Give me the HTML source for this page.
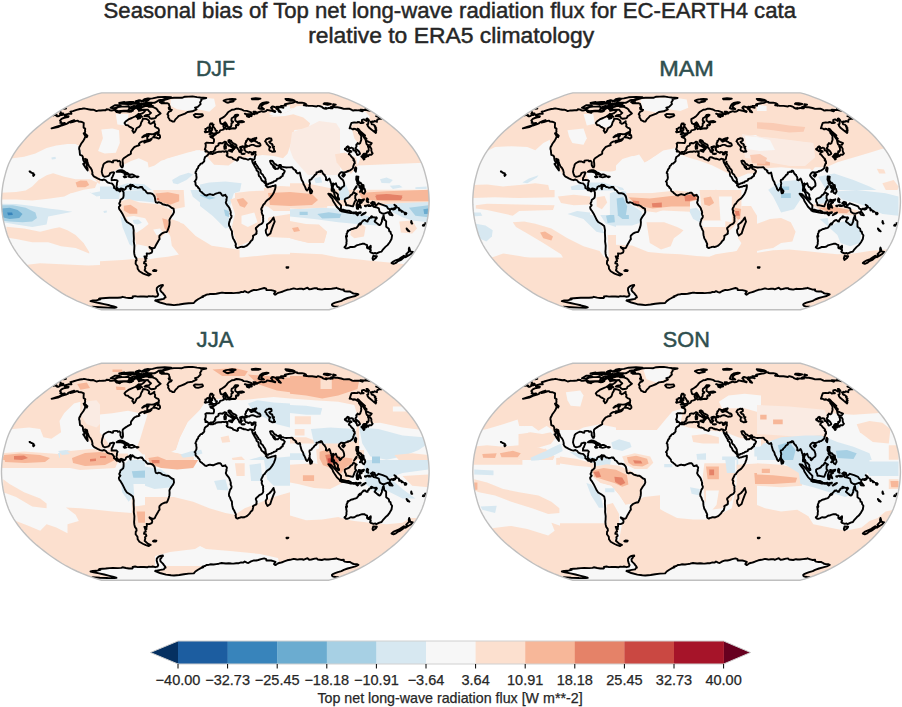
<!DOCTYPE html><html><head><meta charset="utf-8"><style>html,body{margin:0;padding:0;background:#fff;}svg{display:block}</style></head><body>
<svg width="902" height="707" viewBox="0 0 902 707" font-family="&quot;Liberation Sans&quot;, Arial, sans-serif">
<rect width="902" height="707" fill="#fff"/>
<text x="103.6" y="17.7" font-size="21.6" fill="#262626" stroke="#262626" stroke-width="0.45" textLength="692.4" lengthAdjust="spacingAndGlyphs">Seasonal bias of Top net long-wave radiation flux for EC-EARTH4 cata</text>
<text x="308.2" y="42.7" font-size="21.6" fill="#262626" stroke="#262626" stroke-width="0.45" textLength="286.0" lengthAdjust="spacingAndGlyphs">relative to ERA5 climatology</text>
<defs>
<clipPath id="clipDJF"><path d="M329.10,309.75 L333.07,308.65 L337.66,307.16 L342.73,305.32 L348.16,303.18 L353.78,300.79 L359.25,298.21 L364.29,295.54 L368.96,292.78 L373.43,289.93 L377.75,287.01 L381.97,284.02 L386.07,280.97 L390.04,277.87 L393.85,274.71 L397.49,271.52 L400.89,268.28 L404.01,265.01 L406.94,261.72 L409.75,258.40 L412.37,255.07 L414.74,251.73 L416.88,248.37 L418.84,245.01 L420.58,241.65 L422.09,238.28 L423.36,234.92 L424.41,231.56 L425.33,228.20 L426.21,224.83 L427.00,221.47 L427.64,218.11 L428.15,214.75 L428.55,211.39 L428.84,208.02 L429.03,204.66 L429.13,201.30 L429.03,197.94 L428.84,194.58 L428.55,191.21 L428.15,187.85 L427.64,184.49 L427.00,181.13 L426.21,177.77 L425.33,174.40 L424.41,171.04 L423.36,167.68 L422.09,164.32 L420.58,160.95 L418.84,157.59 L416.88,154.23 L414.74,150.87 L412.37,147.53 L409.75,144.20 L406.94,140.88 L404.01,137.59 L400.89,134.32 L397.49,131.08 L393.85,127.89 L390.04,124.73 L386.07,121.63 L381.97,118.58 L377.75,115.59 L373.43,112.67 L368.96,109.82 L364.29,107.06 L359.25,104.39 L353.78,101.81 L348.16,99.42 L342.73,97.28 L337.66,95.44 L333.07,93.95 L329.10,92.85 L101.50,92.85 L97.53,93.95 L92.94,95.44 L87.87,97.28 L82.44,99.42 L76.82,101.81 L71.35,104.39 L66.31,107.06 L61.64,109.82 L57.17,112.67 L52.85,115.59 L48.63,118.58 L44.53,121.63 L40.56,124.73 L36.75,127.89 L33.11,131.08 L29.71,134.32 L26.59,137.59 L23.66,140.88 L20.85,144.20 L18.23,147.53 L15.86,150.87 L13.72,154.23 L11.76,157.59 L10.02,160.95 L8.51,164.32 L7.24,167.68 L6.19,171.04 L5.27,174.40 L4.39,177.77 L3.60,181.13 L2.96,184.49 L2.45,187.85 L2.05,191.21 L1.76,194.58 L1.57,197.94 L1.47,201.30 L1.57,204.66 L1.76,208.02 L2.05,211.39 L2.45,214.75 L2.96,218.11 L3.60,221.47 L4.39,224.83 L5.27,228.20 L6.19,231.56 L7.24,234.92 L8.51,238.28 L10.02,241.65 L11.76,245.01 L13.72,248.37 L15.86,251.73 L18.23,255.07 L20.85,258.40 L23.66,261.72 L26.59,265.01 L29.71,268.28 L33.11,271.52 L36.75,274.71 L40.56,277.87 L44.53,280.97 L48.63,284.02 L52.85,287.01 L57.17,289.93 L61.64,292.78 L66.31,295.54 L71.35,298.21 L76.82,300.79 L82.44,303.18 L87.87,305.32 L92.94,307.16 L97.53,308.65 L101.50,309.75 Z"/></clipPath>
<clipPath id="clipMAM"><path d="M800.40,309.75 L804.37,308.65 L808.96,307.16 L814.03,305.32 L819.46,303.18 L825.08,300.79 L830.55,298.21 L835.59,295.54 L840.26,292.78 L844.73,289.93 L849.05,287.01 L853.27,284.02 L857.37,280.97 L861.34,277.87 L865.15,274.71 L868.79,271.52 L872.19,268.28 L875.31,265.01 L878.24,261.72 L881.05,258.40 L883.67,255.07 L886.04,251.73 L888.18,248.37 L890.14,245.01 L891.88,241.65 L893.39,238.28 L894.66,234.92 L895.71,231.56 L896.63,228.20 L897.51,224.83 L898.30,221.47 L898.94,218.11 L899.45,214.75 L899.85,211.39 L900.14,208.02 L900.33,204.66 L900.43,201.30 L900.33,197.94 L900.14,194.58 L899.85,191.21 L899.45,187.85 L898.94,184.49 L898.30,181.13 L897.51,177.77 L896.63,174.40 L895.71,171.04 L894.66,167.68 L893.39,164.32 L891.88,160.95 L890.14,157.59 L888.18,154.23 L886.04,150.87 L883.67,147.53 L881.05,144.20 L878.24,140.88 L875.31,137.59 L872.19,134.32 L868.79,131.08 L865.15,127.89 L861.34,124.73 L857.37,121.63 L853.27,118.58 L849.05,115.59 L844.73,112.67 L840.26,109.82 L835.59,107.06 L830.55,104.39 L825.08,101.81 L819.46,99.42 L814.03,97.28 L808.96,95.44 L804.37,93.95 L800.40,92.85 L572.80,92.85 L568.83,93.95 L564.24,95.44 L559.17,97.28 L553.74,99.42 L548.12,101.81 L542.65,104.39 L537.61,107.06 L532.94,109.82 L528.47,112.67 L524.15,115.59 L519.93,118.58 L515.83,121.63 L511.86,124.73 L508.05,127.89 L504.41,131.08 L501.01,134.32 L497.89,137.59 L494.96,140.88 L492.15,144.20 L489.53,147.53 L487.16,150.87 L485.02,154.23 L483.06,157.59 L481.32,160.95 L479.81,164.32 L478.54,167.68 L477.49,171.04 L476.57,174.40 L475.69,177.77 L474.90,181.13 L474.26,184.49 L473.75,187.85 L473.35,191.21 L473.06,194.58 L472.87,197.94 L472.77,201.30 L472.87,204.66 L473.06,208.02 L473.35,211.39 L473.75,214.75 L474.26,218.11 L474.90,221.47 L475.69,224.83 L476.57,228.20 L477.49,231.56 L478.54,234.92 L479.81,238.28 L481.32,241.65 L483.06,245.01 L485.02,248.37 L487.16,251.73 L489.53,255.07 L492.15,258.40 L494.96,261.72 L497.89,265.01 L501.01,268.28 L504.41,271.52 L508.05,274.71 L511.86,277.87 L515.83,280.97 L519.93,284.02 L524.15,287.01 L528.47,289.93 L532.94,292.78 L537.61,295.54 L542.65,298.21 L548.12,300.79 L553.74,303.18 L559.17,305.32 L564.24,307.16 L568.83,308.65 L572.80,309.75 Z"/></clipPath>
<clipPath id="clipJJA"><path d="M329.10,580.20 L333.07,579.10 L337.66,577.61 L342.73,575.77 L348.16,573.63 L353.78,571.24 L359.25,568.66 L364.29,565.99 L368.96,563.23 L373.43,560.38 L377.75,557.46 L381.97,554.47 L386.07,551.42 L390.04,548.32 L393.85,545.16 L397.49,541.97 L400.89,538.73 L404.01,535.46 L406.94,532.17 L409.75,528.85 L412.37,525.52 L414.74,522.18 L416.88,518.82 L418.84,515.46 L420.58,512.10 L422.09,508.73 L423.36,505.37 L424.41,502.01 L425.33,498.65 L426.21,495.28 L427.00,491.92 L427.64,488.56 L428.15,485.20 L428.55,481.84 L428.84,478.47 L429.03,475.11 L429.13,471.75 L429.03,468.39 L428.84,465.03 L428.55,461.66 L428.15,458.30 L427.64,454.94 L427.00,451.58 L426.21,448.22 L425.33,444.85 L424.41,441.49 L423.36,438.13 L422.09,434.77 L420.58,431.40 L418.84,428.04 L416.88,424.68 L414.74,421.32 L412.37,417.98 L409.75,414.65 L406.94,411.33 L404.01,408.04 L400.89,404.77 L397.49,401.53 L393.85,398.34 L390.04,395.18 L386.07,392.08 L381.97,389.03 L377.75,386.04 L373.43,383.12 L368.96,380.27 L364.29,377.51 L359.25,374.84 L353.78,372.26 L348.16,369.87 L342.73,367.73 L337.66,365.89 L333.07,364.40 L329.10,363.30 L101.50,363.30 L97.53,364.40 L92.94,365.89 L87.87,367.73 L82.44,369.87 L76.82,372.26 L71.35,374.84 L66.31,377.51 L61.64,380.27 L57.17,383.12 L52.85,386.04 L48.63,389.03 L44.53,392.08 L40.56,395.18 L36.75,398.34 L33.11,401.53 L29.71,404.77 L26.59,408.04 L23.66,411.33 L20.85,414.65 L18.23,417.98 L15.86,421.32 L13.72,424.68 L11.76,428.04 L10.02,431.40 L8.51,434.77 L7.24,438.13 L6.19,441.49 L5.27,444.85 L4.39,448.22 L3.60,451.58 L2.96,454.94 L2.45,458.30 L2.05,461.66 L1.76,465.03 L1.57,468.39 L1.47,471.75 L1.57,475.11 L1.76,478.47 L2.05,481.84 L2.45,485.20 L2.96,488.56 L3.60,491.92 L4.39,495.28 L5.27,498.65 L6.19,502.01 L7.24,505.37 L8.51,508.73 L10.02,512.10 L11.76,515.46 L13.72,518.82 L15.86,522.18 L18.23,525.52 L20.85,528.85 L23.66,532.17 L26.59,535.46 L29.71,538.73 L33.11,541.97 L36.75,545.16 L40.56,548.32 L44.53,551.42 L48.63,554.47 L52.85,557.46 L57.17,560.38 L61.64,563.23 L66.31,565.99 L71.35,568.66 L76.82,571.24 L82.44,573.63 L87.87,575.77 L92.94,577.61 L97.53,579.10 L101.50,580.20 Z"/></clipPath>
<clipPath id="clipSON"><path d="M800.40,580.20 L804.37,579.10 L808.96,577.61 L814.03,575.77 L819.46,573.63 L825.08,571.24 L830.55,568.66 L835.59,565.99 L840.26,563.23 L844.73,560.38 L849.05,557.46 L853.27,554.47 L857.37,551.42 L861.34,548.32 L865.15,545.16 L868.79,541.97 L872.19,538.73 L875.31,535.46 L878.24,532.17 L881.05,528.85 L883.67,525.52 L886.04,522.18 L888.18,518.82 L890.14,515.46 L891.88,512.10 L893.39,508.73 L894.66,505.37 L895.71,502.01 L896.63,498.65 L897.51,495.28 L898.30,491.92 L898.94,488.56 L899.45,485.20 L899.85,481.84 L900.14,478.47 L900.33,475.11 L900.43,471.75 L900.33,468.39 L900.14,465.03 L899.85,461.66 L899.45,458.30 L898.94,454.94 L898.30,451.58 L897.51,448.22 L896.63,444.85 L895.71,441.49 L894.66,438.13 L893.39,434.77 L891.88,431.40 L890.14,428.04 L888.18,424.68 L886.04,421.32 L883.67,417.98 L881.05,414.65 L878.24,411.33 L875.31,408.04 L872.19,404.77 L868.79,401.53 L865.15,398.34 L861.34,395.18 L857.37,392.08 L853.27,389.03 L849.05,386.04 L844.73,383.12 L840.26,380.27 L835.59,377.51 L830.55,374.84 L825.08,372.26 L819.46,369.87 L814.03,367.73 L808.96,365.89 L804.37,364.40 L800.40,363.30 L572.80,363.30 L568.83,364.40 L564.24,365.89 L559.17,367.73 L553.74,369.87 L548.12,372.26 L542.65,374.84 L537.61,377.51 L532.94,380.27 L528.47,383.12 L524.15,386.04 L519.93,389.03 L515.83,392.08 L511.86,395.18 L508.05,398.34 L504.41,401.53 L501.01,404.77 L497.89,408.04 L494.96,411.33 L492.15,414.65 L489.53,417.98 L487.16,421.32 L485.02,424.68 L483.06,428.04 L481.32,431.40 L479.81,434.77 L478.54,438.13 L477.49,441.49 L476.57,444.85 L475.69,448.22 L474.90,451.58 L474.26,454.94 L473.75,458.30 L473.35,461.66 L473.06,465.03 L472.87,468.39 L472.77,471.75 L472.87,475.11 L473.06,478.47 L473.35,481.84 L473.75,485.20 L474.26,488.56 L474.90,491.92 L475.69,495.28 L476.57,498.65 L477.49,502.01 L478.54,505.37 L479.81,508.73 L481.32,512.10 L483.06,515.46 L485.02,518.82 L487.16,522.18 L489.53,525.52 L492.15,528.85 L494.96,532.17 L497.89,535.46 L501.01,538.73 L504.41,541.97 L508.05,545.16 L511.86,548.32 L515.83,551.42 L519.93,554.47 L524.15,557.46 L528.47,560.38 L532.94,563.23 L537.61,565.99 L542.65,568.66 L548.12,571.24 L553.74,573.63 L559.17,575.77 L564.24,577.61 L568.83,579.10 L572.80,580.20 Z"/></clipPath>
</defs>
<text x="195.9" y="76.3" font-size="21.6" fill="#2f4f4f" stroke="#2f4f4f" stroke-width="0.5" textLength="39.2" lengthAdjust="spacingAndGlyphs">DJF</text>
<g clip-path="url(#clipDJF)">
<path d="M329.10,309.75 L333.07,308.65 L337.66,307.16 L342.73,305.32 L348.16,303.18 L353.78,300.79 L359.25,298.21 L364.29,295.54 L368.96,292.78 L373.43,289.93 L377.75,287.01 L381.97,284.02 L386.07,280.97 L390.04,277.87 L393.85,274.71 L397.49,271.52 L400.89,268.28 L404.01,265.01 L406.94,261.72 L409.75,258.40 L412.37,255.07 L414.74,251.73 L416.88,248.37 L418.84,245.01 L420.58,241.65 L422.09,238.28 L423.36,234.92 L424.41,231.56 L425.33,228.20 L426.21,224.83 L427.00,221.47 L427.64,218.11 L428.15,214.75 L428.55,211.39 L428.84,208.02 L429.03,204.66 L429.13,201.30 L429.03,197.94 L428.84,194.58 L428.55,191.21 L428.15,187.85 L427.64,184.49 L427.00,181.13 L426.21,177.77 L425.33,174.40 L424.41,171.04 L423.36,167.68 L422.09,164.32 L420.58,160.95 L418.84,157.59 L416.88,154.23 L414.74,150.87 L412.37,147.53 L409.75,144.20 L406.94,140.88 L404.01,137.59 L400.89,134.32 L397.49,131.08 L393.85,127.89 L390.04,124.73 L386.07,121.63 L381.97,118.58 L377.75,115.59 L373.43,112.67 L368.96,109.82 L364.29,107.06 L359.25,104.39 L353.78,101.81 L348.16,99.42 L342.73,97.28 L337.66,95.44 L333.07,93.95 L329.10,92.85 L101.50,92.85 L97.53,93.95 L92.94,95.44 L87.87,97.28 L82.44,99.42 L76.82,101.81 L71.35,104.39 L66.31,107.06 L61.64,109.82 L57.17,112.67 L52.85,115.59 L48.63,118.58 L44.53,121.63 L40.56,124.73 L36.75,127.89 L33.11,131.08 L29.71,134.32 L26.59,137.59 L23.66,140.88 L20.85,144.20 L18.23,147.53 L15.86,150.87 L13.72,154.23 L11.76,157.59 L10.02,160.95 L8.51,164.32 L7.24,167.68 L6.19,171.04 L5.27,174.40 L4.39,177.77 L3.60,181.13 L2.96,184.49 L2.45,187.85 L2.05,191.21 L1.76,194.58 L1.57,197.94 L1.47,201.30 L1.57,204.66 L1.76,208.02 L2.05,211.39 L2.45,214.75 L2.96,218.11 L3.60,221.47 L4.39,224.83 L5.27,228.20 L6.19,231.56 L7.24,234.92 L8.51,238.28 L10.02,241.65 L11.76,245.01 L13.72,248.37 L15.86,251.73 L18.23,255.07 L20.85,258.40 L23.66,261.72 L26.59,265.01 L29.71,268.28 L33.11,271.52 L36.75,274.71 L40.56,277.87 L44.53,280.97 L48.63,284.02 L52.85,287.01 L57.17,289.93 L61.64,292.78 L66.31,295.54 L71.35,298.21 L76.82,300.79 L82.44,303.18 L87.87,305.32 L92.94,307.16 L97.53,308.65 L101.50,309.75 Z" fill="#fce0cf"/>
<path d="M0.0,161.5 12.9,158.3 24.1,156.7 35.4,153.5 46.6,147.9 56.3,145.5 67.5,143.9 75.6,143.9 79.6,146.3 83.6,160.7 90.0,173.6 98.1,183.2 112.5,186.5 122.2,186.5 119.0,190.0 119.0,206.1 127.0,222.2 133.4,230.2 135.0,254.3 136.7,260.7 120.6,260.7 104.5,264.8 88.4,265.6 72.3,264.8 56.3,264.0 40.2,263.2 27.3,264.8 0.0,264.8Z" fill="#f7f7f7"/>
<path d="M0.0,192.9 16.1,192.1 25.7,190.5 32.2,186.5 38.6,180.0 46.6,175.2 53.1,173.3 64.3,176.8 75.6,179.2 90.0,179.2 97.3,182.4 94.9,188.1 83.6,189.7 72.3,192.9 70.7,193.2 64.3,196.4 48.2,198.8 32.2,200.5 16.1,199.6 0.0,199.6Z" fill="#fce0cf"/>
<path d="M75.6,182.4 80.4,180.4 86.8,180.8 89.2,184.9 85.2,187.3 77.2,187.3Z" fill="#f7b799"/>
<path d="M101.3,129.4 112.5,128.6 119.0,130.2 119.8,143.1 115.8,152.7 104.5,153.5 98.1,151.1 102.9,138.2Z" fill="#f7f7f7"/>
<path d="M115.8,114.1 128.6,114.1 127.0,125.4 117.4,124.6Z" fill="#f7f7f7"/>
<path d="M51.4,157.5 55.5,156.7 55.9,159.1 51.8,159.6Z" fill="#d7e8f1"/>
<path d="M91.6,192.9 104.5,190.5 115.8,186.5 128.6,184.9 145.0,184.1 145.0,200.0 145.0,196.4 123.8,196.4 119.0,199.6 117.4,193.2 96.5,196.4 88.4,191.6Z" fill="#d7e8f1"/>
<path d="M0.0,203.7 16.1,204.1 32.2,206.1 48.2,208.5 61.1,210.1 72.3,211.7 61.1,214.1 48.2,216.5 46.6,224.6 32.2,227.0 16.1,224.6 3.2,222.2 0.0,222.2Z" fill="#d7e8f1"/>
<path d="M0.0,205.3 12.9,205.3 25.7,207.7 35.4,212.5 37.0,218.1 32.2,221.4 22.5,222.2 9.6,221.4 0.0,220.5Z" fill="#a7d0e4"/>
<path d="M1.6,208.5 9.6,207.7 17.7,210.1 22.5,214.1 19.3,218.1 9.6,218.9 2.4,217.3Z" fill="#6bacd0"/>
<path d="M7.2,212.5 12.1,212.5 12.9,214.9 8.0,215.2Z" fill="#3884bb"/>
<path d="M6.4,226.7 24.1,228.6 40.2,231.8 53.1,228.6 59.5,227.3 67.5,230.2 75.6,235.0 83.6,243.1 89.2,251.9 89.2,253.5 75.6,247.9 61.1,246.3 48.2,242.3 32.2,242.3 16.1,239.0 6.4,237.4Z" fill="#fce0cf"/>
<path d="M104.5,211.7 106.9,210.9 107.4,213.3 104.8,213.8Z" fill="#d7e8f1"/>
<path d="M119.8,206.1 127.0,217.3 133.4,225.4 135.0,238.2 134.2,247.9 130.2,243.1 127.0,228.6 122.2,218.9Z" fill="#d7e8f1"/>
<path d="M123.8,207.7 128.6,204.5 135.0,206.1 138.3,210.9 133.4,214.1 125.4,212.5Z" fill="#f7b799"/>
<path d="M170.7,99.6 185.2,98.0 199.7,97.2 214.1,98.8 215.7,106.1 209.3,111.7 198.1,109.3 188.4,110.9 177.2,109.3 170.7,106.1Z" fill="#f7f7f7"/>
<path d="M268.8,114.1 278.4,107.7 290.0,105.3 290.0,118.1 276.8,117.3Z" fill="#f7f7f7"/>
<path d="M145.0,168.8 154.6,165.6 161.1,160.7 172.3,157.5 185.2,154.3 196.4,150.3 204.5,151.1 207.7,157.5 214.1,164.8 228.6,165.6 235.0,160.7 247.9,158.3 257.5,155.9 270.4,155.1 281.7,157.5 290.0,155.9 290.0,200.0 145.0,200.0Z" fill="#f7f7f7"/>
<path d="M173.9,181.6 180.4,176.8 190.0,172.8 193.2,175.2 186.8,181.6 177.2,184.9Z" fill="#d7e8f1"/>
<path d="M153.0,190.5 164.3,188.9 177.2,189.7 182.0,194.5 182.0,200.0 153.0,200.0Z" fill="#fce0cf"/>
<path d="M156.3,194.5 169.1,192.9 178.8,195.3 179.6,200.0 156.3,200.0Z" fill="#f7b799"/>
<path d="M145.0,190.0 290.0,190.0 290.0,254.3 273.6,254.3 257.5,255.9 241.5,257.5 225.4,256.7 209.3,252.7 193.2,246.3 180.4,251.1 178.8,259.1 145.0,259.1Z" fill="#f7f7f7"/>
<path d="M198.1,184.9 209.3,182.4 225.4,181.6 241.5,183.2 239.9,191.3 225.4,196.1 215.7,200.0 235.0,190.0 231.8,199.6 228.6,214.1 230.2,227.0 225.4,228.6 212.5,215.7 198.1,204.5 190.0,198.0 190.0,190.0 198.1,200.0Z" fill="#d7e8f1"/>
<path d="M198.1,194.8 206.1,194.8 215.7,198.0 209.3,199.6Z" fill="#a7d0e4"/>
<path d="M223.8,209.3 228.6,210.9 229.4,217.3 225.4,215.7Z" fill="#a7d0e4"/>
<path d="M235.0,192.9 249.5,191.3 267.2,190.5 281.7,189.7 290.0,188.1 290.0,200.0 235.0,200.0Z" fill="#fce0cf"/>
<path d="M145.0,206.1 148.2,190.0 185.2,190.0 185.2,207.7 173.9,210.9 183.6,222.2 186.8,231.8 180.4,235.0 169.1,238.2 161.1,236.6 154.6,231.8 145.0,230.2Z" fill="#fce0cf"/>
<path d="M154.6,193.2 169.1,191.6 182.0,194.0 183.6,202.9 177.2,206.1 164.3,205.3 156.3,201.3Z" fill="#f7b799"/>
<path d="M161.1,219.7 167.5,218.9 173.1,224.6 175.5,232.6 170.7,233.4 163.5,227.0Z" fill="#f7b799"/>
<path d="M230.2,199.6 244.7,194.8 260.8,194.8 267.2,199.6 262.4,210.9 260.8,223.8 255.9,231.8 249.5,241.4 238.2,246.3 235.0,238.2 231.8,227.0 235.0,214.1Z" fill="#fce0cf"/>
<path d="M241.5,215.7 254.3,212.5 257.5,222.2 247.9,227.0 241.5,223.8Z" fill="#f7f7f7"/>
<path d="M236.6,199.6 243.1,198.0 247.9,202.9 244.7,207.7 239.9,206.1Z" fill="#f7b799"/>
<path d="M264.0,194.8 290.0,191.6 290.0,210.9 273.6,210.9 267.2,206.1Z" fill="#fce0cf"/>
<path d="M272.0,196.4 290.0,193.2 290.0,204.5 273.6,206.1Z" fill="#f7b799"/>
<path d="M268.8,217.3 290.0,214.1 290.0,236.6 273.6,236.6 267.2,230.2Z" fill="#fce0cf"/>
<path d="M290.0,108.5 309.3,106.1 330.2,107.7 351.1,110.1 365.6,111.7 370.4,117.3 360.7,120.5 351.1,125.4 354.3,138.2 359.1,144.7 360.7,157.5 357.5,165.6 435.0,162.3 435.0,189.7 338.2,189.7 322.2,186.5 306.1,183.2 290.0,183.2Z" fill="#f7f7f7"/>
<path d="M290.0,115.7 299.6,114.1 309.3,118.9 318.9,122.2 330.2,123.8 335.0,131.8 328.6,136.6 322.2,141.4 331.8,146.3 338.2,151.1 335.0,157.5 327.0,160.7 314.1,159.1 306.1,165.6 298.0,165.6 290.0,160.7Z" fill="#faebe3"/>
<path d="M335.0,154.3 344.7,152.7 355.9,157.5 357.5,165.6 351.1,173.6 343.1,170.4 336.6,162.3Z" fill="#fce0cf"/>
<path d="M380.0,179.2 386.5,177.6 392.9,180.0 389.7,183.2 381.6,182.9Z" fill="#d7e8f1"/>
<path d="M389.7,185.7 399.3,184.9 402.5,187.3 392.9,188.9Z" fill="#d7e8f1"/>
<path d="M415.4,187.3 426.7,186.5 426.7,188.9 415.4,188.9Z" fill="#d7e8f1"/>
<path d="M314.1,178.4 320.5,176.8 322.2,182.4 315.7,183.2Z" fill="#d7e8f1"/>
<path d="M290.0,189.7 330.2,188.1 338.2,192.9 338.2,200.0 290.0,200.0Z" fill="#fce0cf"/>
<path d="M338.2,186.5 346.3,184.9 349.5,192.9 347.9,200.0 339.8,200.0Z" fill="#d7e8f1"/>
<path d="M290.0,206.1 435.0,206.1 435.0,264.0 402.5,264.0 386.5,262.3 370.4,260.7 354.3,259.1 338.2,257.5 322.2,254.3 306.1,253.5 290.0,252.7Z" fill="#f7f7f7"/>
<path d="M290.0,190.0 327.0,190.0 328.6,199.6 327.0,207.7 290.0,207.7Z" fill="#fce0cf"/>
<path d="M290.0,199.6 302.9,198.8 315.7,201.3 312.5,204.5 299.6,205.3 290.0,205.3Z" fill="#f7b799"/>
<path d="M357.5,200.0 357.5,192.9 386.5,191.3 435.0,189.7 435.0,200.0 428.3,201.3 386.5,201.3 362.3,199.6 357.5,190.0Z" fill="#f7b799"/>
<path d="M375.2,194.8 386.5,194.0 402.5,195.6 400.9,198.8 380.0,198.8Z" fill="#e58268"/>
<path d="M375.2,196.1 389.7,194.5 402.5,196.9 400.9,200.0 376.8,200.0Z" fill="#e58268"/>
<path d="M290.0,209.3 322.2,207.7 346.3,209.3 359.1,214.1 373.6,217.3 376.8,225.4 354.3,223.8 338.2,222.2 314.1,218.9 290.0,216.5Z" fill="#d7e8f1"/>
<path d="M299.6,211.7 307.7,211.7 307.7,214.9 299.6,214.9Z" fill="#a7d0e4"/>
<path d="M317.3,214.1 328.6,212.2 341.4,214.1 339.8,218.1 322.2,218.6Z" fill="#a7d0e4"/>
<path d="M380.0,204.5 402.5,202.9 428.3,202.1 428.3,222.2 412.2,220.5 402.5,217.3 392.9,212.5Z" fill="#d7e8f1"/>
<path d="M409.0,207.7 428.3,205.3 428.3,217.3 415.4,215.7Z" fill="#a7d0e4"/>
<path d="M423.4,209.3 428.3,208.5 428.3,214.1 424.2,214.1Z" fill="#6bacd0"/>
<path d="M290.0,222.2 306.1,224.6 318.9,224.6 327.0,231.8 323.8,243.1 309.3,243.1 296.4,239.8 290.0,238.2Z" fill="#fce0cf"/>
<path d="M290.0,227.0 296.4,227.3 298.0,230.2 290.0,231.0Z" fill="#f7b799"/>
<path d="M351.1,228.6 360.7,223.8 365.6,227.0 364.0,236.6 354.3,238.2 350.3,235.0Z" fill="#fce0cf"/>
<path d="M399.3,221.4 412.2,220.5 417.0,228.6 412.2,233.4 400.9,232.6Z" fill="#fce0cf"/>
<path d="M122.2,165.5 131.0,161.1 138.8,158.3 147.7,162.2 148.8,168.8 157.6,165.5 166.5,158.8 177.6,155.5 188.7,152.2 200.0,150.0 200.0,200.0 100.0,200.0 100.0,176.6 106.7,176.6 111.1,172.2 116.6,169.9Z" fill="#f7f7f7"/>
<path d="M172.1,179.9 179.8,175.5 188.7,172.7 193.1,174.4 186.5,179.9 177.6,184.3 173.2,183.2Z" fill="#d7e8f1"/>
<path d="M100.0,186.6 116.6,186.6 127.7,183.2 144.3,184.3 153.2,191.0 152.1,200.0 100.0,200.0Z" fill="#d7e8f1"/>
<path d="M152.1,191.0 166.5,189.9 179.8,191.0 182.0,200.0 152.1,200.0Z" fill="#fce0cf"/>
<path d="M154.3,193.2 166.5,192.1 177.6,193.2 179.8,200.0 155.4,200.0Z" fill="#f7b799"/>
<path d="M240.0,112.0 268.3,117.1 279.6,114.8 289.8,110.8 296.6,106.3 307.9,105.2 340.0,106.3 340.0,175.0 240.0,175.0Z" fill="#fce0cf"/>
<path d="M268.3,117.1 279.6,114.8 289.8,110.8 296.6,106.3 307.9,105.2 340.0,106.3 340.0,175.0 283.0,175.0 283.0,158.3 287.5,153.8 289.8,147.0 292.0,140.2 294.3,130.1 307.9,128.9 310.1,123.3 303.3,117.6 293.2,114.2 285.2,115.9Z" fill="#f7f7f7"/>
<path d="M292.0,132.3 307.9,126.7 319.2,121.0 336.2,123.3 340.0,128.9 340.0,175.0 307.9,175.0 301.1,167.4 293.2,158.3 289.8,149.3Z" fill="#faebe3"/>
<path d="M240.0,158.3 251.3,156.7 262.6,155.0 273.9,156.1 283.0,158.3 283.0,175.0 240.0,175.0Z" fill="#f7f7f7"/>
<path d="M335.0,154.3 344.7,152.7 355.9,157.5 357.5,165.6 351.1,173.6 343.1,170.4 336.6,162.3Z" fill="#fce0cf"/>
<path d="M264.0,188.0 280.0,186.0 300.0,187.0 320.0,189.0 328.0,195.0 326.0,207.0 300.0,209.0 280.0,208.0 264.0,206.0Z" fill="#fce0cf"/>
<path d="M268.0,193.0 290.0,192.0 312.0,194.0 318.0,200.0 312.0,205.0 290.0,206.0 270.0,205.0Z" fill="#f7b799"/>
<path d="M268.0,218.0 290.0,221.0 306.0,224.0 319.0,225.0 327.0,232.0 324.0,243.0 309.0,243.0 296.0,240.0 290.0,238.0 268.0,237.0Z" fill="#fce0cf"/>
<path d="M292.0,228.0 298.0,227.0 300.0,231.0 294.0,232.0Z" fill="#f7b799"/>
<path d="M100.0,190.0 200.0,190.0 200.0,270.0 100.0,270.0Z" fill="#f7f7f7"/>
<path d="M100.0,190.0 120.4,190.0 119.2,199.0 100.0,199.0Z" fill="#d7e8f1"/>
<path d="M122.6,191.1 143.0,190.0 153.2,196.8 154.3,202.4 143.0,201.3 128.3,200.2 122.6,197.9Z" fill="#d7e8f1"/>
<path d="M190.5,190.0 200.0,190.0 200.0,202.4 192.8,196.8Z" fill="#d7e8f1"/>
<path d="M153.2,190.0 183.7,190.0 184.8,207.0 173.5,209.2 163.3,204.7 154.3,200.2Z" fill="#fce0cf"/>
<path d="M155.4,193.4 167.9,192.3 179.2,194.5 179.2,201.3 170.1,204.7 158.8,201.3Z" fill="#f7b799"/>
<path d="M156.6,197.9 158.8,197.9 159.4,200.2 157.1,200.2Z" fill="#e58268"/>
<path d="M120.4,201.3 129.4,199.0 139.6,202.4 150.9,203.6 161.1,204.7 172.4,210.4 170.1,221.7 165.6,233.0 158.8,239.8 153.2,248.8 147.5,253.3 138.5,253.3 135.1,239.8 133.9,227.3 126.0,220.5 119.2,210.4Z" fill="#fce0cf"/>
<path d="M123.8,205.8 130.5,204.7 137.3,209.2 137.3,213.8 129.4,213.8 123.8,210.4Z" fill="#f7b799"/>
<path d="M126.0,217.1 133.9,216.0 145.2,218.3 148.6,223.9 143.0,228.5 136.2,233.0 131.7,226.2Z" fill="#f7f7f7"/>
<path d="M132.8,220.0 138.5,219.4 141.9,222.8 137.3,224.5 133.9,223.4Z" fill="#d7e8f1"/>
<path d="M153.2,229.6 160.0,228.5 163.3,233.0 156.6,235.2Z" fill="#f7f7f7"/>
<path d="M137.3,244.3 147.5,246.6 149.8,253.3 147.5,260.1 138.5,260.1 136.2,253.3Z" fill="#f7f7f7"/>
<path d="M167.9,218.3 179.2,221.7 186.0,229.6 183.7,240.9 173.5,239.8 167.9,233.0Z" fill="#fce0cf"/>
<path d="M162.2,218.3 166.7,219.4 172.4,223.9 174.7,231.9 170.1,233.0 164.5,228.5Z" fill="#f7b799"/>
<path d="M120.4,216.0 126.0,220.5 132.8,228.5 132.8,246.6 129.4,244.3 122.6,227.3Z" fill="#d7e8f1"/>
<path d="M100.0,261.3 122.6,260.1 133.9,259.0 137.3,260.1 137.3,270.0 100.0,270.0Z" fill="#fce0cf"/>
<path d="M145.2,260.1 156.6,257.9 167.9,256.7 179.2,254.5 200.0,251.1 200.0,270.0 145.2,270.0Z" fill="#fce0cf"/>
<path d="M137.3,257.9 145.2,257.9 145.2,270.0 137.3,270.0Z" fill="#fce0cf"/>
<path d="M103.4,210.9 106.8,210.4 106.8,212.6 104.0,213.0Z" fill="#d7e8f1"/>
<path d="M167.8,217.9 183.7,223.9 195.7,235.9 211.7,245.8 239.6,249.8 239.6,259.8 199.7,257.8 179.7,255.8 171.8,245.8Z" fill="#fce0cf"/>
<path d="M101.5,309.8 91.6,306.7 99.9,307.2 107.6,307.6 114.6,307.7 116.5,307.4 113.8,306.5 109.5,305.3 104.2,304.1 99.0,303.0 93.7,301.9 90.5,301.1 92.8,300.5 96.3,300.4 98.2,299.9 100.4,299.4 99.1,298.6 99.8,298.4 102.5,298.2 105.7,298.0 109.5,297.7 112.9,297.6 117.7,297.7 121.2,297.5 122.5,296.8 125.9,297.6 129.0,298.0 132.4,298.0 132.9,297.2 132.7,296.4 135.1,296.1 137.6,296.6 140.5,296.5 143.9,296.5 147.6,296.7 148.9,296.2 151.3,296.4 152.6,296.1 155.3,296.7 157.4,296.3 158.2,294.8 158.2,294.3 157.4,292.8 157.0,291.2 156.7,290.3 156.8,288.2 157.9,286.9 159.0,286.1 161.3,285.1 162.9,285.0 162.9,285.7 162.0,286.1 161.4,287.4 160.2,288.7 160.4,290.6 161.3,291.7 162.9,293.1 163.6,294.1 164.4,295.2 165.2,296.2 165.6,297.3 164.5,297.8 164.1,298.4 163.8,298.9 160.5,299.5 156.7,300.2 155.4,300.3 155.2,300.7 160.0,302.5 166.0,304.2 171.0,304.8 174.0,305.1 179.3,304.5 183.9,303.7 188.7,303.2 193.8,303.0 195.4,301.1 198.0,299.3 200.8,297.7 203.1,296.8 202.4,296.3 205.1,295.5 206.5,294.6 209.1,294.2 210.4,293.9 213.6,294.0 216.3,293.7 218.8,293.2 221.7,292.6 223.4,292.8 225.9,293.0 228.8,292.9 231.4,293.0 233.5,293.1 236.2,292.9 238.8,292.8 241.2,292.0 243.4,292.1 244.7,291.1 246.8,292.1 248.3,292.6 251.0,291.0 254.0,289.9 256.2,290.1 258.3,289.6 261.0,288.8 264.2,288.0 266.2,288.7 266.4,290.1 268.5,290.1 271.1,290.1 273.4,290.7 275.5,291.5 274.0,293.7 275.2,294.7 276.0,294.4 277.5,293.1 279.0,292.6 280.1,292.3 282.9,291.5 284.2,290.9 287.1,289.8 290.1,289.4 293.7,288.4 295.7,288.9 297.3,289.1 299.7,288.8 302.2,288.8 303.4,289.4 307.5,287.7 309.2,289.2 311.4,289.0 314.8,288.2 316.9,288.1 317.7,289.0 319.5,289.2 321.9,289.6 324.7,288.8 326.3,289.0 328.5,289.0 331.6,288.7 334.9,288.3 336.3,287.8 337.7,288.5 339.9,289.1 341.4,289.6 343.8,289.4 343.5,290.4 344.8,291.2 347.2,291.5 349.7,291.4 351.0,292.1 351.7,292.4 352.2,293.0 354.0,293.6 355.7,293.7 357.3,293.9 358.4,294.3 355.4,296.0 351.8,296.9 347.6,298.0 343.8,299.5 341.4,300.8 337.9,301.8 335.1,302.7 332.8,303.6 331.9,304.5 332.1,305.3 332.7,305.9 334.3,306.4 336.5,306.6 339.0,306.7 329.1,309.8Z" fill="#f7f7f7"/>
<path d="M64.5,114.9 64.7,116.1 65.6,116.3 68.6,116.3 68.2,117.1 66.3,117.4 63.5,118.0 61.5,118.8 60.0,120.6 61.0,121.8 60.3,122.9 63.3,123.2 64.8,123.0 63.1,124.1 59.1,126.0 55.8,126.9 51.6,128.4 54.2,127.9 57.9,127.1 61.6,125.5 65.9,124.2 68.1,123.2 68.1,122.5 71.8,120.9 74.3,120.2 71.7,121.5 70.2,122.6 72.5,122.1 76.2,120.9 77.8,120.6 78.7,121.6 80.9,121.8 82.2,122.1 83.8,123.0 83.7,124.1 83.6,126.0 83.6,127.6 84.9,128.4 85.3,128.8 85.0,130.1 85.2,131.5 84.7,132.9 85.4,133.9 86.3,134.8 87.4,135.8 86.8,137.2 86.0,136.5 85.2,136.7 84.6,138.5 83.3,140.9 81.1,143.8 80.0,146.2 79.3,147.1 79.1,149.0 79.6,150.5 79.7,152.1 80.0,154.8 82.1,155.6 82.9,156.9 82.9,157.6 83.0,158.8 83.4,160.6 84.5,162.3 84.4,163.5 83.2,163.9 84.2,165.4 85.6,167.8 87.6,170.5 87.6,168.8 86.9,166.5 86.5,163.8 86.1,161.6 85.0,158.8 85.7,159.1 87.0,159.7 87.5,162.0 88.1,163.8 89.2,166.5 90.5,167.7 91.8,170.0 92.5,172.9 92.2,173.9 93.2,175.6 94.2,176.7 96.2,177.6 98.1,178.7 100.2,179.6 102.3,180.2 104.1,179.5 105.8,180.3 106.8,181.8 108.1,182.6 109.8,183.1 111.8,183.4 112.4,184.0 113.4,185.2 114.1,186.4 114.0,187.9 114.8,188.4 115.5,188.5 116.3,189.9 117.1,190.4 118.5,190.4 119.9,191.5 120.5,191.2 120.3,190.1 121.2,189.3 122.5,190.0 122.9,191.2 123.6,192.3 123.6,195.9 123.2,197.8 121.7,199.1 120.4,200.1 120.1,201.8 119.2,203.5 119.7,204.7 120.4,205.1 120.0,205.9 118.9,206.9 118.9,208.0 119.4,209.4 120.7,211.0 122.2,213.4 124.2,217.4 125.4,219.9 126.9,222.0 130.3,224.0 132.9,225.9 133.7,230.1 133.6,233.0 133.9,238.4 133.8,241.6 134.4,245.7 134.3,249.0 134.1,251.3 134.3,253.7 134.9,256.4 136.4,258.4 136.6,260.4 135.8,260.9 135.6,263.8 137.5,266.3 137.7,268.8 139.4,271.3 143.3,273.6 145.9,274.7 148.8,275.6 149.8,274.7 150.7,274.3 148.3,273.4 145.9,271.6 145.6,271.1 144.7,270.5 144.8,269.6 145.3,268.3 145.0,266.7 146.4,265.4 145.8,263.7 144.0,263.3 144.4,261.7 145.8,261.2 145.2,258.8 146.6,258.5 145.1,258.0 144.4,256.4 146.7,256.5 146.9,254.0 146.7,253.5 149.3,253.6 151.7,252.7 152.2,251.3 152.2,250.2 151.2,248.8 149.8,247.8 149.5,246.9 150.4,247.6 152.3,248.2 153.8,248.2 154.9,247.6 155.2,246.6 156.3,244.5 157.6,242.3 158.6,240.3 159.6,239.2 159.3,237.1 159.5,235.7 161.7,233.6 163.6,232.6 165.3,232.1 166.7,232.1 167.7,230.3 168.3,228.6 168.9,226.9 169.4,225.0 169.6,222.4 169.4,219.9 169.9,218.8 171.6,216.1 173.1,214.2 174.0,212.1 173.9,210.8 173.6,208.7 171.8,208.0 169.6,206.3 167.8,205.2 166.0,205.2 163.8,204.5 162.6,204.3 160.7,202.8 158.5,202.1 157.6,202.9 155.9,202.4 155.4,201.0 155.1,198.9 154.6,196.6 153.8,195.4 152.6,194.0 150.1,193.2 147.6,193.2 146.4,192.2 145.3,190.5 143.6,189.7 142.7,188.0 141.2,187.3 142.1,186.9 140.4,186.9 139.0,187.6 137.4,187.7 135.8,187.0 134.7,187.0 133.8,185.8 132.4,186.0 132.5,184.9 131.1,185.4 130.4,186.0 130.7,186.8 130.6,189.2 130.0,188.0 131.0,187.3 130.8,185.7 130.1,185.3 130.6,184.6 128.6,186.2 127.7,186.1 126.1,187.0 125.7,188.7 124.4,189.7 123.8,189.6 122.8,188.9 121.1,188.4 119.6,189.3 118.6,189.2 118.0,188.9 116.7,187.3 116.4,186.4 116.9,184.5 116.9,183.0 117.6,181.1 116.4,180.1 114.5,179.9 112.5,180.1 111.6,180.2 111.8,177.8 112.6,176.7 113.2,175.1 114.2,172.7 113.7,172.3 112.1,172.4 110.1,173.1 109.7,174.5 108.5,175.9 106.7,176.4 104.8,176.8 103.2,176.0 102.8,175.3 102.2,173.6 101.7,171.8 102.2,168.6 102.9,166.6 103.5,164.3 104.6,163.2 106.7,162.0 108.2,161.4 110.2,161.5 111.7,162.2 113.0,162.3 113.2,160.7 115.1,160.4 117.1,160.4 117.9,161.4 119.4,160.8 120.4,162.0 120.4,163.6 120.4,165.0 121.1,166.5 121.8,167.4 122.4,167.4 123.0,165.9 122.9,163.2 122.6,161.1 122.7,159.5 123.7,158.3 126.0,156.7 127.5,155.7 129.5,154.6 130.9,153.8 130.9,151.7 131.6,150.3 132.4,149.4 133.0,148.6 134.5,146.9 135.7,146.5 137.1,145.8 138.6,145.5 139.4,145.1 138.9,143.8 140.0,142.6 141.8,141.7 143.9,141.1 145.1,140.6 146.9,140.5 144.9,141.5 144.3,142.7 146.2,141.9 148.1,141.4 150.2,140.6 151.5,139.4 151.7,138.4 150.1,139.6 148.7,139.8 147.2,139.3 147.3,137.7 147.1,136.8 148.4,136.1 148.7,135.6 147.8,135.4 146.3,135.5 144.3,136.3 142.2,137.3 144.2,135.5 145.8,135.0 146.9,134.1 148.8,133.9 151.6,134.2 153.5,134.1 156.9,132.4 158.6,131.7 159.0,130.2 158.3,128.4 156.3,127.6 154.8,126.2 155.2,124.6 154.3,123.1 154.4,121.3 153.1,122.4 151.5,123.5 150.1,123.7 149.6,123.0 148.7,122.7 149.3,121.4 148.6,120.3 147.4,119.4 145.8,118.9 143.6,118.6 142.8,118.8 142.4,120.6 141.3,122.2 140.4,125.4 139.1,126.9 136.8,128.0 135.1,131.7 133.7,132.8 133.1,131.5 132.3,130.6 133.2,128.8 131.2,127.5 129.3,126.7 128.1,125.4 125.8,125.0 124.5,123.0 125.6,121.5 128.4,119.4 131.8,118.0 134.9,116.5 136.9,115.4 138.7,113.8 139.9,114.1 142.3,113.4 144.1,112.1 145.2,110.7 144.4,109.8 141.1,110.3 138.9,110.9 138.6,109.8 137.4,108.8 139.0,107.6 136.8,107.6 135.3,108.2 133.0,109.8 131.4,111.6 129.5,111.7 126.3,111.2 123.4,111.2 120.6,111.9 119.9,112.8 118.1,112.3 116.6,112.1 115.6,111.1 115.0,109.9 111.7,110.5 109.8,110.3 109.4,109.6 106.6,109.3 105.6,110.2 103.2,110.3 100.6,110.5 99.1,110.4 96.4,111.1 94.5,110.2 93.0,109.6 90.9,109.7 88.4,109.3 86.5,108.9 84.0,108.4 82.0,108.8 80.0,109.0 76.6,109.8 72.9,111.1 70.4,111.6 71.2,112.3 70.9,113.1 71.5,113.8 70.1,113.7 68.3,113.8 64.5,114.9ZM192.5,96.4 197.0,97.1 200.4,97.5 206.3,98.0 201.2,99.1 201.5,100.3 200.1,102.3 200.6,104.1 197.8,106.9 195.0,107.6 196.6,109.3 192.4,111.3 187.6,112.0 185.0,113.6 181.7,114.9 178.4,116.2 177.5,117.4 175.4,119.4 174.2,121.5 172.8,121.6 171.0,120.6 169.9,120.4 169.1,118.7 168.1,117.3 168.4,115.4 167.4,114.3 168.1,113.0 169.0,111.6 171.2,110.8 171.8,109.8 169.0,109.1 170.0,108.2 168.6,107.9 169.8,106.9 169.3,105.7 168.8,103.9 167.1,103.2 164.2,103.3 161.4,103.2 159.9,102.3 163.8,101.9 161.3,101.1 159.8,100.9 164.0,100.0 167.3,99.1 170.3,98.1 174.0,97.7 178.7,97.7 182.0,97.8 184.9,96.7 188.4,96.6 192.5,96.4ZM160.6,113.4 157.6,115.6 156.2,116.2 155.9,117.5 154.8,118.3 151.5,118.8 149.8,118.1 148.9,116.5 147.2,116.3 144.4,116.1 146.0,115.1 149.1,114.6 151.0,112.9 148.8,111.1 148.0,109.6 145.0,109.7 141.7,109.4 139.7,108.9 141.6,107.3 145.3,106.1 149.6,105.8 151.6,106.7 153.8,107.4 155.8,108.3 157.4,109.7 157.7,110.7 159.4,112.3 160.6,113.4ZM154.5,102.8 151.6,102.9 145.5,103.0 147.2,101.8 146.4,100.8 144.7,100.3 148.1,98.9 152.6,98.4 157.3,97.3 164.7,96.9 171.1,97.2 169.3,98.0 165.6,98.6 162.6,99.6 158.9,100.2 157.6,101.1 154.5,102.8ZM148.1,100.3 144.4,100.9 143.2,100.3 144.4,99.1 147.9,98.4 149.8,99.0 148.1,100.3ZM150.9,104.8 143.2,104.9 141.9,103.9 145.3,102.8 152.0,102.8 150.9,104.8ZM140.7,106.7 135.7,107.6 134.6,106.8 136.7,105.8 140.3,105.4 140.7,106.7ZM127.8,110.7 123.8,110.7 118.0,111.1 115.1,109.9 115.0,108.8 118.0,107.1 121.8,106.6 124.7,106.6 128.4,106.3 129.1,106.7 129.3,108.7 127.8,110.7ZM114.3,108.2 110.6,107.7 114.8,105.2 119.2,105.1 121.0,106.1 117.0,107.3 114.3,108.2ZM131.7,103.8 127.8,104.0 122.7,103.7 125.0,102.5 130.0,102.0 133.5,102.0 131.7,103.8ZM137.1,103.9 133.1,103.9 135.3,102.7 138.8,102.7 137.1,103.9ZM130.2,108.2 132.4,108.5 134.9,107.6 136.0,106.1 134.0,106.0 131.1,106.9 130.2,108.2ZM129.0,111.4 131.0,111.5 133.0,110.7 132.8,109.9 130.9,110.2 129.0,111.4ZM135.7,107.6 137.7,107.7 140.5,106.9 141.5,105.4 138.7,105.3 135.7,107.6ZM137.5,104.6 140.1,104.8 142.2,104.0 141.1,103.4 138.4,103.8 137.5,104.6ZM119.2,103.0 121.4,103.8 124.9,102.9 124.4,101.9 119.2,103.0ZM135.6,101.3 138.4,101.5 140.7,100.5 139.1,100.1 135.6,101.3ZM141.3,101.3 143.6,101.3 145.1,100.3 143.1,100.2 141.3,101.3ZM148.5,106.7 151.6,106.9 152.9,105.9 149.8,105.7 148.5,106.7ZM137.8,118.9 140.1,118.2 139.4,117.7 137.8,118.2 137.8,118.9ZM145.5,105.4 148.6,105.7 150.4,105.0 147.3,104.8 145.5,105.4ZM127.3,104.1 130.3,104.6 132.3,103.9 130.3,103.2 127.3,104.1ZM142.1,116.9 139.4,116.8 136.6,117.0 137.6,115.1 139.7,114.5 141.3,116.1 142.1,116.9ZM153.1,137.3 156.1,137.5 158.8,138.6 160.1,137.5 160.0,135.9 159.5,134.8 157.8,135.0 158.8,132.2 157.3,132.6 155.5,134.3 153.1,137.3ZM83.7,133.3 86.0,134.3 86.7,136.3 85.4,136.1 84.2,134.3 83.7,133.3ZM116.6,171.8 118.0,170.6 120.2,170.1 121.9,170.2 124.2,171.2 125.6,172.3 127.3,172.9 128.8,174.0 127.1,174.5 124.6,174.5 125.0,173.5 123.9,172.9 122.8,172.3 120.9,171.8 119.4,171.6 118.2,171.7 116.6,171.8ZM128.3,176.6 130.6,174.5 132.7,174.5 134.2,175.3 135.4,176.3 133.4,176.8 131.3,177.4 129.3,176.8 128.3,176.6ZM123.7,176.6 125.2,176.4 126.1,177.1 124.5,177.4 123.7,176.6ZM136.7,176.4 138.5,176.7 137.4,177.2 136.6,177.1 136.7,176.4ZM33.5,174.1 34.3,174.8 33.4,175.9 33.1,175.1 33.5,174.1ZM32.9,173.1 33.5,173.3 33.0,173.6 32.9,173.1ZM31.1,172.3 31.7,172.7 31.2,172.7 31.1,172.3ZM29.6,171.4 30.1,171.4 29.8,171.8 29.6,171.4ZM153.0,270.6 154.5,270.0 156.4,270.4 155.9,271.1 153.9,271.1 153.0,270.6ZM209.4,134.2 211.6,133.9 213.8,133.4 215.9,133.3 216.7,132.6 216.2,132.0 217.0,130.8 215.6,130.4 215.4,129.7 214.8,128.5 213.7,127.1 212.7,126.6 213.3,125.2 213.6,124.6 211.8,124.5 212.3,123.4 210.5,123.4 209.9,124.6 209.6,126.0 210.3,127.0 210.5,128.1 211.9,128.0 212.3,129.3 212.2,130.1 210.7,130.1 211.1,130.7 211.0,131.5 210.0,132.0 211.9,132.5 211.0,132.9 209.4,134.2ZM209.2,131.6 209.1,129.9 209.6,128.4 209.1,127.6 208.1,127.5 207.1,127.8 206.6,128.8 205.3,128.9 205.5,129.9 205.9,131.0 204.8,131.7 205.3,132.4 207.0,132.0 209.2,131.6ZM195.2,116.8 193.8,115.0 195.3,113.9 199.3,114.2 202.4,114.1 203.0,115.5 201.7,116.4 198.1,117.5 195.7,117.0 195.2,116.8ZM223.6,100.7 226.1,99.7 227.5,99.4 230.0,99.2 231.0,100.1 233.6,101.3 231.8,101.8 230.0,102.0 228.2,102.7 226.2,102.3 224.8,101.3 223.6,100.7ZM228.9,99.1 232.1,98.9 235.6,99.3 233.2,100.0 230.2,99.8 228.9,99.1ZM258.5,108.2 260.1,108.9 264.0,109.0 261.2,107.1 261.9,105.4 264.1,103.9 266.5,103.3 268.5,102.4 266.5,102.3 262.3,103.0 260.2,104.6 259.4,106.0 258.5,108.2ZM252.2,99.4 258.1,99.4 260.5,98.7 255.7,98.3 251.7,98.7 252.2,99.4ZM286.6,100.1 290.2,100.8 294.6,100.7 292.4,99.7 288.5,99.0 285.4,98.9 286.6,100.1ZM323.7,103.9 327.8,104.7 329.7,104.4 331.0,104.0 327.2,103.1 324.2,103.2 323.7,103.9ZM333.1,105.6 335.8,104.7 333.1,104.1 333.1,105.6ZM64.4,108.2 66.0,108.5 63.7,108.8 64.4,108.2ZM365.6,108.5 366.2,108.2 367.3,108.8 365.6,108.5ZM365.6,139.6 366.6,138.8 363.5,135.6 365.1,135.5 360.2,131.1 358.3,128.9 357.5,128.8 358.8,131.1 362.4,135.0 364.7,138.5 365.6,139.6ZM365.7,140.4 368.7,141.9 371.7,143.1 370.5,144.9 368.4,145.1 366.9,144.6 366.3,143.1 365.7,140.4ZM368.4,145.5 370.4,147.1 371.4,148.9 371.3,150.5 372.1,152.9 372.6,153.3 371.9,154.2 371.2,154.8 369.0,154.8 368.3,156.2 366.8,154.8 364.7,155.2 362.6,155.6 362.8,154.8 363.9,153.6 366.7,153.4 367.0,151.1 367.9,151.8 368.7,150.5 368.6,147.8 367.9,146.5 368.4,145.5ZM362.4,155.7 363.9,156.4 364.5,159.1 363.8,159.6 362.5,157.6 361.4,156.5 362.4,155.7ZM364.7,156.5 365.2,155.2 366.7,155.4 366.7,156.7 365.5,157.2 364.7,156.5ZM355.6,167.3 356.3,168.2 355.8,171.8 354.7,170.2 355.2,167.7 355.6,167.3ZM342.2,175.5 344.0,174.3 344.9,174.9 343.5,176.8 342.2,175.5ZM356.4,176.4 358.4,176.6 358.0,179.9 358.8,182.2 361.6,184.0 360.5,182.7 358.0,183.0 357.2,181.8 356.2,179.5 356.4,176.4ZM359.9,191.9 361.6,190.9 362.6,193.0 364.0,193.8 365.3,191.5 364.7,188.9 363.6,188.1 362.1,190.3 360.7,190.4 359.9,191.9ZM361.9,184.5 363.5,185.2 363.8,187.6 362.9,187.9 362.1,186.0 361.9,184.5ZM359.3,185.4 360.6,186.2 360.1,187.2 359.4,187.2 359.3,185.4ZM360.1,187.0 361.2,186.6 361.1,189.1 360.1,188.0 360.1,187.0ZM357.1,183.1 358.5,183.5 358.1,184.8 357.1,183.1ZM354.1,190.0 356.5,187.2 356.6,186.1 355.4,187.9 354.1,190.0ZM328.3,193.8 331.0,194.3 334.4,197.9 338.5,202.6 341.1,205.3 340.9,209.1 339.3,209.2 336.7,206.7 335.2,204.3 333.1,201.0 332.4,198.9 330.7,196.9 328.3,193.8ZM340.0,210.4 341.6,209.4 343.7,209.8 346.3,210.6 348.9,210.6 350.9,211.7 350.7,213.0 347.9,212.5 344.1,211.7 341.4,211.3 340.0,210.4ZM351.5,212.2 352.3,212.6 351.7,213.1 351.5,212.2ZM352.6,212.6 353.5,212.5 353.1,213.3 352.6,212.6ZM353.6,212.7 356.2,212.3 355.9,213.1 353.5,213.4 353.6,212.7ZM357.1,212.9 360.7,212.2 360.4,213.0 357.3,213.3 357.1,212.9ZM356.2,214.1 358.2,214.6 357.5,215.2 356.2,214.1ZM361.4,215.2 363.4,213.4 365.7,212.6 364.4,213.7 361.9,215.0 361.4,215.2ZM344.8,199.3 345.5,198.6 347.6,197.9 349.4,197.0 350.7,195.1 352.3,194.3 353.6,192.0 354.9,193.2 356.7,194.2 355.3,195.5 355.2,198.6 356.4,200.0 354.9,201.3 353.6,204.7 353.0,206.3 351.2,206.0 349.4,205.6 347.9,205.3 346.1,205.2 345.9,203.3 344.8,201.3 344.8,199.3ZM356.9,208.7 358.1,208.8 358.5,204.8 359.6,206.9 361.0,207.8 360.1,205.3 359.4,203.9 361.8,202.5 359.9,202.5 358.9,199.6 361.3,200.1 364.0,199.3 363.2,200.8 358.1,200.9 357.6,202.0 356.5,204.9 356.9,208.7ZM367.2,198.3 368.2,199.3 367.6,200.8 368.4,202.4 366.9,201.7 366.6,200.0 367.2,198.3ZM367.3,205.3 369.6,205.2 370.7,206.1 368.7,206.1 367.3,205.3ZM364.9,205.6 366.3,205.7 365.8,206.4 364.9,206.1 364.9,205.6ZM370.9,203.2 372.7,201.8 374.6,202.5 375.6,205.9 378.6,203.3 382.7,204.8 386.8,206.4 388.2,208.7 390.2,209.5 389.7,211.4 391.3,213.4 392.6,215.2 389.7,214.9 388.2,212.2 384.9,213.4 383.9,213.8 382.2,213.5 379.9,212.2 379.4,211.0 378.8,208.3 376.1,207.2 373.7,206.7 372.0,205.1 373.8,204.4 371.2,203.3 370.9,203.2ZM391.2,208.8 393.2,208.7 395.0,207.9 395.9,206.9 395.1,208.8 393.4,209.6 391.2,208.8ZM394.4,204.8 396.3,206.1 397.0,207.5 396.4,206.9 394.4,204.8ZM398.7,208.0 400.1,210.0 399.2,210.4 398.7,208.0ZM400.8,210.2 402.8,211.5 401.7,211.9 400.8,210.2ZM404.3,212.5 406.1,214.2 405.0,214.3 404.3,212.5ZM405.7,212.6 406.4,213.4 405.8,213.4 405.7,212.6ZM411.3,220.9 411.7,222.4 411.1,222.5 411.3,220.9ZM411.8,223.1 412.2,223.5 411.6,223.5 411.8,223.1ZM406.6,228.5 407.9,229.8 409.4,231.3 407.8,230.6 406.7,229.0 406.6,228.5ZM423.2,224.8 424.5,225.0 424.0,225.8 422.8,225.6 423.2,224.8ZM425.2,223.2 426.5,223.4 425.5,223.9 425.2,223.2ZM309.8,188.1 312.2,191.2 311.6,193.0 310.3,193.2 309.8,190.5 309.8,188.1ZM273.5,217.4 274.7,221.7 273.3,224.8 271.8,228.9 270.3,233.6 267.5,235.6 266.0,232.9 265.7,230.2 267.1,227.9 266.9,224.6 269.7,222.5 271.8,220.1 273.5,217.4ZM373.2,256.0 376.9,256.3 375.8,258.0 373.1,259.9 372.5,258.4 373.2,256.0ZM409.2,247.6 409.9,249.7 410.1,251.3 412.9,252.0 410.8,254.0 409.0,255.1 405.6,257.2 405.2,256.8 406.9,254.8 406.2,254.1 408.9,251.5 408.8,248.8 409.2,247.6ZM403.9,255.7 404.8,256.8 402.0,259.1 400.5,260.1 398.1,261.1 395.9,262.9 393.5,263.8 391.5,263.0 393.3,261.5 395.5,260.4 399.0,259.1 401.5,257.3 403.9,255.7ZM286.5,267.2 288.4,267.1 287.9,267.9 286.6,267.9 286.5,267.2ZM251.5,154.1 253.9,153.3 253.3,154.3 251.9,154.6 251.5,154.1ZM241.6,153.8 244.7,153.8 243.0,154.2 241.6,153.8ZM229.0,150.2 232.5,149.8 232.1,151.9 229.0,150.7 229.0,150.2ZM224.5,148.9 225.9,148.6 226.0,146.3 224.2,146.2 224.5,148.9ZM224.7,145.4 225.5,145.7 225.4,143.5 224.7,144.1 224.7,145.4ZM245.8,145.4 247.1,145.9 249.2,146.1 250.3,145.3 251.6,144.9 253.4,144.9 255.4,145.8 257.0,146.3 258.3,146.1 259.3,146.2 260.5,145.5 260.3,144.1 259.3,143.0 258.7,143.4 258.2,143.0 256.7,141.8 255.3,141.3 254.3,140.6 255.0,140.4 255.7,139.3 255.0,138.8 256.4,138.2 256.3,137.8 255.5,138.1 254.6,138.2 254.1,138.6 253.0,138.8 252.2,139.2 252.4,140.0 253.0,140.2 254.0,140.2 253.9,140.7 252.8,141.0 251.5,141.7 250.8,141.4 251.0,140.9 249.9,140.5 249.9,140.2 250.9,139.7 250.5,139.4 248.8,139.2 248.7,138.6 247.7,138.8 247.5,139.6 246.8,140.5 246.8,140.9 246.3,141.1 246.0,141.0 246.0,142.6 245.4,143.1 245.2,144.1 245.6,144.9 245.8,145.4ZM269.2,141.8 270.5,143.4 271.9,143.8 272.3,144.3 272.6,144.7 272.2,145.1 272.8,146.1 272.9,146.3 274.1,146.7 273.0,147.5 273.7,148.5 274.1,148.9 274.0,150.2 275.1,151.3 274.9,151.5 272.4,151.8 270.9,151.0 269.8,150.7 269.3,149.8 269.2,149.1 269.4,148.9 269.5,148.3 269.5,147.3 270.4,147.1 270.0,146.9 269.4,146.7 268.0,145.1 266.5,143.5 266.4,142.6 265.1,141.4 265.8,140.1 266.6,139.0 267.1,139.0 268.0,138.8 269.1,138.2 270.1,138.5 271.1,138.4 271.5,139.3 271.6,140.5 270.1,141.5 269.2,141.8ZM383.7,215.7 384.3,219.9 385.5,220.4 386.2,221.5 386.1,223.2 386.2,226.7 388.8,228.7 389.3,231.3 390.5,231.7 390.9,233.7 392.1,235.3 391.5,239.1 389.7,242.2 387.5,245.1 385.4,246.9 383.1,249.3 381.6,251.6 379.4,252.1 376.3,253.7 375.3,252.9 373.5,253.5 370.7,252.4 370.0,251.6 370.8,250.5 370.5,249.2 369.7,249.2 370.8,247.6 370.7,245.7 370.2,247.2 368.6,248.6 368.9,247.4 369.8,246.5 367.6,248.2 367.0,247.7 367.1,245.1 365.2,244.3 364.3,243.7 362.2,243.8 359.1,244.7 356.7,245.3 355.2,246.4 354.4,246.9 352.7,247.0 351.0,246.9 350.1,247.0 349.2,247.7 347.1,248.4 345.9,248.4 345.1,247.6 344.5,247.3 344.8,246.5 345.7,246.1 346.5,243.8 346.4,242.5 346.7,241.0 346.5,240.0 346.6,239.6 346.3,239.1 346.3,238.0 346.0,236.9 345.9,236.4 346.4,236.9 346.2,235.7 346.7,236.1 346.9,236.7 347.1,236.0 346.7,234.9 346.7,234.5 346.5,234.1 346.8,233.3 347.1,233.0 347.4,232.4 347.4,231.6 348.0,230.6 348.0,231.6 348.6,230.6 349.7,230.2 350.3,229.7 351.3,229.1 351.9,229.0 352.1,229.1 353.1,228.7 353.8,228.6 354.5,228.1 355.1,228.2 356.4,227.8 357.1,227.1 357.6,226.4 358.3,225.8 358.6,224.6 359.7,223.4 359.9,224.6 360.6,224.3 360.2,223.6 360.7,223.0 361.2,223.2 361.5,222.3 362.2,221.6 362.6,221.1 363.2,220.8 363.3,220.4 363.7,220.5 363.8,220.3 365.0,219.9 365.7,220.5 366.3,221.3 367.0,221.3 367.7,221.5 367.6,220.7 368.3,219.6 368.9,219.3 368.8,218.9 369.4,218.1 370.1,217.7 370.7,217.8 371.8,217.6 371.9,216.9 371.0,216.5 371.7,216.2 372.4,216.6 373.0,217.2 373.9,217.4 374.3,217.3 375.0,217.7 375.7,217.4 376.2,217.4 376.4,217.3 376.9,218.0 376.5,218.6 375.9,219.2 375.5,219.2 375.6,219.7 375.2,220.4 374.6,221.1 374.7,221.5 375.5,222.3 376.3,222.7 377.5,223.9 377.9,223.9 378.4,224.3 378.5,224.7 379.5,225.1 380.4,224.7 380.8,223.9 381.1,223.4 381.4,222.5 382.0,221.5 381.9,220.9 382.0,219.7 382.4,218.6 382.5,218.4 382.5,218.0 383.1,216.5 383.2,216.1 383.7,215.7Z" fill="none" stroke="#000" stroke-width="1.9" stroke-linejoin="round"/>
<path d="M209.1,152.9 208.3,152.2 207.1,151.3 205.4,151.5 205.6,149.8 204.8,149.3 205.6,147.3 205.8,144.9 205.3,143.5 206.7,142.6 209.9,142.9 213.4,143.0 214.0,141.3 214.0,139.3 213.0,138.0 210.6,137.1 210.3,136.3 212.2,135.9 213.6,136.1 213.3,134.7 214.3,135.1 215.5,134.7 216.9,133.1 218.6,132.6 219.6,131.7 220.1,130.4 222.2,129.9 223.9,129.3 223.8,127.4 223.2,126.0 223.7,125.2 225.6,124.5 225.4,126.0 226.0,126.6 225.2,128.1 226.3,129.2 227.8,128.7 229.3,129.2 231.7,128.5 233.7,128.3 235.1,128.5 236.2,127.5 235.8,125.6 236.3,124.9 238.0,125.4 238.8,124.2 237.8,123.1 238.9,122.2 242.0,122.2 244.0,121.8 242.2,121.0 239.9,121.1 237.1,121.9 235.3,120.5 235.2,118.6 235.8,117.0 237.5,115.8 238.2,115.0 237.2,114.6 235.2,114.9 234.5,116.1 233.4,117.3 231.7,118.3 231.4,120.0 231.6,121.0 233.1,121.6 232.7,122.5 231.4,123.4 231.4,125.4 230.9,126.5 229.3,127.4 228.0,127.3 227.8,126.4 226.8,124.6 225.8,123.0 225.2,122.2 223.4,123.7 221.9,124.0 220.7,123.4 220.0,120.9 220.0,119.2 221.8,118.2 223.1,117.4 224.8,116.2 226.5,114.4 227.6,112.9 228.7,111.7 230.4,110.7 231.9,109.8 234.0,109.6 236.4,108.6 238.9,108.8 241.7,109.5 243.7,110.6 246.8,110.9 251.2,112.3 251.7,113.5 250.1,114.3 246.5,114.1 244.8,113.7 246.4,114.5 247.0,116.3 249.1,117.0 249.8,116.3 248.3,115.8 248.7,115.5 251.2,116.2 251.8,115.8 251.0,115.0 252.7,113.8 254.5,114.3 253.5,111.7 255.6,111.7 256.3,112.4 255.6,113.2 256.9,113.5 257.8,112.5 261.7,111.1 262.8,111.7 265.1,111.5 266.3,110.9 267.1,109.9 271.2,110.7 275.1,112.0 275.3,111.4 274.1,110.8 272.7,110.4 272.2,108.9 271.0,107.8 271.8,106.7 272.8,106.5 275.8,107.4 276.5,108.7 278.4,110.3 278.8,111.6 280.9,112.3 279.7,110.8 278.4,109.9 278.4,109.1 276.7,108.3 277.6,107.5 276.9,106.7 278.6,107.6 280.0,107.2 278.7,106.6 281.4,107.3 283.4,107.8 281.9,106.9 281.0,105.9 285.8,105.6 284.6,104.9 284.9,104.3 287.4,103.8 289.7,103.3 292.7,102.9 293.8,102.4 295.3,101.6 297.1,101.9 297.0,102.5 299.1,102.8 301.9,102.6 304.3,103.1 306.0,104.1 305.5,104.4 304.1,104.9 303.8,105.2 305.0,105.4 306.5,105.7 307.0,105.4 308.3,105.9 312.2,105.9 316.6,106.5 317.6,105.9 318.8,105.9 321.0,106.5 322.3,107.2 322.5,107.7 324.4,108.5 326.3,108.9 325.8,107.8 327.7,108.3 328.7,107.9 330.9,108.4 331.0,108.0 332.6,108.2 330.6,107.2 331.9,106.7 335.7,107.3 337.5,107.3 341.2,108.0 343.8,108.9 347.7,108.7 349.6,108.8 351.9,109.8 352.1,110.2 353.6,110.5 354.5,110.3 355.9,110.2 357.8,110.4 359.2,110.3 362.3,111.3 362.8,110.9 360.9,110.2 360.7,109.7 363.8,110.0 365.5,109.9 368.8,110.5 370.8,110.9M377.8,115.6 377.4,116.2 376.1,116.1 377.7,116.7 379.6,117.6 381.7,118.8 379.6,118.6 378.1,119.4 377.4,119.5 377.1,120.4 376.8,121.3 377.0,121.8 374.6,120.9 373.4,121.9 372.3,121.4 372.2,122.0 370.6,121.8 371.3,122.6 371.6,123.9 372.2,124.4 373.6,124.6 375.4,126.4 374.6,126.5 375.3,127.5 376.2,128.0 375.3,128.8 376.4,130.2 375.2,130.6 376.2,131.9 375.8,133.0 374.6,132.1 372.3,130.2 368.9,127.4 367.6,125.6 367.7,124.9 367.1,124.4 368.2,124.0 368.3,122.5 368.5,121.3 369.0,120.3 367.5,118.5 366.5,118.6 367.3,119.7 366.5,121.0 363.8,119.4 362.0,119.9 361.9,121.9 363.6,122.7 361.8,123.0 360.5,123.1 359.5,122.2 357.8,122.0 357.2,122.6 354.2,122.5 351.5,122.9 350.6,125.2 349.6,128.3 351.4,128.4 352.5,129.2 353.7,129.4 353.8,128.8 355.0,128.9 357.6,130.3 358.8,131.5 359.0,132.8 360.2,134.3 361.3,136.4 361.1,138.2 361.3,139.2 361.0,140.7 360.4,142.2 360.3,143.0 359.3,143.8 358.6,143.8 357.6,143.1 356.8,144.6 356.8,144.6 356.5,144.3 356.2,145.0 356.6,146.2 356.6,146.3 356.0,147.3 355.6,147.8 355.3,148.5 355.8,148.7 356.7,149.4 358.5,151.0 359.2,151.8 360.0,153.4 359.8,154.1 358.9,154.4 358.3,154.9 357.3,155.0 356.9,154.4 356.7,153.3 355.5,151.9 356.3,151.7 355.0,150.6 354.3,150.3 354.3,150.5 354.0,150.6 353.7,150.2 353.3,150.2 353.3,149.3 353.1,149.1 353.0,148.3 352.8,148.1 352.0,147.9 351.5,147.7 350.1,148.1 349.5,148.6 348.6,149.0 348.8,148.3 348.3,147.8 348.8,147.0 347.8,146.3 347.1,146.7 346.3,147.7 346.0,148.5 345.0,148.6 344.8,149.3 345.8,150.1 346.8,150.3 347.2,151.0 348.0,151.3 348.9,150.3 350.1,150.9 350.9,150.9 351.4,151.7 350.0,151.9 349.7,152.8 349.0,153.4 348.8,154.2 350.2,155.0 351.2,156.4 352.3,157.6 353.5,158.7 353.9,159.6 353.3,160.0 353.8,160.8 354.6,161.2 354.7,162.3 354.8,163.4 354.2,163.5 353.8,164.9 353.2,166.3 353.2,167.3 352.7,168.4 351.3,169.6 349.9,170.6 348.6,170.8 348.0,171.4 347.5,171.0 346.9,171.6 345.4,172.3 344.3,172.5 344.1,174.0 343.5,174.0 343.0,173.1 343.2,172.5 341.5,172.1 341.1,172.3 339.7,173.5 338.9,174.7 338.8,175.6 339.9,177.1 341.3,178.8 342.5,179.6 343.3,180.7 344.1,183.3 344.2,185.6 343.4,186.5 342.0,187.3 341.2,188.5 339.8,189.7 339.3,188.9 339.6,187.9 338.6,187.2 337.6,187.0 337.1,186.2 336.4,184.9 335.9,183.3 334.4,184.2 334.2,184.4 333.1,183.3 333.4,184.8 332.9,186.8 332.7,188.9 333.5,188.9 334.1,190.1 334.4,191.3 335.0,192.0 335.7,192.3 336.4,193.0 336.7,193.2 337.5,193.9 338.0,194.7 337.9,196.3 338.0,196.7 338.2,197.5 338.7,197.9 339.1,199.1 339.1,199.6 338.2,199.7 337.1,198.6 335.7,197.5 335.6,196.9 334.8,196.1 334.7,194.8 334.2,194.2 334.2,193.2 334.0,192.6 333.5,192.2 333.2,191.5 331.9,190.0 331.7,190.8 331.6,190.0 331.6,189.2 331.9,187.9 331.7,186.9 332.0,186.0 331.4,185.2 331.4,183.7 330.9,183.0 330.4,181.4 329.9,179.6 329.3,178.6 328.6,179.2 327.4,180.2 326.7,180.1 325.9,179.8 326.1,178.0 325.7,176.8 324.5,175.2 324.7,174.8 323.9,174.5 323.0,173.5 322.5,172.8 322.3,172.1 322.0,171.4 321.4,170.6 320.4,170.6 320.6,171.2 320.3,172.0 319.7,171.7 319.6,171.8 319.3,171.8 318.8,171.6 318.7,172.1 317.9,172.1 316.5,172.4 316.7,173.5 316.2,174.1 314.7,175.1 313.6,176.7 312.8,177.5 311.7,178.4 311.7,179.0 311.2,179.4 310.2,179.8 309.6,179.9 309.4,181.0 309.8,182.7 310.0,183.8 309.6,185.0 309.7,187.3 309.0,187.4 308.6,188.5 309.0,188.9 308.0,189.3 307.5,190.1 307.1,190.5 306.0,189.3 305.3,187.4 304.7,186.1 304.3,185.4 303.6,184.2 303.2,182.5 302.8,181.7 301.6,179.8 300.9,177.2 300.4,175.5 300.2,173.9 299.8,172.5 298.3,173.3 297.4,173.2 295.7,171.6 296.2,171.0 295.8,170.6 294.3,169.4 293.4,169.2 292.9,168.1 292.0,167.1 289.8,167.4 288.0,167.4 286.4,167.5 284.1,167.1 282.8,166.9 281.5,166.7 280.8,165.0 280.3,164.9 279.4,165.0 278.3,165.7 276.9,165.3 275.6,164.2 274.4,163.8 273.6,162.6 272.4,160.8 271.9,161.0 271.0,160.6 270.7,161.1 270.0,161.0 270.4,161.6 270.3,161.9 270.7,162.8 271.3,164.0 271.9,164.3 272.2,164.9 273.1,165.4 273.1,166.5 273.2,166.9 273.6,167.3 273.9,167.7 274.0,167.9 274.4,168.2 274.8,168.2 274.9,167.4 274.8,166.6 274.4,166.2 274.1,166.3 273.9,167.8 275.3,169.0 276.2,168.8 277.1,168.8 277.8,168.9 278.6,167.9 279.3,167.1 280.0,166.2 280.3,165.8 280.4,165.9 280.4,166.5 280.3,166.7 280.5,167.8 281.1,168.8 281.8,169.2 282.6,169.4 283.3,169.6 284.4,170.8 284.8,171.0 284.3,172.5 283.9,172.9 283.5,173.9 282.9,173.7 282.7,174.1 282.7,174.8 282.8,175.6 282.8,175.9 281.5,176.3 281.4,177.0 281.2,177.2 280.5,177.2 280.1,177.6 280.1,178.2 279.6,178.4 278.9,178.4 278.2,178.8 277.6,178.8 276.8,179.2 276.6,179.9 276.6,180.3 275.5,180.9 273.7,181.5 272.7,182.5 272.1,182.5 271.7,182.5 271.1,183.0 270.3,183.3 269.4,183.4 269.0,183.4 268.8,183.8 268.5,183.9 268.4,184.2 267.8,184.2 267.4,184.4 266.6,184.4 266.2,183.5 266.3,182.7 266.0,182.3 265.8,181.4 265.4,180.9 265.6,180.7 265.5,180.2 265.6,179.9 265.5,179.4 265.3,178.7 264.9,178.3 264.9,177.8 264.3,177.4 263.5,176.2 263.1,175.1 262.2,174.1 261.7,174.0 260.8,172.7 260.6,171.7 260.7,170.9 259.9,169.4 259.3,168.9 258.7,168.6 258.3,167.8 258.3,167.5 257.9,166.9 257.5,166.6 257.0,165.5 256.2,164.5 255.6,163.5 255.0,163.5 255.2,162.8 255.1,162.3 255.2,161.8 254.9,162.4 254.7,163.2 254.6,163.9 254.2,164.2 253.2,163.1 252.3,161.2 252.2,161.2 252.7,162.7 253.5,164.0 254.6,166.2 255.1,166.9 255.5,167.7 256.7,169.2 256.4,169.3 256.5,170.2 258.0,171.4 258.2,171.7 258.6,173.1 258.6,174.7 259.2,176.3 259.6,176.6 260.3,177.1 261.0,178.7 261.5,179.9 262.1,180.6 263.8,181.8 264.4,182.6 265.2,183.4 265.5,183.8 266.1,184.2 266.4,184.6 266.4,185.2 265.7,185.6 266.2,185.8 266.7,186.1 266.9,186.6 267.4,187.3 268.0,187.3 269.2,186.9 270.4,186.8 271.4,186.4 272.0,186.2 272.5,186.0 273.1,186.0 273.5,186.0 274.0,185.7 274.7,185.6 275.1,185.2 275.6,185.2 275.6,185.6 275.5,186.2 275.6,187.0 275.4,187.4 275.2,188.9 274.6,190.4 274.0,192.2 272.9,194.2 271.9,195.7 270.6,197.4 269.5,198.6 267.7,199.8 266.5,200.9 265.2,202.5 264.9,203.2 264.7,203.6 264.0,204.0 263.2,204.8 262.9,205.7 262.5,206.3 262.3,207.1 261.8,207.6 261.2,209.2 261.3,210.0 262.0,210.4 262.1,210.8 261.7,211.7 261.8,212.1 261.7,212.7 262.0,213.5 262.5,214.9 262.9,215.2 263.2,215.8 263.0,217.2 263.2,218.2 263.1,220.4 263.3,221.1 262.9,222.0 262.4,223.0 261.6,223.8 260.4,224.3 259.1,225.0 257.7,226.4 257.3,226.6 256.4,227.7 255.9,227.9 255.8,228.9 256.3,229.9 256.5,230.6 256.5,231.0 256.7,231.0 256.5,232.4 256.3,232.9 256.6,233.2 256.4,233.7 255.8,234.2 254.8,234.7 253.4,235.5 252.9,235.9 253.0,236.4 253.2,236.5 253.1,237.2 252.8,238.3 252.6,239.4 252.2,240.0 251.3,240.7 251.1,240.8 250.6,241.5 250.2,242.2 249.5,243.1 248.0,244.6 247.2,245.4 246.3,245.9 245.0,246.5 244.5,246.6 244.3,246.9 243.7,246.8 243.1,247.0 241.9,246.8 241.2,246.9 240.7,246.9 239.4,247.4 238.5,247.6 237.8,248.1 237.3,248.1 236.8,247.7 236.5,247.6 236.0,247.0 236.0,247.2 235.8,246.9 235.9,246.1 235.5,245.1 235.9,244.9 235.9,243.9 235.3,242.6 234.8,241.5 234.8,241.5 234.0,239.8 233.2,238.7 232.8,237.7 232.6,236.4 232.3,235.5 232.0,233.4 232.0,231.8 231.9,231.0 231.5,230.5 230.9,229.4 230.2,227.8 230.0,226.9 229.1,225.6 229.0,224.6 228.9,223.8 229.2,222.5 229.5,221.3 229.7,220.7 230.0,219.5 230.3,218.9 231.0,218.1 231.4,217.4 231.5,216.5 231.5,215.7 231.1,215.3 230.8,214.5 230.6,213.7 230.6,213.3 230.9,212.9 230.6,211.5 230.4,210.6 229.8,209.8 229.9,209.5 229.8,209.1 229.4,208.0 228.5,206.7 227.3,205.3 226.5,204.1 225.8,202.8 225.8,202.4 226.0,202.0 226.3,200.9 226.6,200.0 226.3,199.7 226.7,198.2 226.9,197.1 226.5,196.3 225.9,196.1 225.6,195.4 225.4,195.2 225.4,194.8 224.2,195.4 223.7,195.2 223.3,195.7 222.3,195.5 221.7,194.7 221.2,193.8 220.4,192.8 219.6,192.8 218.5,192.8 217.6,193.1 216.6,193.4 214.7,194.2 214.0,194.6 213.0,195.0 211.9,194.6 211.4,194.6 210.6,194.3 209.8,194.3 208.4,194.6 207.6,195.0 206.4,195.5 206.2,195.4 205.8,195.4 204.6,194.8 203.6,193.8 202.5,193.1 201.8,192.2 201.4,192.0 200.6,191.5 200.0,190.8 199.8,190.3 199.7,189.3 199.1,188.5 198.6,188.0 198.0,187.6 197.9,186.9 197.8,186.6 197.5,186.5 196.8,185.8 196.3,185.8 196.1,185.4 196.1,185.2 195.7,184.9 195.6,184.6 195.5,183.5 195.6,183.0 195.2,181.9 194.6,181.5 195.1,181.3 195.7,180.3 195.9,179.6 196.4,179.1 196.4,178.4 196.6,177.1 196.5,177.0 196.3,175.6 196.2,174.9 196.3,174.3 196.1,173.6 195.4,173.1 195.5,172.5 195.6,171.8 196.0,171.4 196.4,170.8 196.4,170.4 196.8,169.4 197.5,168.5 197.8,168.4 198.2,167.5 198.2,166.9 198.7,165.9 199.4,165.5 200.3,164.2 200.8,163.6 201.9,163.5 202.8,162.6 203.4,162.2 204.3,161.1 204.2,159.3 204.7,158.3 204.8,157.5 205.5,156.7 206.6,156.0 207.5,155.4 208.4,154.1 208.7,153.2 209.5,153.2 210.2,153.8 211.3,153.7 212.4,154.0 212.8,154.0 214.0,153.3 215.2,153.0 215.9,152.5 217.0,152.1 218.9,151.8 220.6,151.7 221.2,151.9 222.3,151.4 223.4,151.4 223.9,151.7 224.6,151.7 225.8,151.1 226.6,151.3 226.6,151.9 227.5,151.4 227.6,151.7 227.1,152.4 227.1,153.0 227.5,153.3 227.4,154.5 226.6,155.2 226.9,155.8 227.6,155.8 227.8,156.5 228.3,156.8 229.6,157.2 230.1,157.1 231.0,157.3 232.5,157.9 233.1,159.1 234.2,159.3 235.8,159.9 237.1,160.6 237.6,160.3 238.1,159.6 237.7,158.5 238.1,158.0 238.9,157.3 239.6,157.2 241.2,157.5 241.6,158.0 242.0,158.0 242.4,158.3 243.5,158.4 243.9,158.8 245.4,158.8 246.5,159.2 247.7,159.6 248.2,159.7 249.0,159.3 249.5,158.9 250.5,158.8 251.3,159.1 251.6,159.7 251.9,159.2 252.8,159.6 253.7,159.7 254.3,159.3 254.6,158.9 254.7,158.1 254.8,157.2 254.9,156.8 255.2,155.7 255.7,154.8 255.4,153.7 255.3,153.2 255.6,151.9 254.9,152.1 253.9,151.8 253.2,152.6 251.5,152.8 250.6,152.1 249.3,151.9 249.2,152.5 248.4,152.8 247.2,151.9 246.0,151.9 245.2,150.6 244.3,149.9 244.8,148.9 244.1,148.2 245.1,147.0 246.8,146.9 247.1,145.9 245.8,145.4 244.8,146.3 244.2,147.3 243.7,146.7 243.0,146.3 242.4,146.3 241.2,146.6 242.0,147.4 241.5,147.6 240.8,147.6 240.2,146.9 240.0,147.1 240.3,147.9 241.0,148.6 240.6,148.9 241.2,149.5 241.8,149.9 241.9,150.6 240.8,150.3 241.2,151.0 240.6,151.1 241.1,152.4 240.4,152.4 239.4,151.8 238.9,150.7 238.6,149.8 238.1,149.1 237.5,148.5 237.5,148.1 237.2,147.9 237.2,147.7 236.5,147.1 236.4,146.6 236.4,145.7 236.5,145.3 236.3,145.0 236.1,144.9 235.7,144.5 235.3,144.2 234.2,143.8 233.5,143.3 232.5,142.9 231.6,141.9 231.8,141.8 231.2,141.3 231.2,140.7 230.5,140.6 230.2,141.1 229.9,140.7 229.8,140.2 230.0,140.1 229.2,140.0 228.4,140.4 228.5,141.0 228.4,141.4 228.8,142.1 229.8,142.7 230.4,143.8 231.7,144.9 232.5,144.9 232.9,145.3 232.6,145.5 233.6,145.9 234.4,146.3 235.4,147.0 235.5,147.3 235.4,147.8 234.6,147.1 233.8,147.0 233.3,147.8 234.2,148.3 234.1,149.0 233.6,149.1 233.1,150.2 232.7,150.3 232.6,149.9 232.8,149.1 233.0,148.9 232.5,147.5 231.7,147.3 231.3,146.7 230.7,146.5 230.1,145.9 229.3,145.8 228.4,145.3 227.4,144.3 226.6,143.7 226.2,142.3 225.7,142.2 224.8,141.7 224.3,141.9 223.8,142.5 223.2,142.6 222.3,143.4 220.2,143.0 218.6,143.4 218.5,144.2 218.6,145.0 217.6,145.9 216.2,146.2 216.1,146.6 215.4,147.4 215.0,148.5 215.4,149.3 214.7,149.8 214.5,150.7 213.7,151.0 213.0,151.9 210.4,151.9 209.7,152.5 209.3,153.0 209.1,152.9M59.8,110.9 60.5,111.9 61.1,113.0 60.0,113.7 60.2,114.1 61.2,113.1 63.3,113.4 63.6,114.4 61.9,115.0 60.3,115.1 58.7,116.2 58.1,116.4 57.2,116.4 57.0,116.1 56.3,115.7 56.9,115.1 56.2,115.0 55.0,115.1 55.0,114.8 55.9,114.3 54.5,114.5 54.1,115.1 52.8,115.6M91.6,306.7 99.9,307.2 107.6,307.6 114.6,307.7 116.5,307.4 113.8,306.5 109.5,305.3 104.2,304.1 99.0,303.0 93.7,301.9 90.5,301.1 92.8,300.5 96.3,300.4 98.2,299.9 100.4,299.4 99.1,298.6 99.8,298.4 102.5,298.2 105.7,298.0 109.5,297.7 112.9,297.6 117.7,297.7 121.2,297.5 122.5,296.8 125.9,297.6 129.0,298.0 132.4,298.0 132.9,297.2 132.7,296.4 135.1,296.1 137.6,296.6 140.5,296.5 143.9,296.5 147.6,296.7 148.9,296.2 151.3,296.4 152.6,296.1 155.3,296.7 157.4,296.3 158.2,294.8 158.2,294.3 157.4,292.8 157.0,291.2 156.7,290.3 156.8,288.2 157.9,286.9 159.0,286.1 161.3,285.1 162.9,285.0 162.9,285.7 162.0,286.1 161.4,287.4 160.2,288.7 160.4,290.6 161.3,291.7 162.9,293.1 163.6,294.1 164.4,295.2 165.2,296.2 165.6,297.3 164.5,297.8 164.1,298.4 163.8,298.9 160.5,299.5 156.7,300.2 155.4,300.3 155.2,300.7 160.0,302.5 166.0,304.2 171.0,304.8 174.0,305.1 179.3,304.5 183.9,303.7 188.7,303.2 193.8,303.0 195.4,301.1 198.0,299.3 200.8,297.7 203.1,296.8 202.4,296.3 205.1,295.5 206.5,294.6 209.1,294.2 210.4,293.9 213.6,294.0 216.3,293.7 218.8,293.2 221.7,292.6 223.4,292.8 225.9,293.0 228.8,292.9 231.4,293.0 233.5,293.1 236.2,292.9 238.8,292.8 241.2,292.0 243.4,292.1 244.7,291.1 246.8,292.1 248.3,292.6 251.0,291.0 254.0,289.9 256.2,290.1 258.3,289.6 261.0,288.8 264.2,288.0 266.2,288.7 266.4,290.1 268.5,290.1 271.1,290.1 273.4,290.7 275.5,291.5 274.0,293.7 275.2,294.7 276.0,294.4 277.5,293.1 279.0,292.6 280.1,292.3 282.9,291.5 284.2,290.9 287.1,289.8 290.1,289.4 293.7,288.4 295.7,288.9 297.3,289.1 299.7,288.8 302.2,288.8 303.4,289.4 307.5,287.7 309.2,289.2 311.4,289.0 314.8,288.2 316.9,288.1 317.7,289.0 319.5,289.2 321.9,289.6 324.7,288.8 326.3,289.0 328.5,289.0 331.6,288.7 334.9,288.3 336.3,287.8 337.7,288.5 339.9,289.1 341.4,289.6 343.8,289.4 343.5,290.4 344.8,291.2 347.2,291.5 349.7,291.4 351.0,292.1 351.7,292.4 352.2,293.0 354.0,293.6 355.7,293.7 357.3,293.9 358.4,294.3 355.4,296.0 351.8,296.9 347.6,298.0 343.8,299.5 341.4,300.8 337.9,301.8 335.1,302.7 332.8,303.6 331.9,304.5 332.1,305.3 332.7,305.9 334.3,306.4 336.5,306.6 339.0,306.7" fill="none" stroke="#000" stroke-width="1.9" stroke-linejoin="round"/>
</g>
<path d="M329.10,309.75 L333.07,308.65 L337.66,307.16 L342.73,305.32 L348.16,303.18 L353.78,300.79 L359.25,298.21 L364.29,295.54 L368.96,292.78 L373.43,289.93 L377.75,287.01 L381.97,284.02 L386.07,280.97 L390.04,277.87 L393.85,274.71 L397.49,271.52 L400.89,268.28 L404.01,265.01 L406.94,261.72 L409.75,258.40 L412.37,255.07 L414.74,251.73 L416.88,248.37 L418.84,245.01 L420.58,241.65 L422.09,238.28 L423.36,234.92 L424.41,231.56 L425.33,228.20 L426.21,224.83 L427.00,221.47 L427.64,218.11 L428.15,214.75 L428.55,211.39 L428.84,208.02 L429.03,204.66 L429.13,201.30 L429.03,197.94 L428.84,194.58 L428.55,191.21 L428.15,187.85 L427.64,184.49 L427.00,181.13 L426.21,177.77 L425.33,174.40 L424.41,171.04 L423.36,167.68 L422.09,164.32 L420.58,160.95 L418.84,157.59 L416.88,154.23 L414.74,150.87 L412.37,147.53 L409.75,144.20 L406.94,140.88 L404.01,137.59 L400.89,134.32 L397.49,131.08 L393.85,127.89 L390.04,124.73 L386.07,121.63 L381.97,118.58 L377.75,115.59 L373.43,112.67 L368.96,109.82 L364.29,107.06 L359.25,104.39 L353.78,101.81 L348.16,99.42 L342.73,97.28 L337.66,95.44 L333.07,93.95 L329.10,92.85 L101.50,92.85 L97.53,93.95 L92.94,95.44 L87.87,97.28 L82.44,99.42 L76.82,101.81 L71.35,104.39 L66.31,107.06 L61.64,109.82 L57.17,112.67 L52.85,115.59 L48.63,118.58 L44.53,121.63 L40.56,124.73 L36.75,127.89 L33.11,131.08 L29.71,134.32 L26.59,137.59 L23.66,140.88 L20.85,144.20 L18.23,147.53 L15.86,150.87 L13.72,154.23 L11.76,157.59 L10.02,160.95 L8.51,164.32 L7.24,167.68 L6.19,171.04 L5.27,174.40 L4.39,177.77 L3.60,181.13 L2.96,184.49 L2.45,187.85 L2.05,191.21 L1.76,194.58 L1.57,197.94 L1.47,201.30 L1.57,204.66 L1.76,208.02 L2.05,211.39 L2.45,214.75 L2.96,218.11 L3.60,221.47 L4.39,224.83 L5.27,228.20 L6.19,231.56 L7.24,234.92 L8.51,238.28 L10.02,241.65 L11.76,245.01 L13.72,248.37 L15.86,251.73 L18.23,255.07 L20.85,258.40 L23.66,261.72 L26.59,265.01 L29.71,268.28 L33.11,271.52 L36.75,274.71 L40.56,277.87 L44.53,280.97 L48.63,284.02 L52.85,287.01 L57.17,289.93 L61.64,292.78 L66.31,295.54 L71.35,298.21 L76.82,300.79 L82.44,303.18 L87.87,305.32 L92.94,307.16 L97.53,308.65 L101.50,309.75 Z" fill="none" stroke="#bfbfbf" stroke-width="1.4"/>
<text x="659.2" y="76.3" font-size="21.6" fill="#2f4f4f" stroke="#2f4f4f" stroke-width="0.5" textLength="54.6" lengthAdjust="spacingAndGlyphs">MAM</text>
<g clip-path="url(#clipMAM)">
<path d="M800.40,309.75 L804.37,308.65 L808.96,307.16 L814.03,305.32 L819.46,303.18 L825.08,300.79 L830.55,298.21 L835.59,295.54 L840.26,292.78 L844.73,289.93 L849.05,287.01 L853.27,284.02 L857.37,280.97 L861.34,277.87 L865.15,274.71 L868.79,271.52 L872.19,268.28 L875.31,265.01 L878.24,261.72 L881.05,258.40 L883.67,255.07 L886.04,251.73 L888.18,248.37 L890.14,245.01 L891.88,241.65 L893.39,238.28 L894.66,234.92 L895.71,231.56 L896.63,228.20 L897.51,224.83 L898.30,221.47 L898.94,218.11 L899.45,214.75 L899.85,211.39 L900.14,208.02 L900.33,204.66 L900.43,201.30 L900.33,197.94 L900.14,194.58 L899.85,191.21 L899.45,187.85 L898.94,184.49 L898.30,181.13 L897.51,177.77 L896.63,174.40 L895.71,171.04 L894.66,167.68 L893.39,164.32 L891.88,160.95 L890.14,157.59 L888.18,154.23 L886.04,150.87 L883.67,147.53 L881.05,144.20 L878.24,140.88 L875.31,137.59 L872.19,134.32 L868.79,131.08 L865.15,127.89 L861.34,124.73 L857.37,121.63 L853.27,118.58 L849.05,115.59 L844.73,112.67 L840.26,109.82 L835.59,107.06 L830.55,104.39 L825.08,101.81 L819.46,99.42 L814.03,97.28 L808.96,95.44 L804.37,93.95 L800.40,92.85 L572.80,92.85 L568.83,93.95 L564.24,95.44 L559.17,97.28 L553.74,99.42 L548.12,101.81 L542.65,104.39 L537.61,107.06 L532.94,109.82 L528.47,112.67 L524.15,115.59 L519.93,118.58 L515.83,121.63 L511.86,124.73 L508.05,127.89 L504.41,131.08 L501.01,134.32 L497.89,137.59 L494.96,140.88 L492.15,144.20 L489.53,147.53 L487.16,150.87 L485.02,154.23 L483.06,157.59 L481.32,160.95 L479.81,164.32 L478.54,167.68 L477.49,171.04 L476.57,174.40 L475.69,177.77 L474.90,181.13 L474.26,184.49 L473.75,187.85 L473.35,191.21 L473.06,194.58 L472.87,197.94 L472.77,201.30 L472.87,204.66 L473.06,208.02 L473.35,211.39 L473.75,214.75 L474.26,218.11 L474.90,221.47 L475.69,224.83 L476.57,228.20 L477.49,231.56 L478.54,234.92 L479.81,238.28 L481.32,241.65 L483.06,245.01 L485.02,248.37 L487.16,251.73 L489.53,255.07 L492.15,258.40 L494.96,261.72 L497.89,265.01 L501.01,268.28 L504.41,271.52 L508.05,274.71 L511.86,277.87 L515.83,280.97 L519.93,284.02 L524.15,287.01 L528.47,289.93 L532.94,292.78 L537.61,295.54 L542.65,298.21 L548.12,300.79 L553.74,303.18 L559.17,305.32 L564.24,307.16 L568.83,308.65 L572.80,309.75 Z" fill="#fce0cf"/>
<path d="M471.0,162.3 480.6,159.1 487.1,151.1 495.1,147.1 511.2,146.3 527.3,147.1 535.3,150.3 543.3,143.1 549.8,139.8 551.4,154.3 557.8,167.2 564.2,176.8 573.9,180.0 583.5,180.0 593.2,176.8 602.8,173.6 616.0,170.4 616.0,200.0 471.0,200.0Z" fill="#f7f7f7"/>
<path d="M471.0,184.9 487.1,184.5 503.2,186.5 519.2,184.9 535.3,183.2 548.2,184.9 549.8,191.3 535.3,192.9 519.2,194.8 495.1,193.2 471.0,194.5Z" fill="#fce0cf"/>
<path d="M522.4,182.4 528.9,178.4 538.5,175.2 536.9,177.6 527.3,183.2Z" fill="#d7e8f1"/>
<path d="M567.5,130.2 583.5,128.6 586.8,138.2 583.5,144.7 572.3,143.1 569.1,136.6Z" fill="#f7f7f7"/>
<path d="M583.5,114.1 593.2,114.1 594.8,123.8 586.8,125.4Z" fill="#f7f7f7"/>
<path d="M596.4,120.5 612.5,117.3 612.5,127.0 599.6,127.8Z" fill="#f7f7f7"/>
<path d="M570.7,186.5 583.5,183.2 596.4,183.2 616.0,184.9 616.0,200.0 573.9,200.0Z" fill="#d7e8f1"/>
<path d="M471.0,190.0 616.0,190.0 616.0,257.5 471.0,257.5Z" fill="#f7f7f7"/>
<path d="M471.0,190.0 554.6,190.0 554.6,197.2 519.2,198.0 495.1,197.2 471.0,198.0Z" fill="#fce0cf"/>
<path d="M557.8,196.4 573.9,194.8 590.0,196.4 590.0,204.5 573.9,205.3 561.0,202.9Z" fill="#fce0cf"/>
<path d="M475.8,205.3 487.1,203.7 519.2,204.5 554.6,205.3 553.0,210.1 519.2,210.9 512.8,215.7 487.1,210.1 475.8,208.5Z" fill="#fce0cf"/>
<path d="M471.0,212.5 480.6,212.5 482.3,215.7 471.0,216.5Z" fill="#d7e8f1"/>
<path d="M475.8,223.8 485.5,225.4 492.7,230.2 491.9,236.6 486.3,241.4 479.0,238.2Z" fill="#d7e8f1"/>
<path d="M567.5,214.1 577.1,210.9 590.0,212.5 599.6,222.2 604.4,233.4 596.4,231.8 583.5,218.9Z" fill="#d7e8f1"/>
<path d="M593.2,190.0 616.0,190.0 616.0,227.0 606.0,223.8 599.6,214.1 593.2,206.1Z" fill="#d7e8f1"/>
<path d="M606.0,215.7 614.1,214.1 614.9,222.2 607.7,223.0Z" fill="#a7d0e4"/>
<path d="M598.0,198.0 606.0,196.4 607.7,206.1 599.6,207.7Z" fill="#fce0cf"/>
<path d="M607.7,235.0 616.0,235.0 616.0,267.2 609.3,267.2Z" fill="#fce0cf"/>
<path d="M471.0,257.5 491.9,257.5 503.2,253.5 519.2,255.9 535.3,259.1 551.4,262.3 567.5,265.6 561.0,254.3 543.3,243.1 527.3,233.4 516.0,227.0 512.8,222.2 524.1,221.4 535.3,223.8 551.4,228.6 567.5,238.2 583.5,246.3 599.6,251.1 604.4,257.5 616.0,257.5 616.0,300.0 471.0,300.0Z" fill="#fce0cf"/>
<path d="M540.1,232.6 545.0,231.5 553.0,236.6 551.4,240.6 543.3,238.2Z" fill="#f7b799"/>
<path d="M640.1,99.6 656.2,98.0 672.3,97.2 686.7,99.6 688.3,107.7 680.3,110.9 669.1,109.3 656.2,112.5 643.3,110.1Z" fill="#f7f7f7"/>
<path d="M616.0,165.6 622.4,159.1 632.1,155.9 640.1,157.5 643.3,164.0 653.0,157.5 664.2,151.1 673.9,150.3 680.3,154.3 688.3,157.5 699.6,160.7 712.5,165.6 720.5,169.6 728.5,173.6 738.2,177.6 747.8,173.6 761.0,173.6 761.0,200.0 616.0,200.0Z" fill="#f7f7f7"/>
<path d="M744.6,136.6 755.9,135.0 761.0,138.2 761.0,146.3 751.0,146.3Z" fill="#f7f7f7"/>
<path d="M667.4,192.9 683.5,191.3 699.6,192.9 715.7,189.7 728.5,191.3 728.5,200.0 667.4,200.0Z" fill="#fce0cf"/>
<path d="M683.5,194.5 693.2,192.9 698.0,196.1 696.4,200.0 683.5,200.0Z" fill="#f7b799"/>
<path d="M616.0,184.9 622.4,186.5 625.6,192.9 625.6,200.0 616.0,200.0Z" fill="#d7e8f1"/>
<path d="M726.9,191.3 733.4,189.7 735.0,200.0 726.9,200.0Z" fill="#d7e8f1"/>
<path d="M616.0,190.0 761.0,190.0 761.0,225.4 744.6,238.2 736.6,251.1 715.7,254.3 709.2,256.7 696.4,255.9 680.3,254.3 664.2,253.5 648.2,251.9 632.1,245.5 616.0,244.7Z" fill="#f7f7f7"/>
<path d="M616.0,190.0 625.6,191.6 635.3,202.9 644.9,210.9 641.7,222.2 632.1,225.4 616.0,225.4Z" fill="#d7e8f1"/>
<path d="M616.0,194.8 624.0,198.0 628.9,209.3 628.9,218.9 622.4,218.9 616.0,214.1Z" fill="#a7d0e4"/>
<path d="M625.6,190.0 672.3,190.0 680.3,194.8 696.4,194.8 699.6,199.6 680.3,204.5 669.1,207.7 656.2,212.5 644.9,210.9 632.1,202.9Z" fill="#fce0cf"/>
<path d="M628.9,199.6 648.2,198.0 664.2,196.4 680.3,195.6 696.4,194.8 698.0,199.6 683.5,202.9 664.2,206.1 648.2,207.7 635.3,204.5Z" fill="#f7b799"/>
<path d="M653.0,203.7 659.4,202.9 661.8,206.1 656.2,207.7 652.2,206.1Z" fill="#e58268"/>
<path d="M683.5,194.8 694.8,194.0 696.4,199.6 686.7,201.3Z" fill="#e58268"/>
<path d="M632.1,201.3 638.5,202.1 638.5,204.5 632.9,203.7Z" fill="#e58268"/>
<path d="M646.5,222.2 664.2,222.2 677.1,227.0 683.5,230.2 680.3,233.4 673.9,238.2 670.7,246.3 661.0,249.5 649.8,243.1Z" fill="#fce0cf"/>
<path d="M688.3,209.3 696.4,207.7 701.2,212.5 699.6,222.2 693.2,218.9Z" fill="#d7e8f1"/>
<path d="M699.6,190.0 741.4,190.0 741.4,206.1 738.2,222.2 728.5,231.8 718.9,244.7 709.2,247.9 704.4,235.0 702.8,227.0 701.2,206.1Z" fill="#fce0cf"/>
<path d="M718.9,196.4 731.8,196.4 731.8,222.2 720.5,220.5Z" fill="#f7f7f7"/>
<path d="M702.8,220.5 725.3,220.5 725.3,227.0 702.8,227.0Z" fill="#f7f7f7"/>
<path d="M703.6,198.0 710.9,196.4 714.1,202.9 709.2,206.1 704.4,204.5Z" fill="#f7b799"/>
<path d="M734.2,207.7 743.0,209.3 744.6,217.3 738.2,219.7 734.2,215.7Z" fill="#f7b799"/>
<path d="M735.0,210.9 739.0,210.9 739.8,215.7 735.8,215.7Z" fill="#e58268"/>
<path d="M741.4,206.1 751.0,206.1 761.0,222.2 761.0,251.1 744.6,247.9 738.2,238.2Z" fill="#fce0cf"/>
<path d="M725.3,247.9 733.4,246.3 735.0,251.1 726.9,251.9Z" fill="#f7f7f7"/>
<path d="M757.0,122.2 773.1,123.0 789.2,125.4 805.2,127.0 803.6,131.8 789.2,132.6 773.1,130.2 757.0,128.6Z" fill="#facbb4"/>
<path d="M757.0,136.6 773.1,138.2 797.2,141.4 813.3,143.1 814.9,157.5 805.2,165.6 789.2,165.6 773.1,162.3 757.0,159.1Z" fill="#faebe3"/>
<path d="M757.0,157.5 769.9,159.1 769.9,165.6 757.0,165.6Z" fill="#f7b799"/>
<path d="M757.0,104.5 766.6,106.1 766.6,110.9 757.0,110.9Z" fill="#f7f7f7"/>
<path d="M814.9,167.2 826.1,167.2 837.4,162.3 853.5,157.5 869.5,152.7 882.4,148.7 892.0,147.9 900.1,151.1 902.0,200.0 805.2,200.0 805.2,180.0Z" fill="#f7f7f7"/>
<path d="M757.0,168.8 781.1,167.2 797.2,168.8 810.1,168.8 814.9,173.6 813.3,200.0 757.0,200.0Z" fill="#f7f7f7"/>
<path d="M768.3,189.7 781.1,181.6 797.2,180.0 805.2,186.5 805.2,200.0 769.9,200.0Z" fill="#d7e8f1"/>
<path d="M781.1,186.5 789.2,186.5 789.2,192.9 781.1,192.9Z" fill="#a7d0e4"/>
<path d="M818.1,176.8 834.2,173.6 853.5,180.0 869.5,186.5 882.4,192.9 869.5,196.1 853.5,194.5 837.4,189.7 826.1,189.7Z" fill="#d7e8f1"/>
<path d="M876.8,168.8 884.0,169.6 885.6,173.6 879.2,173.6Z" fill="#fce0cf"/>
<path d="M882.4,183.2 893.7,180.0 898.5,186.5 896.9,192.9 885.6,189.7Z" fill="#fce0cf"/>
<path d="M757.0,190.0 902.0,190.0 902.0,247.9 885.6,249.5 869.5,251.1 853.5,253.5 837.4,254.3 821.3,252.7 805.2,251.1 789.2,249.5 773.1,250.3 757.0,252.7Z" fill="#f7f7f7"/>
<path d="M768.3,190.0 802.0,190.0 800.4,199.6 794.0,209.3 781.1,212.5 777.9,206.1 773.1,196.4Z" fill="#d7e8f1"/>
<path d="M781.1,193.2 790.8,193.2 790.8,198.0 781.1,198.0Z" fill="#a7d0e4"/>
<path d="M834.2,191.6 856.7,190.0 885.6,193.2 898.5,196.4 898.5,215.7 882.4,214.1 869.5,207.7 856.7,202.9 842.2,199.6Z" fill="#d7e8f1"/>
<path d="M818.1,196.4 826.1,196.4 826.1,204.5 818.1,204.5Z" fill="#d7e8f1"/>
<path d="M811.7,204.5 829.3,202.9 847.0,207.7 859.9,210.9 856.7,215.7 837.4,214.1 821.3,210.9Z" fill="#fce0cf"/>
<path d="M818.1,207.7 834.2,206.9 850.2,210.1 847.0,213.3 829.3,212.5Z" fill="#f7b799"/>
<path d="M757.0,223.8 769.9,218.9 781.1,218.1 790.8,222.2 795.6,231.8 792.4,241.4 781.1,243.1 773.1,247.9 763.4,249.5 757.0,251.1Z" fill="#fce0cf"/>
<path d="M819.7,218.9 827.7,218.1 829.3,227.0 837.4,222.2 853.5,220.5 861.5,230.2 859.9,243.1 850.2,246.3 840.6,243.1 837.4,235.0Z" fill="#d7e8f1"/>
<path d="M586.0,173.3 596.6,170.6 613.9,171.9 620.6,166.6 629.9,157.3 639.2,154.6 644.5,162.6 649.8,160.0 663.1,150.6 676.4,148.0 676.4,193.2 627.2,193.2 623.2,187.9 613.9,185.2 603.3,183.9 590.0,183.9Z" fill="#f7f7f7"/>
<path d="M625.9,193.2 649.8,193.2 676.4,190.6 690.0,191.9 690.0,211.8 663.1,210.5 644.5,210.5 629.9,203.9Z" fill="#fce0cf"/>
<path d="M628.5,197.2 649.8,198.5 671.1,195.9 690.0,194.5 690.0,206.5 671.1,206.5 652.5,208.5 636.5,205.2Z" fill="#f7b799"/>
<path d="M632.5,200.5 639.2,201.2 639.2,204.5 633.2,203.9Z" fill="#e58268"/>
<path d="M651.8,203.2 661.8,202.5 661.8,207.2 652.5,207.2Z" fill="#e58268"/>
<path d="M684.4,195.9 690.0,194.5 690.0,201.2 685.1,201.2Z" fill="#e58268"/>
<path d="M590.0,190.6 603.3,183.9 616.6,186.6 625.9,195.9 629.9,202.5 644.5,211.8 644.5,215.0 590.0,215.0Z" fill="#f7f7f7"/>
<path d="M588.6,182.6 603.3,182.6 613.9,185.9 613.9,190.6 590.0,190.6Z" fill="#d7e8f1"/>
<path d="M609.9,193.2 617.9,190.6 625.9,197.2 629.9,203.9 641.8,211.8 641.8,215.0 609.9,215.0Z" fill="#d7e8f1"/>
<path d="M616.6,198.5 623.2,197.2 627.2,206.5 625.9,215.0 617.9,215.0Z" fill="#a7d0e4"/>
<path d="M596.6,197.2 604.6,195.9 607.2,202.5 601.9,209.2 596.6,206.5Z" fill="#fce0cf"/>
<path d="M742.0,134.0 757.0,136.6 773.0,138.0 790.0,140.0 813.0,143.0 815.0,157.0 805.0,166.0 790.0,166.0 773.0,163.0 757.0,159.0 745.0,158.0Z" fill="#faebe3"/>
<path d="M745.0,136.0 757.0,137.0 770.0,140.0 775.0,150.0 760.0,151.0 747.0,149.0Z" fill="#f7f7f7"/>
<path d="M750.0,155.0 760.0,154.0 767.0,158.0 765.0,164.0 752.0,163.0Z" fill="#facbb4"/>
<path d="M572.8,309.8 562.9,306.7 571.2,307.2 578.9,307.6 585.9,307.7 587.8,307.4 585.1,306.5 580.8,305.3 575.5,304.1 570.3,303.0 565.0,301.9 561.8,301.1 564.1,300.5 567.6,300.4 569.5,299.9 571.7,299.4 570.4,298.6 571.1,298.4 573.8,298.2 577.0,298.0 580.8,297.7 584.2,297.6 589.0,297.7 592.5,297.5 593.8,296.8 597.2,297.6 600.3,298.0 603.7,298.0 604.2,297.2 604.0,296.4 606.4,296.1 608.9,296.6 611.8,296.5 615.2,296.5 618.9,296.7 620.2,296.2 622.6,296.4 623.9,296.1 626.6,296.7 628.7,296.3 629.5,294.8 629.5,294.3 628.7,292.8 628.3,291.2 628.0,290.3 628.1,288.2 629.2,286.9 630.3,286.1 632.6,285.1 634.2,285.0 634.2,285.7 633.3,286.1 632.7,287.4 631.5,288.7 631.7,290.6 632.6,291.7 634.2,293.1 634.9,294.1 635.7,295.2 636.5,296.2 636.9,297.3 635.8,297.8 635.4,298.4 635.1,298.9 631.8,299.5 628.0,300.2 626.7,300.3 626.5,300.7 631.3,302.5 637.3,304.2 642.3,304.8 645.3,305.1 650.6,304.5 655.2,303.7 660.0,303.2 665.1,303.0 666.7,301.1 669.3,299.3 672.1,297.7 674.4,296.8 673.7,296.3 676.4,295.5 677.8,294.6 680.4,294.2 681.7,293.9 684.9,294.0 687.6,293.7 690.1,293.2 693.0,292.6 694.7,292.8 697.2,293.0 700.1,292.9 702.7,293.0 704.8,293.1 707.5,292.9 710.1,292.8 712.5,292.0 714.7,292.1 716.0,291.1 718.1,292.1 719.6,292.6 722.3,291.0 725.3,289.9 727.5,290.1 729.6,289.6 732.3,288.8 735.5,288.0 737.5,288.7 737.7,290.1 739.8,290.1 742.4,290.1 744.7,290.7 746.8,291.5 745.3,293.7 746.5,294.7 747.3,294.4 748.8,293.1 750.3,292.6 751.4,292.3 754.2,291.5 755.5,290.9 758.4,289.8 761.4,289.4 765.0,288.4 767.0,288.9 768.6,289.1 771.0,288.8 773.5,288.8 774.7,289.4 778.8,287.7 780.5,289.2 782.7,289.0 786.1,288.2 788.2,288.1 789.0,289.0 790.8,289.2 793.2,289.6 796.0,288.8 797.6,289.0 799.8,289.0 802.9,288.7 806.2,288.3 807.6,287.8 809.0,288.5 811.2,289.1 812.7,289.6 815.1,289.4 814.8,290.4 816.1,291.2 818.5,291.5 821.0,291.4 822.3,292.1 823.0,292.4 823.5,293.0 825.3,293.6 827.0,293.7 828.6,293.9 829.7,294.3 826.7,296.0 823.1,296.9 818.9,298.0 815.1,299.5 812.7,300.8 809.2,301.8 806.4,302.7 804.1,303.6 803.2,304.5 803.4,305.3 804.0,305.9 805.6,306.4 807.8,306.6 810.3,306.7 800.4,309.8Z" fill="#f7f7f7"/>
<path d="M535.8,114.9 536.0,116.1 536.9,116.3 539.9,116.3 539.5,117.1 537.6,117.4 534.8,118.0 532.8,118.8 531.3,120.6 532.3,121.8 531.6,122.9 534.6,123.2 536.1,123.0 534.4,124.1 530.4,126.0 527.1,126.9 522.9,128.4 525.5,127.9 529.2,127.1 532.9,125.5 537.2,124.2 539.4,123.2 539.4,122.5 543.1,120.9 545.6,120.2 543.0,121.5 541.5,122.6 543.8,122.1 547.5,120.9 549.1,120.6 550.0,121.6 552.2,121.8 553.5,122.1 555.1,123.0 555.0,124.1 554.9,126.0 554.9,127.6 556.2,128.4 556.6,128.8 556.3,130.1 556.5,131.5 556.0,132.9 556.7,133.9 557.6,134.8 558.7,135.8 558.1,137.2 557.3,136.5 556.5,136.7 555.9,138.5 554.6,140.9 552.4,143.8 551.3,146.2 550.6,147.1 550.4,149.0 550.9,150.5 551.0,152.1 551.3,154.8 553.4,155.6 554.2,156.9 554.2,157.6 554.3,158.8 554.7,160.6 555.8,162.3 555.7,163.5 554.5,163.9 555.5,165.4 556.9,167.8 558.9,170.5 558.9,168.8 558.2,166.5 557.8,163.8 557.4,161.6 556.3,158.8 557.0,159.1 558.3,159.7 558.8,162.0 559.4,163.8 560.5,166.5 561.8,167.7 563.1,170.0 563.8,172.9 563.5,173.9 564.5,175.6 565.5,176.7 567.5,177.6 569.4,178.7 571.5,179.6 573.6,180.2 575.4,179.5 577.1,180.3 578.1,181.8 579.4,182.6 581.1,183.1 583.1,183.4 583.7,184.0 584.7,185.2 585.4,186.4 585.3,187.9 586.1,188.4 586.8,188.5 587.6,189.9 588.4,190.4 589.8,190.4 591.2,191.5 591.8,191.2 591.6,190.1 592.5,189.3 593.8,190.0 594.2,191.2 594.9,192.3 594.9,195.9 594.5,197.8 593.0,199.1 591.7,200.1 591.4,201.8 590.5,203.5 591.0,204.7 591.7,205.1 591.3,205.9 590.2,206.9 590.2,208.0 590.7,209.4 592.0,211.0 593.5,213.4 595.5,217.4 596.7,219.9 598.2,222.0 601.6,224.0 604.2,225.9 605.0,230.1 604.9,233.0 605.2,238.4 605.1,241.6 605.7,245.7 605.6,249.0 605.4,251.3 605.6,253.7 606.2,256.4 607.7,258.4 607.9,260.4 607.1,260.9 606.9,263.8 608.8,266.3 609.0,268.8 610.7,271.3 614.6,273.6 617.2,274.7 620.1,275.6 621.1,274.7 622.0,274.3 619.6,273.4 617.2,271.6 616.9,271.1 616.0,270.5 616.1,269.6 616.6,268.3 616.3,266.7 617.7,265.4 617.1,263.7 615.3,263.3 615.7,261.7 617.1,261.2 616.5,258.8 617.9,258.5 616.4,258.0 615.7,256.4 618.0,256.5 618.2,254.0 618.0,253.5 620.6,253.6 623.0,252.7 623.5,251.3 623.5,250.2 622.5,248.8 621.1,247.8 620.8,246.9 621.7,247.6 623.6,248.2 625.1,248.2 626.2,247.6 626.5,246.6 627.6,244.5 628.9,242.3 629.9,240.3 630.9,239.2 630.6,237.1 630.8,235.7 633.0,233.6 634.9,232.6 636.6,232.1 638.0,232.1 639.0,230.3 639.6,228.6 640.2,226.9 640.7,225.0 640.9,222.4 640.7,219.9 641.2,218.8 642.9,216.1 644.4,214.2 645.3,212.1 645.2,210.8 644.9,208.7 643.1,208.0 640.9,206.3 639.1,205.2 637.3,205.2 635.1,204.5 633.9,204.3 632.0,202.8 629.8,202.1 628.9,202.9 627.2,202.4 626.7,201.0 626.4,198.9 625.9,196.6 625.1,195.4 623.9,194.0 621.4,193.2 618.9,193.2 617.7,192.2 616.6,190.5 614.9,189.7 614.0,188.0 612.5,187.3 613.4,186.9 611.7,186.9 610.3,187.6 608.7,187.7 607.1,187.0 606.0,187.0 605.1,185.8 603.7,186.0 603.8,184.9 602.4,185.4 601.7,186.0 602.0,186.8 601.9,189.2 601.3,188.0 602.3,187.3 602.1,185.7 601.4,185.3 601.9,184.6 599.9,186.2 599.0,186.1 597.4,187.0 597.0,188.7 595.7,189.7 595.1,189.6 594.1,188.9 592.4,188.4 590.9,189.3 589.9,189.2 589.3,188.9 588.0,187.3 587.7,186.4 588.2,184.5 588.2,183.0 588.9,181.1 587.7,180.1 585.8,179.9 583.8,180.1 582.9,180.2 583.1,177.8 583.9,176.7 584.5,175.1 585.5,172.7 585.0,172.3 583.4,172.4 581.4,173.1 581.0,174.5 579.8,175.9 578.0,176.4 576.1,176.8 574.5,176.0 574.1,175.3 573.5,173.6 573.0,171.8 573.5,168.6 574.2,166.6 574.8,164.3 575.9,163.2 578.0,162.0 579.5,161.4 581.5,161.5 583.0,162.2 584.3,162.3 584.5,160.7 586.4,160.4 588.4,160.4 589.2,161.4 590.7,160.8 591.7,162.0 591.7,163.6 591.7,165.0 592.4,166.5 593.1,167.4 593.7,167.4 594.3,165.9 594.2,163.2 593.9,161.1 594.0,159.5 595.0,158.3 597.3,156.7 598.8,155.7 600.8,154.6 602.2,153.8 602.2,151.7 602.9,150.3 603.7,149.4 604.3,148.6 605.8,146.9 607.0,146.5 608.4,145.8 609.9,145.5 610.7,145.1 610.2,143.8 611.3,142.6 613.1,141.7 615.2,141.1 616.4,140.6 618.2,140.5 616.2,141.5 615.6,142.7 617.5,141.9 619.4,141.4 621.5,140.6 622.8,139.4 623.0,138.4 621.4,139.6 620.0,139.8 618.5,139.3 618.6,137.7 618.4,136.8 619.7,136.1 620.0,135.6 619.1,135.4 617.6,135.5 615.6,136.3 613.5,137.3 615.5,135.5 617.1,135.0 618.2,134.1 620.1,133.9 622.9,134.2 624.8,134.1 628.2,132.4 629.9,131.7 630.3,130.2 629.6,128.4 627.6,127.6 626.1,126.2 626.5,124.6 625.6,123.1 625.7,121.3 624.4,122.4 622.8,123.5 621.4,123.7 620.9,123.0 620.0,122.7 620.6,121.4 619.9,120.3 618.7,119.4 617.1,118.9 614.9,118.6 614.1,118.8 613.7,120.6 612.6,122.2 611.7,125.4 610.4,126.9 608.1,128.0 606.4,131.7 605.0,132.8 604.4,131.5 603.6,130.6 604.5,128.8 602.5,127.5 600.6,126.7 599.4,125.4 597.1,125.0 595.8,123.0 596.9,121.5 599.7,119.4 603.1,118.0 606.2,116.5 608.2,115.4 610.0,113.8 611.2,114.1 613.6,113.4 615.4,112.1 616.5,110.7 615.7,109.8 612.4,110.3 610.2,110.9 609.9,109.8 608.7,108.8 610.3,107.6 608.1,107.6 606.6,108.2 604.3,109.8 602.7,111.6 600.8,111.7 597.6,111.2 594.7,111.2 591.9,111.9 591.2,112.8 589.4,112.3 587.9,112.1 586.9,111.1 586.3,109.9 583.0,110.5 581.1,110.3 580.7,109.6 577.9,109.3 576.9,110.2 574.5,110.3 571.9,110.5 570.4,110.4 567.7,111.1 565.8,110.2 564.3,109.6 562.2,109.7 559.7,109.3 557.8,108.9 555.3,108.4 553.3,108.8 551.3,109.0 547.9,109.8 544.2,111.1 541.7,111.6 542.5,112.3 542.2,113.1 542.8,113.8 541.4,113.7 539.6,113.8 535.8,114.9ZM663.8,96.4 668.3,97.1 671.7,97.5 677.6,98.0 672.5,99.1 672.8,100.3 671.4,102.3 671.9,104.1 669.1,106.9 666.3,107.6 667.9,109.3 663.7,111.3 658.9,112.0 656.3,113.6 653.0,114.9 649.7,116.2 648.8,117.4 646.7,119.4 645.5,121.5 644.1,121.6 642.3,120.6 641.2,120.4 640.4,118.7 639.4,117.3 639.7,115.4 638.7,114.3 639.4,113.0 640.3,111.6 642.5,110.8 643.1,109.8 640.3,109.1 641.3,108.2 639.9,107.9 641.1,106.9 640.6,105.7 640.1,103.9 638.4,103.2 635.5,103.3 632.7,103.2 631.2,102.3 635.1,101.9 632.6,101.1 631.1,100.9 635.3,100.0 638.6,99.1 641.6,98.1 645.3,97.7 650.0,97.7 653.3,97.8 656.2,96.7 659.7,96.6 663.8,96.4ZM631.9,113.4 628.9,115.6 627.5,116.2 627.2,117.5 626.1,118.3 622.8,118.8 621.1,118.1 620.2,116.5 618.5,116.3 615.7,116.1 617.3,115.1 620.4,114.6 622.3,112.9 620.1,111.1 619.3,109.6 616.3,109.7 613.0,109.4 611.0,108.9 612.9,107.3 616.6,106.1 620.9,105.8 622.9,106.7 625.1,107.4 627.1,108.3 628.7,109.7 629.0,110.7 630.7,112.3 631.9,113.4ZM625.8,102.8 622.9,102.9 616.8,103.0 618.5,101.8 617.7,100.8 616.0,100.3 619.4,98.9 623.9,98.4 628.6,97.3 636.0,96.9 642.4,97.2 640.6,98.0 636.9,98.6 633.9,99.6 630.2,100.2 628.9,101.1 625.8,102.8ZM619.4,100.3 615.7,100.9 614.5,100.3 615.7,99.1 619.2,98.4 621.1,99.0 619.4,100.3ZM622.2,104.8 614.5,104.9 613.2,103.9 616.6,102.8 623.3,102.8 622.2,104.8ZM612.0,106.7 607.0,107.6 605.9,106.8 608.0,105.8 611.6,105.4 612.0,106.7ZM599.1,110.7 595.1,110.7 589.3,111.1 586.4,109.9 586.3,108.8 589.3,107.1 593.1,106.6 596.0,106.6 599.7,106.3 600.4,106.7 600.6,108.7 599.1,110.7ZM585.6,108.2 581.9,107.7 586.1,105.2 590.5,105.1 592.3,106.1 588.3,107.3 585.6,108.2ZM603.0,103.8 599.1,104.0 594.0,103.7 596.3,102.5 601.3,102.0 604.8,102.0 603.0,103.8ZM608.4,103.9 604.4,103.9 606.6,102.7 610.1,102.7 608.4,103.9ZM601.5,108.2 603.7,108.5 606.2,107.6 607.3,106.1 605.3,106.0 602.4,106.9 601.5,108.2ZM600.3,111.4 602.3,111.5 604.3,110.7 604.1,109.9 602.2,110.2 600.3,111.4ZM607.0,107.6 609.0,107.7 611.8,106.9 612.8,105.4 610.0,105.3 607.0,107.6ZM608.8,104.6 611.4,104.8 613.5,104.0 612.4,103.4 609.7,103.8 608.8,104.6ZM590.5,103.0 592.7,103.8 596.2,102.9 595.7,101.9 590.5,103.0ZM606.9,101.3 609.7,101.5 612.0,100.5 610.4,100.1 606.9,101.3ZM612.6,101.3 614.9,101.3 616.4,100.3 614.4,100.2 612.6,101.3ZM619.8,106.7 622.9,106.9 624.2,105.9 621.1,105.7 619.8,106.7ZM609.1,118.9 611.4,118.2 610.7,117.7 609.1,118.2 609.1,118.9ZM616.8,105.4 619.9,105.7 621.7,105.0 618.6,104.8 616.8,105.4ZM598.6,104.1 601.6,104.6 603.6,103.9 601.6,103.2 598.6,104.1ZM613.4,116.9 610.7,116.8 607.9,117.0 608.9,115.1 611.0,114.5 612.6,116.1 613.4,116.9ZM624.4,137.3 627.4,137.5 630.1,138.6 631.4,137.5 631.3,135.9 630.8,134.8 629.1,135.0 630.1,132.2 628.6,132.6 626.8,134.3 624.4,137.3ZM555.0,133.3 557.3,134.3 558.0,136.3 556.7,136.1 555.5,134.3 555.0,133.3ZM587.9,171.8 589.3,170.6 591.5,170.1 593.2,170.2 595.5,171.2 596.9,172.3 598.6,172.9 600.1,174.0 598.4,174.5 595.9,174.5 596.3,173.5 595.2,172.9 594.1,172.3 592.2,171.8 590.7,171.6 589.5,171.7 587.9,171.8ZM599.6,176.6 601.9,174.5 604.0,174.5 605.5,175.3 606.7,176.3 604.7,176.8 602.6,177.4 600.6,176.8 599.6,176.6ZM595.0,176.6 596.5,176.4 597.4,177.1 595.8,177.4 595.0,176.6ZM608.0,176.4 609.8,176.7 608.7,177.2 607.9,177.1 608.0,176.4ZM504.8,174.1 505.6,174.8 504.7,175.9 504.4,175.1 504.8,174.1ZM504.2,173.1 504.8,173.3 504.3,173.6 504.2,173.1ZM502.4,172.3 503.0,172.7 502.5,172.7 502.4,172.3ZM500.9,171.4 501.4,171.4 501.1,171.8 500.9,171.4ZM624.3,270.6 625.8,270.0 627.7,270.4 627.2,271.1 625.2,271.1 624.3,270.6ZM680.7,134.2 682.9,133.9 685.1,133.4 687.2,133.3 688.0,132.6 687.5,132.0 688.3,130.8 686.9,130.4 686.7,129.7 686.1,128.5 685.0,127.1 684.0,126.6 684.6,125.2 684.9,124.6 683.1,124.5 683.6,123.4 681.8,123.4 681.2,124.6 680.9,126.0 681.6,127.0 681.8,128.1 683.2,128.0 683.6,129.3 683.5,130.1 682.0,130.1 682.4,130.7 682.3,131.5 681.3,132.0 683.2,132.5 682.3,132.9 680.7,134.2ZM680.5,131.6 680.4,129.9 680.9,128.4 680.4,127.6 679.4,127.5 678.4,127.8 677.9,128.8 676.6,128.9 676.8,129.9 677.2,131.0 676.1,131.7 676.6,132.4 678.3,132.0 680.5,131.6ZM666.5,116.8 665.1,115.0 666.6,113.9 670.6,114.2 673.7,114.1 674.3,115.5 673.0,116.4 669.4,117.5 667.0,117.0 666.5,116.8ZM694.9,100.7 697.4,99.7 698.8,99.4 701.3,99.2 702.3,100.1 704.9,101.3 703.1,101.8 701.3,102.0 699.5,102.7 697.5,102.3 696.1,101.3 694.9,100.7ZM700.2,99.1 703.4,98.9 706.9,99.3 704.5,100.0 701.5,99.8 700.2,99.1ZM729.8,108.2 731.4,108.9 735.3,109.0 732.5,107.1 733.2,105.4 735.4,103.9 737.8,103.3 739.8,102.4 737.8,102.3 733.6,103.0 731.5,104.6 730.7,106.0 729.8,108.2ZM723.5,99.4 729.4,99.4 731.8,98.7 727.0,98.3 723.0,98.7 723.5,99.4ZM757.9,100.1 761.5,100.8 765.9,100.7 763.7,99.7 759.8,99.0 756.7,98.9 757.9,100.1ZM795.0,103.9 799.1,104.7 801.0,104.4 802.3,104.0 798.5,103.1 795.5,103.2 795.0,103.9ZM804.4,105.6 807.1,104.7 804.4,104.1 804.4,105.6ZM535.7,108.2 537.3,108.5 535.0,108.8 535.7,108.2ZM836.9,108.5 837.5,108.2 838.6,108.8 836.9,108.5ZM836.9,139.6 837.9,138.8 834.8,135.6 836.4,135.5 831.5,131.1 829.6,128.9 828.8,128.8 830.1,131.1 833.7,135.0 836.0,138.5 836.9,139.6ZM837.0,140.4 840.0,141.9 843.0,143.1 841.8,144.9 839.7,145.1 838.2,144.6 837.6,143.1 837.0,140.4ZM839.7,145.5 841.7,147.1 842.7,148.9 842.6,150.5 843.4,152.9 843.9,153.3 843.2,154.2 842.5,154.8 840.3,154.8 839.6,156.2 838.1,154.8 836.0,155.2 833.9,155.6 834.1,154.8 835.2,153.6 838.0,153.4 838.3,151.1 839.2,151.8 840.0,150.5 839.9,147.8 839.2,146.5 839.7,145.5ZM833.7,155.7 835.2,156.4 835.8,159.1 835.1,159.6 833.8,157.6 832.7,156.5 833.7,155.7ZM836.0,156.5 836.5,155.2 838.0,155.4 838.0,156.7 836.8,157.2 836.0,156.5ZM826.9,167.3 827.6,168.2 827.1,171.8 826.0,170.2 826.5,167.7 826.9,167.3ZM813.5,175.5 815.3,174.3 816.2,174.9 814.8,176.8 813.5,175.5ZM827.7,176.4 829.7,176.6 829.3,179.9 830.1,182.2 832.9,184.0 831.8,182.7 829.3,183.0 828.5,181.8 827.5,179.5 827.7,176.4ZM831.2,191.9 832.9,190.9 833.9,193.0 835.3,193.8 836.6,191.5 836.0,188.9 834.9,188.1 833.4,190.3 832.0,190.4 831.2,191.9ZM833.2,184.5 834.8,185.2 835.1,187.6 834.2,187.9 833.4,186.0 833.2,184.5ZM830.6,185.4 831.9,186.2 831.4,187.2 830.7,187.2 830.6,185.4ZM831.4,187.0 832.5,186.6 832.4,189.1 831.4,188.0 831.4,187.0ZM828.4,183.1 829.8,183.5 829.4,184.8 828.4,183.1ZM825.4,190.0 827.8,187.2 827.9,186.1 826.7,187.9 825.4,190.0ZM799.6,193.8 802.3,194.3 805.7,197.9 809.8,202.6 812.4,205.3 812.2,209.1 810.6,209.2 808.0,206.7 806.5,204.3 804.4,201.0 803.7,198.9 802.0,196.9 799.6,193.8ZM811.3,210.4 812.9,209.4 815.0,209.8 817.6,210.6 820.2,210.6 822.2,211.7 822.0,213.0 819.2,212.5 815.4,211.7 812.7,211.3 811.3,210.4ZM822.8,212.2 823.6,212.6 823.0,213.1 822.8,212.2ZM823.9,212.6 824.8,212.5 824.4,213.3 823.9,212.6ZM824.9,212.7 827.5,212.3 827.2,213.1 824.8,213.4 824.9,212.7ZM828.4,212.9 832.0,212.2 831.7,213.0 828.6,213.3 828.4,212.9ZM827.5,214.1 829.5,214.6 828.8,215.2 827.5,214.1ZM832.7,215.2 834.7,213.4 837.0,212.6 835.7,213.7 833.2,215.0 832.7,215.2ZM816.1,199.3 816.8,198.6 818.9,197.9 820.7,197.0 822.0,195.1 823.6,194.3 824.9,192.0 826.2,193.2 828.0,194.2 826.6,195.5 826.5,198.6 827.7,200.0 826.2,201.3 824.9,204.7 824.3,206.3 822.5,206.0 820.7,205.6 819.2,205.3 817.4,205.2 817.2,203.3 816.1,201.3 816.1,199.3ZM828.2,208.7 829.4,208.8 829.8,204.8 830.9,206.9 832.3,207.8 831.4,205.3 830.7,203.9 833.1,202.5 831.2,202.5 830.2,199.6 832.6,200.1 835.3,199.3 834.5,200.8 829.4,200.9 828.9,202.0 827.8,204.9 828.2,208.7ZM838.5,198.3 839.5,199.3 838.9,200.8 839.7,202.4 838.2,201.7 837.9,200.0 838.5,198.3ZM838.6,205.3 840.9,205.2 842.0,206.1 840.0,206.1 838.6,205.3ZM836.2,205.6 837.6,205.7 837.1,206.4 836.2,206.1 836.2,205.6ZM842.2,203.2 844.0,201.8 845.9,202.5 846.9,205.9 849.9,203.3 854.0,204.8 858.1,206.4 859.5,208.7 861.5,209.5 861.0,211.4 862.6,213.4 863.9,215.2 861.0,214.9 859.5,212.2 856.2,213.4 855.2,213.8 853.5,213.5 851.2,212.2 850.7,211.0 850.1,208.3 847.4,207.2 845.0,206.7 843.3,205.1 845.1,204.4 842.5,203.3 842.2,203.2ZM862.5,208.8 864.5,208.7 866.3,207.9 867.2,206.9 866.4,208.8 864.7,209.6 862.5,208.8ZM865.7,204.8 867.6,206.1 868.3,207.5 867.7,206.9 865.7,204.8ZM870.0,208.0 871.4,210.0 870.5,210.4 870.0,208.0ZM872.1,210.2 874.1,211.5 873.0,211.9 872.1,210.2ZM875.6,212.5 877.4,214.2 876.3,214.3 875.6,212.5ZM877.0,212.6 877.7,213.4 877.1,213.4 877.0,212.6ZM882.6,220.9 883.0,222.4 882.4,222.5 882.6,220.9ZM883.1,223.1 883.5,223.5 882.9,223.5 883.1,223.1ZM877.9,228.5 879.2,229.8 880.7,231.3 879.1,230.6 878.0,229.0 877.9,228.5ZM894.5,224.8 895.8,225.0 895.3,225.8 894.1,225.6 894.5,224.8ZM896.5,223.2 897.8,223.4 896.8,223.9 896.5,223.2ZM781.1,188.1 783.5,191.2 782.9,193.0 781.6,193.2 781.1,190.5 781.1,188.1ZM744.8,217.4 746.0,221.7 744.6,224.8 743.1,228.9 741.6,233.6 738.8,235.6 737.3,232.9 737.0,230.2 738.4,227.9 738.2,224.6 741.0,222.5 743.1,220.1 744.8,217.4ZM844.5,256.0 848.2,256.3 847.1,258.0 844.4,259.9 843.8,258.4 844.5,256.0ZM880.5,247.6 881.2,249.7 881.4,251.3 884.2,252.0 882.1,254.0 880.3,255.1 876.9,257.2 876.5,256.8 878.2,254.8 877.5,254.1 880.2,251.5 880.1,248.8 880.5,247.6ZM875.2,255.7 876.1,256.8 873.3,259.1 871.8,260.1 869.4,261.1 867.2,262.9 864.8,263.8 862.8,263.0 864.6,261.5 866.8,260.4 870.3,259.1 872.8,257.3 875.2,255.7ZM757.8,267.2 759.7,267.1 759.2,267.9 757.9,267.9 757.8,267.2ZM722.8,154.1 725.2,153.3 724.6,154.3 723.2,154.6 722.8,154.1ZM712.9,153.8 716.0,153.8 714.3,154.2 712.9,153.8ZM700.3,150.2 703.8,149.8 703.4,151.9 700.3,150.7 700.3,150.2ZM695.8,148.9 697.2,148.6 697.3,146.3 695.5,146.2 695.8,148.9ZM696.0,145.4 696.8,145.7 696.7,143.5 696.0,144.1 696.0,145.4ZM717.1,145.4 718.4,145.9 720.5,146.1 721.6,145.3 722.9,144.9 724.7,144.9 726.7,145.8 728.3,146.3 729.6,146.1 730.6,146.2 731.8,145.5 731.6,144.1 730.6,143.0 730.0,143.4 729.5,143.0 728.0,141.8 726.6,141.3 725.6,140.6 726.3,140.4 727.0,139.3 726.3,138.8 727.7,138.2 727.6,137.8 726.8,138.1 725.9,138.2 725.4,138.6 724.3,138.8 723.5,139.2 723.7,140.0 724.3,140.2 725.3,140.2 725.2,140.7 724.1,141.0 722.8,141.7 722.1,141.4 722.3,140.9 721.2,140.5 721.2,140.2 722.2,139.7 721.8,139.4 720.1,139.2 720.0,138.6 719.0,138.8 718.8,139.6 718.1,140.5 718.1,140.9 717.6,141.1 717.3,141.0 717.3,142.6 716.7,143.1 716.5,144.1 716.9,144.9 717.1,145.4ZM740.5,141.8 741.8,143.4 743.2,143.8 743.6,144.3 743.9,144.7 743.5,145.1 744.1,146.1 744.2,146.3 745.4,146.7 744.3,147.5 745.0,148.5 745.4,148.9 745.3,150.2 746.4,151.3 746.2,151.5 743.7,151.8 742.2,151.0 741.1,150.7 740.6,149.8 740.5,149.1 740.7,148.9 740.8,148.3 740.8,147.3 741.7,147.1 741.3,146.9 740.7,146.7 739.3,145.1 737.8,143.5 737.7,142.6 736.4,141.4 737.1,140.1 737.9,139.0 738.4,139.0 739.3,138.8 740.4,138.2 741.4,138.5 742.4,138.4 742.8,139.3 742.9,140.5 741.4,141.5 740.5,141.8ZM855.0,215.7 855.6,219.9 856.8,220.4 857.5,221.5 857.4,223.2 857.5,226.7 860.1,228.7 860.6,231.3 861.8,231.7 862.2,233.7 863.4,235.3 862.8,239.1 861.0,242.2 858.8,245.1 856.7,246.9 854.4,249.3 852.9,251.6 850.7,252.1 847.6,253.7 846.6,252.9 844.8,253.5 842.0,252.4 841.3,251.6 842.1,250.5 841.8,249.2 841.0,249.2 842.1,247.6 842.0,245.7 841.5,247.2 839.9,248.6 840.2,247.4 841.1,246.5 838.9,248.2 838.3,247.7 838.4,245.1 836.5,244.3 835.6,243.7 833.5,243.8 830.4,244.7 828.0,245.3 826.5,246.4 825.7,246.9 824.0,247.0 822.3,246.9 821.4,247.0 820.5,247.7 818.4,248.4 817.2,248.4 816.4,247.6 815.8,247.3 816.1,246.5 817.0,246.1 817.8,243.8 817.7,242.5 818.0,241.0 817.8,240.0 817.9,239.6 817.6,239.1 817.6,238.0 817.3,236.9 817.2,236.4 817.7,236.9 817.5,235.7 818.0,236.1 818.2,236.7 818.4,236.0 818.0,234.9 818.0,234.5 817.8,234.1 818.1,233.3 818.4,233.0 818.7,232.4 818.7,231.6 819.3,230.6 819.3,231.6 819.9,230.6 821.0,230.2 821.6,229.7 822.6,229.1 823.2,229.0 823.4,229.1 824.4,228.7 825.1,228.6 825.8,228.1 826.4,228.2 827.7,227.8 828.4,227.1 828.9,226.4 829.6,225.8 829.9,224.6 831.0,223.4 831.2,224.6 831.9,224.3 831.5,223.6 832.0,223.0 832.5,223.2 832.8,222.3 833.5,221.6 833.9,221.1 834.5,220.8 834.6,220.4 835.0,220.5 835.1,220.3 836.3,219.9 837.0,220.5 837.6,221.3 838.3,221.3 839.0,221.5 838.9,220.7 839.6,219.6 840.2,219.3 840.1,218.9 840.7,218.1 841.4,217.7 842.0,217.8 843.1,217.6 843.2,216.9 842.3,216.5 843.0,216.2 843.7,216.6 844.3,217.2 845.2,217.4 845.6,217.3 846.3,217.7 847.0,217.4 847.5,217.4 847.7,217.3 848.2,218.0 847.8,218.6 847.2,219.2 846.8,219.2 846.9,219.7 846.5,220.4 845.9,221.1 846.0,221.5 846.8,222.3 847.6,222.7 848.8,223.9 849.2,223.9 849.7,224.3 849.8,224.7 850.8,225.1 851.7,224.7 852.1,223.9 852.4,223.4 852.7,222.5 853.3,221.5 853.2,220.9 853.3,219.7 853.7,218.6 853.8,218.4 853.8,218.0 854.4,216.5 854.5,216.1 855.0,215.7Z" fill="none" stroke="#000" stroke-width="1.9" stroke-linejoin="round"/>
<path d="M680.4,152.9 679.6,152.2 678.4,151.3 676.7,151.5 676.9,149.8 676.1,149.3 676.9,147.3 677.1,144.9 676.6,143.5 678.0,142.6 681.2,142.9 684.7,143.0 685.3,141.3 685.3,139.3 684.3,138.0 681.9,137.1 681.6,136.3 683.5,135.9 684.9,136.1 684.6,134.7 685.6,135.1 686.8,134.7 688.2,133.1 689.9,132.6 690.9,131.7 691.4,130.4 693.5,129.9 695.2,129.3 695.1,127.4 694.5,126.0 695.0,125.2 696.9,124.5 696.7,126.0 697.3,126.6 696.5,128.1 697.6,129.2 699.1,128.7 700.6,129.2 703.0,128.5 705.0,128.3 706.4,128.5 707.5,127.5 707.1,125.6 707.6,124.9 709.3,125.4 710.1,124.2 709.1,123.1 710.2,122.2 713.3,122.2 715.3,121.8 713.5,121.0 711.2,121.1 708.4,121.9 706.6,120.5 706.5,118.6 707.1,117.0 708.8,115.8 709.5,115.0 708.5,114.6 706.5,114.9 705.8,116.1 704.7,117.3 703.0,118.3 702.7,120.0 702.9,121.0 704.4,121.6 704.0,122.5 702.7,123.4 702.7,125.4 702.2,126.5 700.6,127.4 699.3,127.3 699.1,126.4 698.1,124.6 697.1,123.0 696.5,122.2 694.7,123.7 693.2,124.0 692.0,123.4 691.3,120.9 691.3,119.2 693.1,118.2 694.4,117.4 696.1,116.2 697.8,114.4 698.9,112.9 700.0,111.7 701.7,110.7 703.2,109.8 705.3,109.6 707.7,108.6 710.2,108.8 713.0,109.5 715.0,110.6 718.1,110.9 722.5,112.3 723.0,113.5 721.4,114.3 717.8,114.1 716.1,113.7 717.7,114.5 718.3,116.3 720.4,117.0 721.1,116.3 719.6,115.8 720.0,115.5 722.5,116.2 723.1,115.8 722.3,115.0 724.0,113.8 725.8,114.3 724.8,111.7 726.9,111.7 727.6,112.4 726.9,113.2 728.2,113.5 729.1,112.5 733.0,111.1 734.1,111.7 736.4,111.5 737.6,110.9 738.4,109.9 742.5,110.7 746.4,112.0 746.6,111.4 745.4,110.8 744.0,110.4 743.5,108.9 742.3,107.8 743.1,106.7 744.1,106.5 747.1,107.4 747.8,108.7 749.7,110.3 750.1,111.6 752.2,112.3 751.0,110.8 749.7,109.9 749.7,109.1 748.0,108.3 748.9,107.5 748.2,106.7 749.9,107.6 751.3,107.2 750.0,106.6 752.7,107.3 754.7,107.8 753.2,106.9 752.3,105.9 757.1,105.6 755.9,104.9 756.2,104.3 758.7,103.8 761.0,103.3 764.0,102.9 765.1,102.4 766.6,101.6 768.4,101.9 768.3,102.5 770.4,102.8 773.2,102.6 775.6,103.1 777.3,104.1 776.8,104.4 775.4,104.9 775.1,105.2 776.3,105.4 777.8,105.7 778.3,105.4 779.6,105.9 783.5,105.9 787.9,106.5 788.9,105.9 790.1,105.9 792.3,106.5 793.6,107.2 793.8,107.7 795.7,108.5 797.6,108.9 797.1,107.8 799.0,108.3 800.0,107.9 802.2,108.4 802.3,108.0 803.9,108.2 801.9,107.2 803.2,106.7 807.0,107.3 808.8,107.3 812.5,108.0 815.1,108.9 819.0,108.7 820.9,108.8 823.2,109.8 823.4,110.2 824.9,110.5 825.8,110.3 827.2,110.2 829.1,110.4 830.5,110.3 833.6,111.3 834.1,110.9 832.2,110.2 832.0,109.7 835.1,110.0 836.8,109.9 840.1,110.5 842.1,110.9M849.1,115.6 848.7,116.2 847.4,116.1 849.0,116.7 850.9,117.6 853.0,118.8 850.9,118.6 849.4,119.4 848.7,119.5 848.4,120.4 848.1,121.3 848.3,121.8 845.9,120.9 844.7,121.9 843.6,121.4 843.5,122.0 841.9,121.8 842.6,122.6 842.9,123.9 843.5,124.4 844.9,124.6 846.7,126.4 845.9,126.5 846.6,127.5 847.5,128.0 846.6,128.8 847.7,130.2 846.5,130.6 847.5,131.9 847.1,133.0 845.9,132.1 843.6,130.2 840.2,127.4 838.9,125.6 839.0,124.9 838.4,124.4 839.5,124.0 839.6,122.5 839.8,121.3 840.3,120.3 838.8,118.5 837.8,118.6 838.6,119.7 837.8,121.0 835.1,119.4 833.3,119.9 833.2,121.9 834.9,122.7 833.1,123.0 831.8,123.1 830.8,122.2 829.1,122.0 828.5,122.6 825.5,122.5 822.8,122.9 821.9,125.2 820.9,128.3 822.7,128.4 823.8,129.2 825.0,129.4 825.1,128.8 826.3,128.9 828.9,130.3 830.1,131.5 830.3,132.8 831.5,134.3 832.6,136.4 832.4,138.2 832.6,139.2 832.3,140.7 831.7,142.2 831.6,143.0 830.6,143.8 829.9,143.8 828.9,143.1 828.1,144.6 828.1,144.6 827.8,144.3 827.5,145.0 827.9,146.2 827.9,146.3 827.3,147.3 826.9,147.8 826.6,148.5 827.1,148.7 828.0,149.4 829.8,151.0 830.5,151.8 831.3,153.4 831.1,154.1 830.2,154.4 829.6,154.9 828.6,155.0 828.2,154.4 828.0,153.3 826.8,151.9 827.6,151.7 826.3,150.6 825.6,150.3 825.6,150.5 825.3,150.6 825.0,150.2 824.6,150.2 824.6,149.3 824.4,149.1 824.3,148.3 824.1,148.1 823.3,147.9 822.8,147.7 821.4,148.1 820.8,148.6 819.9,149.0 820.1,148.3 819.6,147.8 820.1,147.0 819.1,146.3 818.4,146.7 817.6,147.7 817.3,148.5 816.3,148.6 816.1,149.3 817.1,150.1 818.1,150.3 818.5,151.0 819.3,151.3 820.2,150.3 821.4,150.9 822.2,150.9 822.7,151.7 821.3,151.9 821.0,152.8 820.3,153.4 820.1,154.2 821.5,155.0 822.5,156.4 823.6,157.6 824.8,158.7 825.2,159.6 824.6,160.0 825.1,160.8 825.9,161.2 826.0,162.3 826.1,163.4 825.5,163.5 825.1,164.9 824.5,166.3 824.5,167.3 824.0,168.4 822.6,169.6 821.2,170.6 819.9,170.8 819.3,171.4 818.8,171.0 818.2,171.6 816.7,172.3 815.6,172.5 815.4,174.0 814.8,174.0 814.3,173.1 814.5,172.5 812.8,172.1 812.4,172.3 811.0,173.5 810.2,174.7 810.1,175.6 811.2,177.1 812.6,178.8 813.8,179.6 814.6,180.7 815.4,183.3 815.5,185.6 814.7,186.5 813.3,187.3 812.5,188.5 811.1,189.7 810.6,188.9 810.9,187.9 809.9,187.2 808.9,187.0 808.4,186.2 807.7,184.9 807.2,183.3 805.7,184.2 805.5,184.4 804.4,183.3 804.7,184.8 804.2,186.8 804.0,188.9 804.8,188.9 805.4,190.1 805.7,191.3 806.3,192.0 807.0,192.3 807.7,193.0 808.0,193.2 808.8,193.9 809.3,194.7 809.2,196.3 809.3,196.7 809.5,197.5 810.0,197.9 810.4,199.1 810.4,199.6 809.5,199.7 808.4,198.6 807.0,197.5 806.9,196.9 806.1,196.1 806.0,194.8 805.5,194.2 805.5,193.2 805.3,192.6 804.8,192.2 804.5,191.5 803.2,190.0 803.0,190.8 802.9,190.0 802.9,189.2 803.2,187.9 803.0,186.9 803.3,186.0 802.7,185.2 802.7,183.7 802.2,183.0 801.7,181.4 801.2,179.6 800.6,178.6 799.9,179.2 798.7,180.2 798.0,180.1 797.2,179.8 797.4,178.0 797.0,176.8 795.8,175.2 796.0,174.8 795.2,174.5 794.3,173.5 793.8,172.8 793.6,172.1 793.3,171.4 792.7,170.6 791.7,170.6 791.9,171.2 791.6,172.0 791.0,171.7 790.9,171.8 790.6,171.8 790.1,171.6 790.0,172.1 789.2,172.1 787.8,172.4 788.0,173.5 787.5,174.1 786.0,175.1 784.9,176.7 784.1,177.5 783.0,178.4 783.0,179.0 782.5,179.4 781.5,179.8 780.9,179.9 780.7,181.0 781.1,182.7 781.3,183.8 780.9,185.0 781.0,187.3 780.3,187.4 779.9,188.5 780.3,188.9 779.3,189.3 778.8,190.1 778.4,190.5 777.3,189.3 776.6,187.4 776.0,186.1 775.6,185.4 774.9,184.2 774.5,182.5 774.1,181.7 772.9,179.8 772.2,177.2 771.7,175.5 771.5,173.9 771.1,172.5 769.6,173.3 768.7,173.2 767.0,171.6 767.5,171.0 767.1,170.6 765.6,169.4 764.7,169.2 764.2,168.1 763.3,167.1 761.1,167.4 759.3,167.4 757.7,167.5 755.4,167.1 754.1,166.9 752.8,166.7 752.1,165.0 751.6,164.9 750.7,165.0 749.6,165.7 748.2,165.3 746.9,164.2 745.7,163.8 744.9,162.6 743.7,160.8 743.2,161.0 742.3,160.6 742.0,161.1 741.3,161.0 741.7,161.6 741.6,161.9 742.0,162.8 742.6,164.0 743.2,164.3 743.5,164.9 744.4,165.4 744.4,166.5 744.5,166.9 744.9,167.3 745.2,167.7 745.3,167.9 745.7,168.2 746.1,168.2 746.2,167.4 746.1,166.6 745.7,166.2 745.4,166.3 745.2,167.8 746.6,169.0 747.5,168.8 748.4,168.8 749.1,168.9 749.9,167.9 750.6,167.1 751.3,166.2 751.6,165.8 751.7,165.9 751.7,166.5 751.6,166.7 751.8,167.8 752.4,168.8 753.1,169.2 753.9,169.4 754.6,169.6 755.7,170.8 756.1,171.0 755.6,172.5 755.2,172.9 754.8,173.9 754.2,173.7 754.0,174.1 754.0,174.8 754.1,175.6 754.1,175.9 752.8,176.3 752.7,177.0 752.5,177.2 751.8,177.2 751.4,177.6 751.4,178.2 750.9,178.4 750.2,178.4 749.5,178.8 748.9,178.8 748.1,179.2 747.9,179.9 747.9,180.3 746.8,180.9 745.0,181.5 744.0,182.5 743.4,182.5 743.0,182.5 742.4,183.0 741.6,183.3 740.7,183.4 740.3,183.4 740.1,183.8 739.8,183.9 739.7,184.2 739.1,184.2 738.7,184.4 737.9,184.4 737.5,183.5 737.6,182.7 737.3,182.3 737.1,181.4 736.7,180.9 736.9,180.7 736.8,180.2 736.9,179.9 736.8,179.4 736.6,178.7 736.2,178.3 736.2,177.8 735.6,177.4 734.8,176.2 734.4,175.1 733.5,174.1 733.0,174.0 732.1,172.7 731.9,171.7 732.0,170.9 731.2,169.4 730.6,168.9 730.0,168.6 729.6,167.8 729.6,167.5 729.2,166.9 728.8,166.6 728.3,165.5 727.5,164.5 726.9,163.5 726.3,163.5 726.5,162.8 726.4,162.3 726.5,161.8 726.2,162.4 726.0,163.2 725.9,163.9 725.5,164.2 724.5,163.1 723.6,161.2 723.5,161.2 724.0,162.7 724.8,164.0 725.9,166.2 726.4,166.9 726.8,167.7 728.0,169.2 727.7,169.3 727.8,170.2 729.3,171.4 729.5,171.7 729.9,173.1 729.9,174.7 730.5,176.3 730.9,176.6 731.6,177.1 732.3,178.7 732.8,179.9 733.4,180.6 735.1,181.8 735.7,182.6 736.5,183.4 736.8,183.8 737.4,184.2 737.7,184.6 737.7,185.2 737.0,185.6 737.5,185.8 738.0,186.1 738.2,186.6 738.7,187.3 739.3,187.3 740.5,186.9 741.7,186.8 742.7,186.4 743.3,186.2 743.8,186.0 744.4,186.0 744.8,186.0 745.3,185.7 746.0,185.6 746.4,185.2 746.9,185.2 746.9,185.6 746.8,186.2 746.9,187.0 746.7,187.4 746.5,188.9 745.9,190.4 745.3,192.2 744.2,194.2 743.2,195.7 741.9,197.4 740.8,198.6 739.0,199.8 737.8,200.9 736.5,202.5 736.2,203.2 736.0,203.6 735.3,204.0 734.5,204.8 734.2,205.7 733.8,206.3 733.6,207.1 733.1,207.6 732.5,209.2 732.6,210.0 733.3,210.4 733.4,210.8 733.0,211.7 733.1,212.1 733.0,212.7 733.3,213.5 733.8,214.9 734.2,215.2 734.5,215.8 734.3,217.2 734.5,218.2 734.4,220.4 734.6,221.1 734.2,222.0 733.7,223.0 732.9,223.8 731.7,224.3 730.4,225.0 729.0,226.4 728.6,226.6 727.7,227.7 727.2,227.9 727.1,228.9 727.6,229.9 727.8,230.6 727.8,231.0 728.0,231.0 727.8,232.4 727.6,232.9 727.9,233.2 727.7,233.7 727.1,234.2 726.1,234.7 724.7,235.5 724.2,235.9 724.3,236.4 724.5,236.5 724.4,237.2 724.1,238.3 723.9,239.4 723.5,240.0 722.6,240.7 722.4,240.8 721.9,241.5 721.5,242.2 720.8,243.1 719.3,244.6 718.5,245.4 717.6,245.9 716.3,246.5 715.8,246.6 715.6,246.9 715.0,246.8 714.4,247.0 713.2,246.8 712.5,246.9 712.0,246.9 710.7,247.4 709.8,247.6 709.1,248.1 708.6,248.1 708.1,247.7 707.8,247.6 707.3,247.0 707.3,247.2 707.1,246.9 707.2,246.1 706.8,245.1 707.2,244.9 707.2,243.9 706.6,242.6 706.1,241.5 706.1,241.5 705.3,239.8 704.5,238.7 704.1,237.7 703.9,236.4 703.6,235.5 703.3,233.4 703.3,231.8 703.2,231.0 702.8,230.5 702.2,229.4 701.5,227.8 701.3,226.9 700.4,225.6 700.3,224.6 700.2,223.8 700.5,222.5 700.8,221.3 701.0,220.7 701.3,219.5 701.6,218.9 702.3,218.1 702.7,217.4 702.8,216.5 702.8,215.7 702.4,215.3 702.1,214.5 701.9,213.7 701.9,213.3 702.2,212.9 701.9,211.5 701.7,210.6 701.1,209.8 701.2,209.5 701.1,209.1 700.7,208.0 699.8,206.7 698.6,205.3 697.8,204.1 697.1,202.8 697.1,202.4 697.3,202.0 697.6,200.9 697.9,200.0 697.6,199.7 698.0,198.2 698.2,197.1 697.8,196.3 697.2,196.1 696.9,195.4 696.7,195.2 696.7,194.8 695.5,195.4 695.0,195.2 694.6,195.7 693.6,195.5 693.0,194.7 692.5,193.8 691.7,192.8 690.9,192.8 689.8,192.8 688.9,193.1 687.9,193.4 686.0,194.2 685.3,194.6 684.3,195.0 683.2,194.6 682.7,194.6 681.9,194.3 681.1,194.3 679.7,194.6 678.9,195.0 677.7,195.5 677.5,195.4 677.1,195.4 675.9,194.8 674.9,193.8 673.8,193.1 673.1,192.2 672.7,192.0 671.9,191.5 671.3,190.8 671.1,190.3 671.0,189.3 670.4,188.5 669.9,188.0 669.3,187.6 669.2,186.9 669.1,186.6 668.8,186.5 668.1,185.8 667.6,185.8 667.4,185.4 667.4,185.2 667.0,184.9 666.9,184.6 666.8,183.5 666.9,183.0 666.5,181.9 665.9,181.5 666.4,181.3 667.0,180.3 667.2,179.6 667.7,179.1 667.7,178.4 667.9,177.1 667.8,177.0 667.6,175.6 667.5,174.9 667.6,174.3 667.4,173.6 666.7,173.1 666.8,172.5 666.9,171.8 667.3,171.4 667.7,170.8 667.7,170.4 668.1,169.4 668.8,168.5 669.1,168.4 669.5,167.5 669.5,166.9 670.0,165.9 670.7,165.5 671.6,164.2 672.1,163.6 673.2,163.5 674.1,162.6 674.7,162.2 675.6,161.1 675.5,159.3 676.0,158.3 676.1,157.5 676.8,156.7 677.9,156.0 678.8,155.4 679.7,154.1 680.0,153.2 680.8,153.2 681.5,153.8 682.6,153.7 683.7,154.0 684.1,154.0 685.3,153.3 686.5,153.0 687.2,152.5 688.3,152.1 690.2,151.8 691.9,151.7 692.5,151.9 693.6,151.4 694.7,151.4 695.2,151.7 695.9,151.7 697.1,151.1 697.9,151.3 697.9,151.9 698.8,151.4 698.9,151.7 698.4,152.4 698.4,153.0 698.8,153.3 698.7,154.5 697.9,155.2 698.2,155.8 698.9,155.8 699.1,156.5 699.6,156.8 700.9,157.2 701.4,157.1 702.3,157.3 703.8,157.9 704.4,159.1 705.5,159.3 707.1,159.9 708.4,160.6 708.9,160.3 709.4,159.6 709.0,158.5 709.4,158.0 710.2,157.3 710.9,157.2 712.5,157.5 712.9,158.0 713.3,158.0 713.7,158.3 714.8,158.4 715.2,158.8 716.7,158.8 717.8,159.2 719.0,159.6 719.5,159.7 720.3,159.3 720.8,158.9 721.8,158.8 722.6,159.1 722.9,159.7 723.2,159.2 724.1,159.6 725.0,159.7 725.6,159.3 725.9,158.9 726.0,158.1 726.1,157.2 726.2,156.8 726.5,155.7 727.0,154.8 726.7,153.7 726.6,153.2 726.9,151.9 726.2,152.1 725.2,151.8 724.5,152.6 722.8,152.8 721.9,152.1 720.6,151.9 720.5,152.5 719.7,152.8 718.5,151.9 717.3,151.9 716.5,150.6 715.6,149.9 716.1,148.9 715.4,148.2 716.4,147.0 718.1,146.9 718.4,145.9 717.1,145.4 716.1,146.3 715.5,147.3 715.0,146.7 714.3,146.3 713.7,146.3 712.5,146.6 713.3,147.4 712.8,147.6 712.1,147.6 711.5,146.9 711.3,147.1 711.6,147.9 712.3,148.6 711.9,148.9 712.5,149.5 713.1,149.9 713.2,150.6 712.1,150.3 712.5,151.0 711.9,151.1 712.4,152.4 711.7,152.4 710.7,151.8 710.2,150.7 709.9,149.8 709.4,149.1 708.8,148.5 708.8,148.1 708.5,147.9 708.5,147.7 707.8,147.1 707.7,146.6 707.7,145.7 707.8,145.3 707.6,145.0 707.4,144.9 707.0,144.5 706.6,144.2 705.5,143.8 704.8,143.3 703.8,142.9 702.9,141.9 703.1,141.8 702.5,141.3 702.5,140.7 701.8,140.6 701.5,141.1 701.2,140.7 701.1,140.2 701.3,140.1 700.5,140.0 699.7,140.4 699.8,141.0 699.7,141.4 700.1,142.1 701.1,142.7 701.7,143.8 703.0,144.9 703.8,144.9 704.2,145.3 703.9,145.5 704.9,145.9 705.7,146.3 706.7,147.0 706.8,147.3 706.7,147.8 705.9,147.1 705.1,147.0 704.6,147.8 705.5,148.3 705.4,149.0 704.9,149.1 704.4,150.2 704.0,150.3 703.9,149.9 704.1,149.1 704.3,148.9 703.8,147.5 703.0,147.3 702.6,146.7 702.0,146.5 701.4,145.9 700.6,145.8 699.7,145.3 698.7,144.3 697.9,143.7 697.5,142.3 697.0,142.2 696.1,141.7 695.6,141.9 695.1,142.5 694.5,142.6 693.6,143.4 691.5,143.0 689.9,143.4 689.8,144.2 689.9,145.0 688.9,145.9 687.5,146.2 687.4,146.6 686.7,147.4 686.3,148.5 686.7,149.3 686.0,149.8 685.8,150.7 685.0,151.0 684.3,151.9 681.7,151.9 681.0,152.5 680.6,153.0 680.4,152.9M531.1,110.9 531.8,111.9 532.4,113.0 531.3,113.7 531.5,114.1 532.5,113.1 534.6,113.4 534.9,114.4 533.2,115.0 531.6,115.1 530.0,116.2 529.4,116.4 528.5,116.4 528.3,116.1 527.6,115.7 528.2,115.1 527.5,115.0 526.3,115.1 526.3,114.8 527.2,114.3 525.8,114.5 525.4,115.1 524.1,115.6M562.9,306.7 571.2,307.2 578.9,307.6 585.9,307.7 587.8,307.4 585.1,306.5 580.8,305.3 575.5,304.1 570.3,303.0 565.0,301.9 561.8,301.1 564.1,300.5 567.6,300.4 569.5,299.9 571.7,299.4 570.4,298.6 571.1,298.4 573.8,298.2 577.0,298.0 580.8,297.7 584.2,297.6 589.0,297.7 592.5,297.5 593.8,296.8 597.2,297.6 600.3,298.0 603.7,298.0 604.2,297.2 604.0,296.4 606.4,296.1 608.9,296.6 611.8,296.5 615.2,296.5 618.9,296.7 620.2,296.2 622.6,296.4 623.9,296.1 626.6,296.7 628.7,296.3 629.5,294.8 629.5,294.3 628.7,292.8 628.3,291.2 628.0,290.3 628.1,288.2 629.2,286.9 630.3,286.1 632.6,285.1 634.2,285.0 634.2,285.7 633.3,286.1 632.7,287.4 631.5,288.7 631.7,290.6 632.6,291.7 634.2,293.1 634.9,294.1 635.7,295.2 636.5,296.2 636.9,297.3 635.8,297.8 635.4,298.4 635.1,298.9 631.8,299.5 628.0,300.2 626.7,300.3 626.5,300.7 631.3,302.5 637.3,304.2 642.3,304.8 645.3,305.1 650.6,304.5 655.2,303.7 660.0,303.2 665.1,303.0 666.7,301.1 669.3,299.3 672.1,297.7 674.4,296.8 673.7,296.3 676.4,295.5 677.8,294.6 680.4,294.2 681.7,293.9 684.9,294.0 687.6,293.7 690.1,293.2 693.0,292.6 694.7,292.8 697.2,293.0 700.1,292.9 702.7,293.0 704.8,293.1 707.5,292.9 710.1,292.8 712.5,292.0 714.7,292.1 716.0,291.1 718.1,292.1 719.6,292.6 722.3,291.0 725.3,289.9 727.5,290.1 729.6,289.6 732.3,288.8 735.5,288.0 737.5,288.7 737.7,290.1 739.8,290.1 742.4,290.1 744.7,290.7 746.8,291.5 745.3,293.7 746.5,294.7 747.3,294.4 748.8,293.1 750.3,292.6 751.4,292.3 754.2,291.5 755.5,290.9 758.4,289.8 761.4,289.4 765.0,288.4 767.0,288.9 768.6,289.1 771.0,288.8 773.5,288.8 774.7,289.4 778.8,287.7 780.5,289.2 782.7,289.0 786.1,288.2 788.2,288.1 789.0,289.0 790.8,289.2 793.2,289.6 796.0,288.8 797.6,289.0 799.8,289.0 802.9,288.7 806.2,288.3 807.6,287.8 809.0,288.5 811.2,289.1 812.7,289.6 815.1,289.4 814.8,290.4 816.1,291.2 818.5,291.5 821.0,291.4 822.3,292.1 823.0,292.4 823.5,293.0 825.3,293.6 827.0,293.7 828.6,293.9 829.7,294.3 826.7,296.0 823.1,296.9 818.9,298.0 815.1,299.5 812.7,300.8 809.2,301.8 806.4,302.7 804.1,303.6 803.2,304.5 803.4,305.3 804.0,305.9 805.6,306.4 807.8,306.6 810.3,306.7" fill="none" stroke="#000" stroke-width="1.9" stroke-linejoin="round"/>
</g>
<path d="M800.40,309.75 L804.37,308.65 L808.96,307.16 L814.03,305.32 L819.46,303.18 L825.08,300.79 L830.55,298.21 L835.59,295.54 L840.26,292.78 L844.73,289.93 L849.05,287.01 L853.27,284.02 L857.37,280.97 L861.34,277.87 L865.15,274.71 L868.79,271.52 L872.19,268.28 L875.31,265.01 L878.24,261.72 L881.05,258.40 L883.67,255.07 L886.04,251.73 L888.18,248.37 L890.14,245.01 L891.88,241.65 L893.39,238.28 L894.66,234.92 L895.71,231.56 L896.63,228.20 L897.51,224.83 L898.30,221.47 L898.94,218.11 L899.45,214.75 L899.85,211.39 L900.14,208.02 L900.33,204.66 L900.43,201.30 L900.33,197.94 L900.14,194.58 L899.85,191.21 L899.45,187.85 L898.94,184.49 L898.30,181.13 L897.51,177.77 L896.63,174.40 L895.71,171.04 L894.66,167.68 L893.39,164.32 L891.88,160.95 L890.14,157.59 L888.18,154.23 L886.04,150.87 L883.67,147.53 L881.05,144.20 L878.24,140.88 L875.31,137.59 L872.19,134.32 L868.79,131.08 L865.15,127.89 L861.34,124.73 L857.37,121.63 L853.27,118.58 L849.05,115.59 L844.73,112.67 L840.26,109.82 L835.59,107.06 L830.55,104.39 L825.08,101.81 L819.46,99.42 L814.03,97.28 L808.96,95.44 L804.37,93.95 L800.40,92.85 L572.80,92.85 L568.83,93.95 L564.24,95.44 L559.17,97.28 L553.74,99.42 L548.12,101.81 L542.65,104.39 L537.61,107.06 L532.94,109.82 L528.47,112.67 L524.15,115.59 L519.93,118.58 L515.83,121.63 L511.86,124.73 L508.05,127.89 L504.41,131.08 L501.01,134.32 L497.89,137.59 L494.96,140.88 L492.15,144.20 L489.53,147.53 L487.16,150.87 L485.02,154.23 L483.06,157.59 L481.32,160.95 L479.81,164.32 L478.54,167.68 L477.49,171.04 L476.57,174.40 L475.69,177.77 L474.90,181.13 L474.26,184.49 L473.75,187.85 L473.35,191.21 L473.06,194.58 L472.87,197.94 L472.77,201.30 L472.87,204.66 L473.06,208.02 L473.35,211.39 L473.75,214.75 L474.26,218.11 L474.90,221.47 L475.69,224.83 L476.57,228.20 L477.49,231.56 L478.54,234.92 L479.81,238.28 L481.32,241.65 L483.06,245.01 L485.02,248.37 L487.16,251.73 L489.53,255.07 L492.15,258.40 L494.96,261.72 L497.89,265.01 L501.01,268.28 L504.41,271.52 L508.05,274.71 L511.86,277.87 L515.83,280.97 L519.93,284.02 L524.15,287.01 L528.47,289.93 L532.94,292.78 L537.61,295.54 L542.65,298.21 L548.12,300.79 L553.74,303.18 L559.17,305.32 L564.24,307.16 L568.83,308.65 L572.80,309.75 Z" fill="none" stroke="#bfbfbf" stroke-width="1.4"/>
<text x="196.6" y="346.8" font-size="21.6" fill="#2f4f4f" stroke="#2f4f4f" stroke-width="0.5" textLength="36.9" lengthAdjust="spacingAndGlyphs">JJA</text>
<g clip-path="url(#clipJJA)">
<path d="M329.10,580.20 L333.07,579.10 L337.66,577.61 L342.73,575.77 L348.16,573.63 L353.78,571.24 L359.25,568.66 L364.29,565.99 L368.96,563.23 L373.43,560.38 L377.75,557.46 L381.97,554.47 L386.07,551.42 L390.04,548.32 L393.85,545.16 L397.49,541.97 L400.89,538.73 L404.01,535.46 L406.94,532.17 L409.75,528.85 L412.37,525.52 L414.74,522.18 L416.88,518.82 L418.84,515.46 L420.58,512.10 L422.09,508.73 L423.36,505.37 L424.41,502.01 L425.33,498.65 L426.21,495.28 L427.00,491.92 L427.64,488.56 L428.15,485.20 L428.55,481.84 L428.84,478.47 L429.03,475.11 L429.13,471.75 L429.03,468.39 L428.84,465.03 L428.55,461.66 L428.15,458.30 L427.64,454.94 L427.00,451.58 L426.21,448.22 L425.33,444.85 L424.41,441.49 L423.36,438.13 L422.09,434.77 L420.58,431.40 L418.84,428.04 L416.88,424.68 L414.74,421.32 L412.37,417.98 L409.75,414.65 L406.94,411.33 L404.01,408.04 L400.89,404.77 L397.49,401.53 L393.85,398.34 L390.04,395.18 L386.07,392.08 L381.97,389.03 L377.75,386.04 L373.43,383.12 L368.96,380.27 L364.29,377.51 L359.25,374.84 L353.78,372.26 L348.16,369.87 L342.73,367.73 L337.66,365.89 L333.07,364.40 L329.10,363.30 L101.50,363.30 L97.53,364.40 L92.94,365.89 L87.87,367.73 L82.44,369.87 L76.82,372.26 L71.35,374.84 L66.31,377.51 L61.64,380.27 L57.17,383.12 L52.85,386.04 L48.63,389.03 L44.53,392.08 L40.56,395.18 L36.75,398.34 L33.11,401.53 L29.71,404.77 L26.59,408.04 L23.66,411.33 L20.85,414.65 L18.23,417.98 L15.86,421.32 L13.72,424.68 L11.76,428.04 L10.02,431.40 L8.51,434.77 L7.24,438.13 L6.19,441.49 L5.27,444.85 L4.39,448.22 L3.60,451.58 L2.96,454.94 L2.45,458.30 L2.05,461.66 L1.76,465.03 L1.57,468.39 L1.47,471.75 L1.57,475.11 L1.76,478.47 L2.05,481.84 L2.45,485.20 L2.96,488.56 L3.60,491.92 L4.39,495.28 L5.27,498.65 L6.19,502.01 L7.24,505.37 L8.51,508.73 L10.02,512.10 L11.76,515.46 L13.72,518.82 L15.86,522.18 L18.23,525.52 L20.85,528.85 L23.66,532.17 L26.59,535.46 L29.71,538.73 L33.11,541.97 L36.75,545.16 L40.56,548.32 L44.53,551.42 L48.63,554.47 L52.85,557.46 L57.17,560.38 L61.64,563.23 L66.31,565.99 L71.35,568.66 L76.82,571.24 L82.44,573.63 L87.87,575.77 L92.94,577.61 L97.53,579.10 L101.50,580.20 Z" fill="#fce0cf"/>
<path d="M77.2,384.1 86.8,382.5 90.0,388.1 80.4,389.7Z" fill="#f7b799"/>
<path d="M115.8,386.5 125.4,387.3 125.4,390.5 116.6,390.5Z" fill="#f7b799"/>
<path d="M112.5,369.6 122.2,369.6 122.2,372.1 112.5,372.1Z" fill="#f7b799"/>
<path d="M83.6,401.8 96.5,400.2 102.9,408.2 102.9,421.1 96.5,427.5 86.8,424.3 80.4,414.7Z" fill="#faebe3"/>
<path d="M0.0,432.3 12.9,429.1 28.9,427.5 40.2,429.1 43.4,437.2 51.4,438.8 61.1,432.3 59.5,421.1 64.3,413.1 74.0,403.4 80.4,401.8 80.4,424.3 86.8,437.2 93.2,446.8 99.7,450.0 102.9,443.6 99.7,430.7 106.1,417.9 119.0,413.1 131.8,411.4 145.0,409.8 145.0,470.0 0.0,470.0Z" fill="#f7f7f7"/>
<path d="M112.5,443.6 125.4,445.2 128.6,456.5 119.0,459.7 112.5,456.5Z" fill="#fce0cf"/>
<path d="M99.7,431.5 106.1,430.7 106.9,437.2 100.5,438.0Z" fill="#d7e8f1"/>
<path d="M0.0,453.2 24.1,451.6 48.2,453.2 72.3,454.9 88.4,451.6 104.5,450.0 112.5,456.5 114.1,470.0 0.0,470.0Z" fill="#fce0cf"/>
<path d="M0.0,468.0 131.8,468.0 131.8,513.1 112.5,511.4 96.5,509.8 80.4,508.2 65.9,507.4 75.6,514.7 78.8,521.1 67.5,524.3 67.5,533.2 56.3,527.5 46.6,524.3 40.2,530.7 28.9,525.9 16.1,521.1 0.0,521.1Z" fill="#f7f7f7"/>
<path d="M3.2,456.5 24.1,454.9 48.2,458.1 46.6,464.5 24.1,465.3 3.2,464.5Z" fill="#f7b799"/>
<path d="M12.9,457.3 25.7,457.3 25.7,461.0 13.7,461.0Z" fill="#e58268"/>
<path d="M77.2,458.1 90.0,454.9 109.3,454.9 109.3,464.5 90.0,465.3 78.8,463.7Z" fill="#f7b799"/>
<path d="M90.0,458.9 102.9,457.7 102.9,462.1 90.8,462.6Z" fill="#e58268"/>
<path d="M57.9,453.2 67.5,450.0 75.6,452.4 72.3,458.1 59.5,458.1Z" fill="#d7e8f1"/>
<path d="M0.0,460.0 115.8,460.0 115.8,467.2 80.4,468.0 48.2,468.0 16.1,467.2 0.0,467.2Z" fill="#fce0cf"/>
<path d="M3.2,479.3 9.6,484.1 24.1,492.2 40.2,498.6 46.6,503.4 46.6,508.2 32.2,506.6 16.1,497.0 3.2,492.2Z" fill="#fce0cf"/>
<path d="M119.0,469.6 128.6,460.0 145.0,460.0 145.0,484.1 136.7,492.2 128.6,501.8 122.2,492.2Z" fill="#d7e8f1"/>
<path d="M131.8,471.3 145.0,470.5 145.0,477.7 133.4,477.7Z" fill="#a7d0e4"/>
<path d="M133.4,484.1 145.0,484.1 145.0,506.6 135.0,506.6Z" fill="#f7f7f7"/>
<path d="M135.0,506.6 145.0,505.0 145.0,537.2 136.7,537.2Z" fill="#fce0cf"/>
<path d="M136.7,511.4 145.0,511.4 145.0,522.7 138.3,522.7Z" fill="#f7b799"/>
<path d="M212.5,369.6 235.0,368.0 247.9,371.3 244.7,376.1 222.2,376.1Z" fill="#f7b799"/>
<path d="M247.9,374.5 267.2,376.1 290.0,377.7 290.0,392.2 276.8,390.5 257.5,384.1Z" fill="#f7b799"/>
<path d="M173.9,425.9 177.2,417.9 186.8,408.2 198.1,401.5 212.5,399.4 225.4,398.6 241.5,400.2 257.5,398.6 273.6,397.0 290.0,398.6 290.0,470.0 196.4,470.0 193.2,456.5 177.2,453.2 167.5,451.6 169.1,440.4Z" fill="#f7f7f7"/>
<path d="M145.0,450.0 167.5,451.6 177.2,453.2 193.2,456.5 196.4,470.0 145.0,470.0Z" fill="#fce0cf"/>
<path d="M148.2,458.1 157.9,456.5 165.9,459.7 162.7,464.5 151.4,463.7Z" fill="#f7b799"/>
<path d="M182.0,451.6 198.1,450.0 196.4,454.9 183.6,456.5Z" fill="#d7e8f1"/>
<path d="M247.9,403.4 257.5,400.2 273.6,402.6 290.0,403.4 290.0,427.5 276.8,424.3 265.6,417.9 254.3,413.1Z" fill="#d7e8f1"/>
<path d="M249.5,459.7 260.8,456.5 273.6,458.1 290.0,456.5 290.0,470.0 251.1,470.0Z" fill="#d7e8f1"/>
<path d="M220.6,437.2 228.6,435.6 230.2,442.0 222.2,442.8Z" fill="#fce0cf"/>
<path d="M231.8,458.1 241.5,456.5 247.9,462.9 235.0,466.1Z" fill="#fce0cf"/>
<path d="M145.0,460.0 290.0,460.0 290.0,492.2 273.6,497.0 257.5,503.4 244.7,508.2 235.0,514.7 225.4,513.1 209.3,508.2 193.2,501.8 173.9,497.0 149.8,497.0 145.0,497.0Z" fill="#f7f7f7"/>
<path d="M148.2,460.0 198.1,460.0 193.2,468.0 177.2,469.6 161.1,468.0 151.4,464.8Z" fill="#f7b799"/>
<path d="M151.4,460.0 159.5,460.0 159.5,463.2 152.2,463.2Z" fill="#e58268"/>
<path d="M145.0,466.4 161.1,469.6 173.9,479.3 172.3,487.3 154.6,488.9 145.0,485.7Z" fill="#d7e8f1"/>
<path d="M214.1,480.9 225.4,479.3 228.6,490.5 217.3,489.7Z" fill="#d7e8f1"/>
<path d="M249.5,464.8 260.8,463.2 262.4,480.9 251.1,480.9Z" fill="#d7e8f1"/>
<path d="M264.0,460.0 290.0,460.0 290.0,485.7 273.6,485.7 267.2,479.3Z" fill="#d7e8f1"/>
<path d="M235.0,463.2 244.7,463.2 244.7,476.1 236.6,476.1Z" fill="#fce0cf"/>
<path d="M290.0,376.1 322.2,376.1 359.1,380.9 357.5,388.9 338.2,395.4 322.2,398.6 306.1,395.4 290.0,393.8Z" fill="#f7b799"/>
<path d="M320.5,379.3 331.8,379.3 331.8,388.9 320.5,388.9Z" fill="#fce0cf"/>
<path d="M290.0,398.6 314.1,400.2 338.2,401.8 354.3,405.0 359.1,421.1 354.3,435.6 338.2,440.4 322.2,443.6 306.1,437.2 290.0,437.2Z" fill="#f7f7f7"/>
<path d="M290.0,405.0 306.1,405.8 322.2,408.2 320.5,414.7 306.1,414.7 290.0,413.1Z" fill="#d7e8f1"/>
<path d="M310.9,429.1 330.2,427.5 354.3,429.1 357.5,440.4 338.2,443.6 314.1,443.6Z" fill="#d7e8f1"/>
<path d="M294.8,416.3 310.9,416.3 310.9,424.3 294.8,424.3Z" fill="#fce0cf"/>
<path d="M294.8,429.1 304.5,429.1 304.5,435.6 294.8,435.6Z" fill="#fce0cf"/>
<path d="M392.9,406.6 405.8,406.6 405.8,411.4 392.9,411.4Z" fill="#f7f7f7"/>
<path d="M359.1,424.3 380.0,422.7 402.5,427.5 428.3,430.7 428.3,470.0 359.1,470.0Z" fill="#f7f7f7"/>
<path d="M359.1,427.5 378.4,429.1 402.5,435.6 423.4,437.2 428.3,443.6 418.6,450.0 402.5,456.5 386.5,459.7 370.4,456.5 362.3,443.6Z" fill="#d7e8f1"/>
<path d="M372.0,456.5 380.0,456.5 380.0,462.9 372.0,462.9Z" fill="#a7d0e4"/>
<path d="M394.5,454.9 412.2,453.2 428.3,454.9 428.3,462.9 402.5,464.5Z" fill="#fce0cf"/>
<path d="M290.0,443.6 318.9,443.6 318.9,470.0 290.0,470.0Z" fill="#f7f7f7"/>
<path d="M290.0,453.2 306.1,453.2 306.1,462.9 290.0,462.9Z" fill="#d7e8f1"/>
<path d="M344.7,450.0 364.0,450.0 364.0,470.0 344.7,470.0Z" fill="#fce0cf"/>
<path d="M290.0,460.0 435.0,460.0 435.0,517.9 410.6,517.9 402.5,522.7 386.5,524.3 370.4,522.7 354.3,521.1 346.3,519.5 338.2,517.1 322.2,519.5 306.1,520.3 290.0,515.5Z" fill="#f7f7f7"/>
<path d="M290.0,464.8 314.1,463.2 330.2,466.4 343.1,472.9 343.1,482.5 330.2,488.9 314.1,488.1 298.0,484.1 290.0,482.5Z" fill="#fce0cf"/>
<path d="M302.9,475.3 314.1,475.3 314.1,480.9 302.9,480.9Z" fill="#f7b799"/>
<path d="M364.0,460.0 428.3,460.0 428.3,469.6 402.5,472.9 389.7,477.7 402.5,488.9 415.4,498.6 402.5,498.6 386.5,490.5 375.2,492.2 365.6,484.1Z" fill="#d7e8f1"/>
<path d="M372.0,460.0 380.0,460.0 380.0,463.2 372.0,463.2Z" fill="#a7d0e4"/>
<path d="M402.5,476.1 428.3,474.5 428.3,487.3 412.2,485.7Z" fill="#fce0cf"/>
<path d="M100.0,390.0 210.0,390.0 210.0,397.0 208.0,398.0 200.0,410.0 188.0,422.0 180.0,438.0 176.0,450.0 173.2,451.0 165.9,454.6 142.7,454.6 136.6,448.5 100.0,448.5Z" fill="#fce0cf"/>
<path d="M100.0,414.4 112.2,413.2 128.0,410.7 134.1,412.0 147.6,414.4 143.9,426.6 140.2,438.8 135.4,451.0 129.3,453.4 118.3,453.4 112.2,448.5 104.9,438.8 100.0,432.7Z" fill="#f7f7f7"/>
<path d="M208.0,398.0 210.0,397.0 210.0,458.3 197.6,455.9 179.3,453.4 173.2,451.0 176.0,450.0 180.0,438.0 188.0,422.0 200.0,410.0Z" fill="#f7f7f7"/>
<path d="M180.5,454.6 190.2,451.6 201.2,449.8 202.4,453.4 192.7,456.5 182.9,457.7Z" fill="#d7e8f1"/>
<path d="M155.0,556.0 170.0,552.0 195.0,549.0 200.0,546.0 206.0,549.0 230.0,551.0 260.0,554.0 278.0,558.0 280.0,566.0 155.0,566.0Z" fill="#f7f7f7"/>
<path d="M316.2,449.4 327.5,446.0 343.3,453.9 356.9,456.2 356.9,467.5 350.1,478.8 343.3,483.3 332.0,478.8 323.0,472.0 317.3,463.0Z" fill="#fce0cf"/>
<path d="M319.6,451.7 327.5,449.4 333.2,453.9 343.3,457.3 352.4,458.5 352.4,463.0 345.6,467.5 341.1,473.2 336.6,469.8 329.8,467.5 323.0,465.2 319.6,458.5Z" fill="#f7b799"/>
<path d="M325.2,455.1 330.9,453.9 336.6,457.3 338.8,461.9 334.3,465.2 327.5,464.1Z" fill="#e58268"/>
<path d="M327.5,458.5 330.9,457.9 332.0,461.9 328.6,463.6Z" fill="#ca4842"/>
<path d="M60.0,452.0 90.0,449.0 115.0,450.0 120.0,458.0 115.0,468.0 80.0,470.0 60.0,466.0Z" fill="#fce0cf"/>
<path d="M4.0,455.0 20.0,453.5 40.0,455.0 50.0,458.0 45.0,462.0 25.0,463.0 5.0,462.0Z" fill="#f7b799"/>
<path d="M14.0,456.0 24.0,455.5 28.0,458.0 22.0,460.0 14.0,459.5Z" fill="#e58268"/>
<path d="M72.0,458.0 85.0,453.0 100.0,452.0 112.0,454.0 115.0,460.0 105.0,465.0 85.0,466.0 73.0,463.0Z" fill="#f7b799"/>
<path d="M90.0,459.0 96.0,458.5 96.0,461.0 90.0,461.5Z" fill="#e58268"/>
<path d="M100.0,456.0 106.0,456.0 106.0,458.0 100.0,458.0Z" fill="#e58268"/>
<path d="M58.0,451.0 66.0,450.0 70.0,454.0 62.0,455.0Z" fill="#d7e8f1"/>
<path d="M101.5,580.2 91.6,577.1 99.9,577.7 107.6,578.0 114.6,578.1 116.5,577.8 113.8,576.9 109.5,575.8 104.2,574.5 99.0,573.4 93.7,572.3 90.5,571.5 92.8,570.9 96.3,570.8 98.2,570.3 100.4,569.8 99.1,569.1 99.8,568.9 102.5,568.7 105.7,568.5 109.5,568.1 112.9,568.0 117.7,568.1 121.2,567.9 122.5,567.3 125.9,568.0 129.0,568.5 132.4,568.5 132.9,567.6 132.7,566.9 135.1,566.5 137.6,567.1 140.5,567.0 143.9,567.0 147.6,567.2 148.9,566.6 151.3,566.9 152.6,566.5 155.3,567.2 157.4,566.7 158.2,565.2 158.2,564.8 157.4,563.2 157.0,561.6 156.7,560.7 156.8,558.6 157.9,557.3 159.0,556.5 161.3,555.6 162.9,555.4 162.9,556.2 162.0,556.5 161.4,557.8 160.2,559.1 160.4,561.1 161.3,562.1 162.9,563.6 163.6,564.6 164.4,565.7 165.2,566.6 165.6,567.7 164.5,568.2 164.1,568.9 163.8,569.4 160.5,569.9 156.7,570.6 155.4,570.7 155.2,571.1 160.0,573.0 166.0,574.6 171.0,575.3 174.0,575.5 179.3,575.0 183.9,574.2 188.7,573.6 193.8,573.4 195.4,571.5 198.0,569.7 200.8,568.1 203.1,567.3 202.4,566.7 205.1,566.0 206.5,565.0 209.1,564.7 210.4,564.3 213.6,564.5 216.3,564.1 218.8,563.7 221.7,563.0 223.4,563.2 225.9,563.5 228.8,563.3 231.4,563.5 233.5,563.6 236.2,563.3 238.8,563.2 241.2,562.4 243.4,562.6 244.7,561.5 246.8,562.6 248.3,563.0 251.0,561.4 254.0,560.4 256.2,560.5 258.3,560.0 261.0,559.2 264.2,558.4 266.2,559.1 266.4,560.5 268.5,560.5 271.1,560.5 273.4,561.2 275.5,562.0 274.0,564.1 275.2,565.1 276.0,564.9 277.5,563.6 279.0,563.0 280.1,562.8 282.9,562.0 284.2,561.3 287.1,560.3 290.1,559.8 293.7,558.9 295.7,559.3 297.3,559.6 299.7,559.2 302.2,559.2 303.4,559.8 307.5,558.2 309.2,559.7 311.4,559.5 314.8,558.6 316.9,558.5 317.7,559.5 319.5,559.7 321.9,560.0 324.7,559.2 326.3,559.5 328.5,559.5 331.6,559.1 334.9,558.8 336.3,558.3 337.7,559.0 339.9,559.6 341.4,560.0 343.8,559.8 343.5,560.8 344.8,561.6 347.2,562.0 349.7,561.9 351.0,562.6 351.7,562.9 352.2,563.5 354.0,564.0 355.7,564.1 357.3,564.3 358.4,564.8 355.4,566.4 351.8,567.4 347.6,568.5 343.8,569.9 341.4,571.2 337.9,572.2 335.1,573.2 332.8,574.1 331.9,575.0 332.1,575.8 332.7,576.4 334.3,576.8 336.5,577.1 339.0,577.1 329.1,580.2Z" fill="#f7f7f7"/>
<path d="M64.5,385.3 64.7,386.5 65.6,386.8 68.6,386.8 68.2,387.6 66.3,387.8 63.5,388.4 61.5,389.3 60.0,391.1 61.0,392.2 60.3,393.3 63.3,393.7 64.8,393.4 63.1,394.6 59.1,396.4 55.8,397.3 51.6,398.8 54.2,398.3 57.9,397.6 61.6,395.9 65.9,394.7 68.1,393.7 68.1,392.9 71.8,391.3 74.3,390.6 71.7,392.0 70.2,393.1 72.5,392.6 76.2,391.3 77.8,391.1 78.7,392.1 80.9,392.2 82.2,392.6 83.8,393.4 83.7,394.6 83.6,396.4 83.6,398.1 84.9,398.8 85.3,399.2 85.0,400.5 85.2,401.9 84.7,403.3 85.4,404.4 86.3,405.3 87.4,406.2 86.8,407.6 86.0,407.0 85.2,407.1 84.6,409.0 83.3,411.3 81.1,414.2 80.0,416.6 79.3,417.6 79.1,419.4 79.6,420.9 79.7,422.5 80.0,425.2 82.1,426.0 82.9,427.4 82.9,428.0 83.0,429.3 83.4,431.0 84.5,432.7 84.4,434.0 83.2,434.4 84.2,435.8 85.6,438.3 87.6,441.0 87.6,439.2 86.9,436.9 86.5,434.2 86.1,432.1 85.0,429.3 85.7,429.5 87.0,430.2 87.5,432.5 88.1,434.2 89.2,436.9 90.5,438.1 91.8,440.4 92.5,443.4 92.2,444.3 93.2,446.1 94.2,447.1 96.2,448.1 98.1,449.2 100.2,450.1 102.3,450.6 104.1,450.0 105.8,450.8 106.8,452.2 108.1,453.1 109.8,453.6 111.8,453.9 112.4,454.4 113.4,455.6 114.1,456.8 114.0,458.3 114.8,458.8 115.5,459.0 116.3,460.3 117.1,460.9 118.5,460.9 119.9,461.9 120.5,461.7 120.3,460.6 121.2,459.8 122.5,460.5 122.9,461.7 123.6,462.7 123.6,466.4 123.2,468.3 121.7,469.6 120.4,470.5 120.1,472.3 119.2,473.9 119.7,475.1 120.4,475.5 120.0,476.3 118.9,477.4 118.9,478.5 119.4,479.8 120.7,481.4 122.2,483.9 124.2,487.9 125.4,490.3 126.9,492.5 130.3,494.5 132.9,496.4 133.7,500.5 133.6,503.5 133.9,508.9 133.8,512.1 134.4,516.1 134.3,519.5 134.1,521.8 134.3,524.2 134.9,526.9 136.4,528.9 136.6,530.8 135.8,531.4 135.6,534.3 137.5,536.8 137.7,539.3 139.4,541.7 143.3,544.0 145.9,545.2 148.8,546.1 149.8,545.2 150.7,544.8 148.3,543.9 145.9,542.1 145.6,541.6 144.7,540.9 144.8,540.0 145.3,538.7 145.0,537.2 146.4,535.9 145.8,534.1 144.0,533.8 144.4,532.2 145.8,531.6 145.2,529.3 146.6,529.0 145.1,528.5 144.4,526.9 146.7,527.0 146.9,524.5 146.7,523.9 149.3,524.1 151.7,523.1 152.2,521.8 152.2,520.7 151.2,519.2 149.8,518.3 149.5,517.3 150.4,518.0 152.3,518.7 153.8,518.7 154.9,518.0 155.2,517.1 156.3,514.9 157.6,512.8 158.6,510.8 159.6,509.7 159.3,507.5 159.5,506.2 161.7,504.0 163.6,503.1 165.3,502.5 166.7,502.5 167.7,500.8 168.3,499.1 168.9,497.3 169.4,495.4 169.6,492.9 169.4,490.3 169.9,489.2 171.6,486.5 173.1,484.7 174.0,482.5 173.9,481.3 173.6,479.1 171.8,478.5 169.6,476.7 167.8,475.7 166.0,475.7 163.8,475.0 162.6,474.7 160.7,473.2 158.5,472.6 157.6,473.4 155.9,472.8 155.4,471.5 155.1,469.3 154.6,467.0 153.8,465.8 152.6,464.5 150.1,463.7 147.6,463.7 146.4,462.6 145.3,461.0 143.6,460.2 142.7,458.4 141.2,457.8 142.1,457.4 140.4,457.4 139.0,458.0 137.4,458.2 135.8,457.5 134.7,457.5 133.8,456.3 132.4,456.4 132.5,455.3 131.1,455.9 130.4,456.4 130.7,457.2 130.6,459.6 130.0,458.4 131.0,457.8 130.8,456.1 130.1,455.7 130.6,455.1 128.6,456.7 127.7,456.6 126.1,457.5 125.7,459.1 124.4,460.2 123.8,460.0 122.8,459.4 121.1,458.8 119.6,459.8 118.6,459.6 118.0,459.4 116.7,457.8 116.4,456.8 116.9,454.9 116.9,453.5 117.6,451.6 116.4,450.5 114.5,450.4 112.5,450.5 111.6,450.6 111.8,448.2 112.6,447.1 113.2,445.5 114.2,443.1 113.7,442.7 112.1,442.8 110.1,443.5 109.7,445.0 108.5,446.3 106.7,446.9 104.8,447.3 103.2,446.5 102.8,445.8 102.2,444.0 101.7,442.3 102.2,439.1 102.9,437.1 103.5,434.8 104.6,433.7 106.7,432.5 108.2,431.8 110.2,431.9 111.7,432.6 113.0,432.7 113.2,431.1 115.1,430.9 117.1,430.9 117.9,431.8 119.4,431.3 120.4,432.5 120.4,434.1 120.4,435.4 121.1,436.9 121.8,437.9 122.4,437.9 123.0,436.4 122.9,433.7 122.6,431.5 122.7,429.9 123.7,428.7 126.0,427.1 127.5,426.2 129.5,425.1 130.9,424.3 130.9,422.1 131.6,420.8 132.4,419.9 133.0,419.0 134.5,417.3 135.7,416.9 137.1,416.2 138.6,416.0 139.4,415.6 138.9,414.2 140.0,413.1 141.8,412.1 143.9,411.6 145.1,411.1 146.9,410.9 144.9,412.0 144.3,413.2 146.2,412.4 148.1,411.9 150.2,411.1 151.5,409.9 151.7,408.8 150.1,410.0 148.7,410.3 147.2,409.7 147.3,408.2 147.1,407.2 148.4,406.6 148.7,406.1 147.8,405.8 146.3,405.9 144.3,406.7 142.2,407.8 144.2,405.9 145.8,405.4 146.9,404.5 148.8,404.4 151.6,404.6 153.5,404.5 156.9,402.8 158.6,402.2 159.0,400.6 158.3,398.8 156.3,398.1 154.8,396.7 155.2,395.1 154.3,393.6 154.4,391.7 153.1,392.8 151.5,393.9 150.1,394.2 149.6,393.4 148.7,393.2 149.3,391.8 148.6,390.7 147.4,389.9 145.8,389.4 143.6,389.0 142.8,389.3 142.4,391.1 141.3,392.7 140.4,395.8 139.1,397.3 136.8,398.5 135.1,402.2 133.7,403.2 133.1,401.9 132.3,401.0 133.2,399.2 131.2,398.0 129.3,397.2 128.1,395.8 125.8,395.4 124.5,393.4 125.6,392.0 128.4,389.9 131.8,388.4 134.9,387.0 136.9,385.8 138.7,384.3 139.9,384.5 142.3,383.8 144.1,382.5 145.2,381.2 144.4,380.3 141.1,380.7 138.9,381.4 138.6,380.3 137.4,379.3 139.0,378.1 136.8,378.1 135.3,378.6 133.0,380.3 131.4,382.1 129.5,382.2 126.3,381.6 123.4,381.6 120.6,382.3 119.9,383.2 118.1,382.8 116.6,382.5 115.6,381.5 115.0,380.4 111.7,380.9 109.8,380.7 109.4,380.0 106.6,379.7 105.6,380.6 103.2,380.7 100.6,380.9 99.1,380.8 96.4,381.5 94.5,380.6 93.0,380.0 90.9,380.2 88.4,379.7 86.5,379.4 84.0,378.8 82.0,379.3 80.0,379.5 76.6,380.3 72.9,381.5 70.4,382.1 71.2,382.8 70.9,383.6 71.5,384.3 70.1,384.2 68.3,384.3 64.5,385.3ZM192.5,366.9 197.0,367.6 200.4,368.0 206.3,368.5 201.2,369.6 201.5,370.8 200.1,372.8 200.6,374.5 197.8,377.4 195.0,378.1 196.6,379.7 192.4,381.7 187.6,382.4 185.0,384.0 181.7,385.3 178.4,386.6 177.5,387.8 175.4,389.9 174.2,392.0 172.8,392.1 171.0,391.1 169.9,390.9 169.1,389.1 168.1,387.7 168.4,385.8 167.4,384.7 168.1,383.5 169.0,382.1 171.2,381.3 171.8,380.3 169.0,379.6 170.0,378.6 168.6,378.4 169.8,377.4 169.3,376.1 168.8,374.3 167.1,373.7 164.2,373.8 161.4,373.7 159.9,372.8 163.8,372.4 161.3,371.6 159.8,371.4 164.0,370.4 167.3,369.6 170.3,368.5 174.0,368.1 178.7,368.1 182.0,368.2 184.9,367.2 188.4,367.0 192.5,366.9ZM160.6,383.8 157.6,386.0 156.2,386.6 155.9,387.9 154.8,388.8 151.5,389.3 149.8,388.5 148.9,387.0 147.2,386.8 144.4,386.5 146.0,385.6 149.1,385.1 151.0,383.3 148.8,381.5 148.0,380.0 145.0,380.2 141.7,379.8 139.7,379.4 141.6,377.7 145.3,376.5 149.6,376.2 151.6,377.2 153.8,377.8 155.8,378.7 157.4,380.2 157.7,381.2 159.4,382.8 160.6,383.8ZM154.5,373.3 151.6,373.4 145.5,373.5 147.2,372.3 146.4,371.3 144.7,370.8 148.1,369.3 152.6,368.9 157.3,367.7 164.7,367.3 171.1,367.6 169.3,368.5 165.6,369.1 162.6,370.1 158.9,370.6 157.6,371.6 154.5,373.3ZM148.1,370.8 144.4,371.4 143.2,370.8 144.4,369.6 147.9,368.9 149.8,369.4 148.1,370.8ZM150.9,375.3 143.2,375.4 141.9,374.3 145.3,373.3 152.0,373.3 150.9,375.3ZM140.7,377.2 135.7,378.1 134.6,377.3 136.7,376.2 140.3,375.9 140.7,377.2ZM127.8,381.2 123.8,381.2 118.0,381.5 115.1,380.4 115.0,379.3 118.0,377.5 121.8,377.1 124.7,377.1 128.4,376.8 129.1,377.2 129.3,379.2 127.8,381.2ZM114.3,378.6 110.6,378.2 114.8,375.7 119.2,375.6 121.0,376.5 117.0,377.7 114.3,378.6ZM131.7,374.2 127.8,374.4 122.7,374.1 125.0,373.0 130.0,372.5 133.5,372.5 131.7,374.2ZM137.1,374.3 133.1,374.3 135.3,373.2 138.8,373.2 137.1,374.3ZM130.2,378.6 132.4,378.9 134.9,378.1 136.0,376.5 134.0,376.4 131.1,377.4 130.2,378.6ZM129.0,381.9 131.0,382.0 133.0,381.2 132.8,380.4 130.9,380.6 129.0,381.9ZM135.7,378.1 137.7,378.2 140.5,377.4 141.5,375.9 138.7,375.8 135.7,378.1ZM137.5,375.0 140.1,375.3 142.2,374.4 141.1,373.9 138.4,374.2 137.5,375.0ZM119.2,373.5 121.4,374.2 124.9,373.4 124.4,372.4 119.2,373.5ZM135.6,371.8 138.4,372.0 140.7,371.0 139.1,370.5 135.6,371.8ZM141.3,371.8 143.6,371.8 145.1,370.8 143.1,370.6 141.3,371.8ZM148.5,377.2 151.6,377.4 152.9,376.3 149.8,376.1 148.5,377.2ZM137.8,389.4 140.1,388.7 139.4,388.2 137.8,388.7 137.8,389.4ZM145.5,375.9 148.6,376.1 150.4,375.5 147.3,375.3 145.5,375.9ZM127.3,374.5 130.3,375.0 132.3,374.3 130.3,373.7 127.3,374.5ZM142.1,387.3 139.4,387.2 136.6,387.5 137.6,385.6 139.7,385.0 141.3,386.5 142.1,387.3ZM153.1,407.8 156.1,407.9 158.8,409.1 160.1,407.9 160.0,406.3 159.5,405.3 157.8,405.4 158.8,402.7 157.3,403.1 155.5,404.8 153.1,407.8ZM83.7,403.7 86.0,404.8 86.7,406.7 85.4,406.6 84.2,404.8 83.7,403.7ZM116.6,442.3 118.0,441.1 120.2,440.5 121.9,440.7 124.2,441.6 125.6,442.7 127.3,443.4 128.8,444.4 127.1,445.0 124.6,445.0 125.0,443.9 123.9,443.4 122.8,442.7 120.9,442.3 119.4,442.0 118.2,442.2 116.6,442.3ZM128.3,447.0 130.6,445.0 132.7,445.0 134.2,445.8 135.4,446.7 133.4,447.3 131.3,447.8 129.3,447.3 128.3,447.0ZM123.7,447.0 125.2,446.9 126.1,447.5 124.5,447.8 123.7,447.0ZM136.7,446.9 138.5,447.1 137.4,447.7 136.6,447.5 136.7,446.9ZM33.5,444.6 34.3,445.3 33.4,446.3 33.1,445.5 33.5,444.6ZM32.9,443.5 33.5,443.8 33.0,444.0 32.9,443.5ZM31.1,442.7 31.7,443.1 31.2,443.1 31.1,442.7ZM29.6,441.9 30.1,441.9 29.8,442.3 29.6,441.9ZM153.0,541.1 154.5,540.4 156.4,540.8 155.9,541.6 153.9,541.6 153.0,541.1ZM209.4,404.6 211.6,404.4 213.8,403.9 215.9,403.7 216.7,403.1 216.2,402.4 217.0,401.3 215.6,400.9 215.4,400.1 214.8,399.0 213.7,397.6 212.7,397.1 213.3,395.7 213.6,395.1 211.8,394.9 212.3,393.8 210.5,393.8 209.9,395.1 209.6,396.4 210.3,397.4 210.5,398.6 211.9,398.5 212.3,399.7 212.2,400.5 210.7,400.5 211.1,401.1 211.0,401.9 210.0,402.4 211.9,403.0 211.0,403.3 209.4,404.6ZM209.2,402.0 209.1,400.4 209.6,398.8 209.1,398.1 208.1,398.0 207.1,398.2 206.6,399.2 205.3,399.4 205.5,400.4 205.9,401.4 204.8,402.2 205.3,402.8 207.0,402.4 209.2,402.0ZM195.2,387.2 193.8,385.4 195.3,384.4 199.3,384.6 202.4,384.5 203.0,385.9 201.7,386.9 198.1,387.9 195.7,387.5 195.2,387.2ZM223.6,371.2 226.1,370.1 227.5,369.9 230.0,369.7 231.0,370.5 233.6,371.8 231.8,372.3 230.0,372.5 228.2,373.2 226.2,372.8 224.8,371.8 223.6,371.2ZM228.9,369.6 232.1,369.3 235.6,369.8 233.2,370.4 230.2,370.2 228.9,369.6ZM258.5,378.6 260.1,379.4 264.0,379.5 261.2,377.5 261.9,375.9 264.1,374.3 266.5,373.8 268.5,372.9 266.5,372.8 262.3,373.5 260.2,375.0 259.4,376.4 258.5,378.6ZM252.2,369.9 258.1,369.9 260.5,369.2 255.7,368.7 251.7,369.2 252.2,369.9ZM286.6,370.5 290.2,371.3 294.6,371.2 292.4,370.1 288.5,369.4 285.4,369.3 286.6,370.5ZM323.7,374.3 327.8,375.2 329.7,374.8 331.0,374.4 327.2,373.6 324.2,373.7 323.7,374.3ZM333.1,376.0 335.8,375.2 333.1,374.5 333.1,376.0ZM64.4,378.6 66.0,378.9 63.7,379.3 64.4,378.6ZM365.6,378.9 366.2,378.6 367.3,379.3 365.6,378.9ZM365.6,410.0 366.6,409.2 363.5,406.1 365.1,405.9 360.2,401.5 358.3,399.4 357.5,399.2 358.8,401.5 362.4,405.4 364.7,409.0 365.6,410.0ZM365.7,410.8 368.7,412.4 371.7,413.6 370.5,415.3 368.4,415.6 366.9,415.0 366.3,413.6 365.7,410.8ZM368.4,416.0 370.4,417.6 371.4,419.3 371.3,420.9 372.1,423.3 372.6,423.7 371.9,424.7 371.2,425.2 369.0,425.2 368.3,426.7 366.8,425.2 364.7,425.6 362.6,426.0 362.8,425.2 363.9,424.0 366.7,423.9 367.0,421.6 367.9,422.3 368.7,420.9 368.6,418.2 367.9,416.9 368.4,416.0ZM362.4,426.2 363.9,426.8 364.5,429.5 363.8,430.1 362.5,428.0 361.4,427.0 362.4,426.2ZM364.7,427.0 365.2,425.6 366.7,425.9 366.7,427.1 365.5,427.6 364.7,427.0ZM355.6,437.7 356.3,438.7 355.8,442.3 354.7,440.7 355.2,438.1 355.6,437.7ZM342.2,445.9 344.0,444.7 344.9,445.4 343.5,447.3 342.2,445.9ZM356.4,446.9 358.4,447.0 358.0,450.4 358.8,452.7 361.6,454.4 360.5,453.2 358.0,453.5 357.2,452.2 356.2,450.0 356.4,446.9ZM359.9,462.3 361.6,461.4 362.6,463.4 364.0,464.2 365.3,461.9 364.7,459.4 363.6,458.6 362.1,460.7 360.7,460.9 359.9,462.3ZM361.9,454.9 363.5,455.6 363.8,458.0 362.9,458.3 362.1,456.4 361.9,454.9ZM359.3,455.9 360.6,456.7 360.1,457.6 359.4,457.6 359.3,455.9ZM360.1,457.5 361.2,457.1 361.1,459.5 360.1,458.4 360.1,457.5ZM357.1,453.6 358.5,454.0 358.1,455.2 357.1,453.6ZM354.1,460.5 356.5,457.6 356.6,456.6 355.4,458.3 354.1,460.5ZM328.3,464.2 331.0,464.8 334.4,468.4 338.5,473.1 341.1,475.8 340.9,479.6 339.3,479.7 336.7,477.1 335.2,474.7 333.1,471.5 332.4,469.3 330.7,467.3 328.3,464.2ZM340.0,480.9 341.6,479.8 343.7,480.2 346.3,481.0 348.9,481.0 350.9,482.1 350.7,483.5 347.9,482.9 344.1,482.1 341.4,481.7 340.0,480.9ZM351.5,482.6 352.3,483.0 351.7,483.6 351.5,482.6ZM352.6,483.0 353.5,482.9 353.1,483.7 352.6,483.0ZM353.6,483.2 356.2,482.8 355.9,483.6 353.5,483.9 353.6,483.2ZM357.1,483.3 360.7,482.6 360.4,483.5 357.3,483.7 357.1,483.3ZM356.2,484.5 358.2,485.1 357.5,485.6 356.2,484.5ZM361.4,485.6 363.4,483.9 365.7,483.0 364.4,484.1 361.9,485.5 361.4,485.6ZM344.8,469.7 345.5,469.1 347.6,468.4 349.4,467.4 350.7,465.6 352.3,464.8 353.6,462.5 354.9,463.7 356.7,464.6 355.3,466.0 355.2,469.1 356.4,470.4 354.9,471.8 353.6,475.1 353.0,476.7 351.2,476.5 349.4,476.1 347.9,475.8 346.1,475.7 345.9,473.8 344.8,471.8 344.8,469.7ZM356.9,479.1 358.1,479.3 358.5,475.2 359.6,477.4 361.0,478.2 360.1,475.8 359.4,474.3 361.8,473.0 359.9,473.0 358.9,470.0 361.3,470.5 364.0,469.7 363.2,471.2 358.1,471.3 357.6,472.4 356.5,475.4 356.9,479.1ZM367.2,468.8 368.2,469.7 367.6,471.2 368.4,472.8 366.9,472.2 366.6,470.4 367.2,468.8ZM367.3,475.8 369.6,475.7 370.7,476.6 368.7,476.6 367.3,475.8ZM364.9,476.1 366.3,476.2 365.8,476.9 364.9,476.6 364.9,476.1ZM370.9,473.6 372.7,472.3 374.6,473.0 375.6,476.3 378.6,473.8 382.7,475.2 386.8,476.9 388.2,479.1 390.2,480.0 389.7,481.8 391.3,483.9 392.6,485.6 389.7,485.3 388.2,482.6 384.9,483.9 383.9,484.3 382.2,484.0 379.9,482.6 379.4,481.4 378.8,478.7 376.1,477.7 373.7,477.1 372.0,475.5 373.8,474.8 371.2,473.8 370.9,473.6ZM391.2,479.3 393.2,479.1 395.0,478.3 395.9,477.4 395.1,479.3 393.4,480.1 391.2,479.3ZM394.4,475.2 396.3,476.6 397.0,477.9 396.4,477.4 394.4,475.2ZM398.7,478.5 400.1,480.5 399.2,480.9 398.7,478.5ZM400.8,480.6 402.8,482.0 401.7,482.4 400.8,480.6ZM404.3,482.9 406.1,484.7 405.0,484.8 404.3,482.9ZM405.7,483.0 406.4,483.9 405.8,483.9 405.7,483.0ZM411.3,491.4 411.7,492.9 411.1,493.0 411.3,491.4ZM411.8,493.5 412.2,493.9 411.6,493.9 411.8,493.5ZM406.6,498.9 407.9,500.3 409.4,501.7 407.8,501.1 406.7,499.5 406.6,498.9ZM423.2,495.3 424.5,495.4 424.0,496.2 422.8,496.1 423.2,495.3ZM425.2,493.7 426.5,493.8 425.5,494.3 425.2,493.7ZM309.8,458.6 312.2,461.7 311.6,463.4 310.3,463.7 309.8,461.0 309.8,458.6ZM273.5,487.9 274.7,492.2 273.3,495.3 271.8,499.3 270.3,504.0 267.5,506.0 266.0,503.4 265.7,500.7 267.1,498.4 266.9,495.0 269.7,493.0 271.8,490.6 273.5,487.9ZM373.2,526.5 376.9,526.7 375.8,528.5 373.1,530.3 372.5,528.9 373.2,526.5ZM409.2,518.0 409.9,520.2 410.1,521.8 412.9,522.4 410.8,524.5 409.0,525.5 405.6,527.7 405.2,527.3 406.9,525.3 406.2,524.6 408.9,521.9 408.8,519.2 409.2,518.0ZM403.9,526.2 404.8,527.3 402.0,529.5 400.5,530.6 398.1,531.5 395.9,533.4 393.5,534.3 391.5,533.5 393.3,531.9 395.5,530.8 399.0,529.5 401.5,527.8 403.9,526.2ZM286.5,537.7 288.4,537.6 287.9,538.3 286.6,538.3 286.5,537.7ZM251.5,424.5 253.9,423.7 253.3,424.7 251.9,425.1 251.5,424.5ZM241.6,424.3 244.7,424.3 243.0,424.7 241.6,424.3ZM229.0,420.7 232.5,420.3 232.1,422.4 229.0,421.2 229.0,420.7ZM224.5,419.3 225.9,419.0 226.0,416.8 224.2,416.6 224.5,419.3ZM224.7,415.8 225.5,416.1 225.4,414.0 224.7,414.5 224.7,415.8ZM245.8,415.8 247.1,416.4 249.2,416.5 250.3,415.7 251.6,415.3 253.4,415.3 255.4,416.2 257.0,416.8 258.3,416.5 259.3,416.6 260.5,416.0 260.3,414.5 259.3,413.4 258.7,413.8 258.2,413.4 256.7,412.3 255.3,411.7 254.3,411.1 255.0,410.8 255.7,409.7 255.0,409.2 256.4,408.7 256.3,408.3 255.5,408.6 254.6,408.7 254.1,409.1 253.0,409.2 252.2,409.6 252.4,410.4 253.0,410.7 254.0,410.7 253.9,411.2 252.8,411.5 251.5,412.1 250.8,411.9 251.0,411.3 249.9,410.9 249.9,410.7 250.9,410.1 250.5,409.9 248.8,409.6 248.7,409.1 247.7,409.2 247.5,410.0 246.8,410.9 246.8,411.3 246.3,411.6 246.0,411.5 246.0,413.1 245.4,413.6 245.2,414.5 245.6,415.3 245.8,415.8ZM269.2,412.3 270.5,413.8 271.9,414.2 272.3,414.8 272.6,415.2 272.2,415.6 272.8,416.5 272.9,416.8 274.1,417.2 273.0,418.0 273.7,418.9 274.1,419.3 274.0,420.7 275.1,421.7 274.9,422.0 272.4,422.3 270.9,421.5 269.8,421.2 269.3,420.3 269.2,419.6 269.4,419.3 269.5,418.8 269.5,417.7 270.4,417.6 270.0,417.3 269.4,417.2 268.0,415.6 266.5,414.0 266.4,413.1 265.1,411.9 265.8,410.5 266.6,409.5 267.1,409.5 268.0,409.2 269.1,408.7 270.1,409.0 271.1,408.8 271.5,409.7 271.6,410.9 270.1,412.0 269.2,412.3ZM383.7,486.1 384.3,490.3 385.5,490.8 386.2,491.9 386.1,493.7 386.2,497.2 388.8,499.2 389.3,501.7 390.5,502.1 390.9,504.2 392.1,505.8 391.5,509.5 389.7,512.6 387.5,515.6 385.4,517.3 383.1,519.8 381.6,522.0 379.4,522.6 376.3,524.2 375.3,523.4 373.5,523.9 370.7,522.8 370.0,522.0 370.8,521.0 370.5,519.6 369.7,519.6 370.8,518.0 370.7,516.1 370.2,517.6 368.6,519.1 368.9,517.9 369.8,516.9 367.6,518.7 367.0,518.1 367.1,515.6 365.2,514.8 364.3,514.1 362.2,514.2 359.1,515.2 356.7,515.7 355.2,516.8 354.4,517.3 352.7,517.5 351.0,517.3 350.1,517.4 349.2,518.1 347.1,518.8 345.9,518.8 345.1,518.0 344.5,517.7 344.8,516.9 345.7,516.5 346.5,514.2 346.4,512.9 346.7,511.4 346.5,510.5 346.6,510.1 346.3,509.5 346.3,508.5 346.0,507.4 345.9,506.9 346.4,507.4 346.2,506.2 346.7,506.6 346.9,507.1 347.1,506.4 346.7,505.4 346.7,505.0 346.5,504.6 346.8,503.8 347.1,503.5 347.4,502.8 347.4,502.0 348.0,501.1 348.0,502.0 348.6,501.1 349.7,500.7 350.3,500.1 351.3,499.6 351.9,499.5 352.1,499.6 353.1,499.2 353.8,499.1 354.5,498.6 355.1,498.6 356.4,498.2 357.1,497.6 357.6,496.9 358.3,496.2 358.6,495.0 359.7,493.8 359.9,495.0 360.6,494.7 360.2,494.1 360.7,493.4 361.2,493.7 361.5,492.7 362.2,492.1 362.6,491.5 363.2,491.3 363.3,490.8 363.7,491.0 363.8,490.7 365.0,490.3 365.7,491.0 366.3,491.8 367.0,491.8 367.7,491.9 367.6,491.1 368.3,490.0 368.9,489.8 368.8,489.4 369.4,488.6 370.1,488.2 370.7,488.3 371.8,488.0 371.9,487.4 371.0,486.9 371.7,486.7 372.4,487.1 373.0,487.6 373.9,487.9 374.3,487.8 375.0,488.2 375.7,487.8 376.2,487.9 376.4,487.8 376.9,488.4 376.5,489.1 375.9,489.6 375.5,489.6 375.6,490.2 375.2,490.8 374.6,491.5 374.7,491.9 375.5,492.7 376.3,493.1 377.5,494.3 377.9,494.3 378.4,494.7 378.5,495.2 379.5,495.6 380.4,495.2 380.8,494.3 381.1,493.8 381.4,493.0 382.0,491.9 381.9,491.4 382.0,490.2 382.4,489.1 382.5,488.8 382.5,488.4 383.1,486.9 383.2,486.5 383.7,486.1Z" fill="none" stroke="#000" stroke-width="1.9" stroke-linejoin="round"/>
<path d="M209.1,423.3 208.3,422.7 207.1,421.7 205.4,422.0 205.6,420.3 204.8,419.7 205.6,417.7 205.8,415.3 205.3,414.0 206.7,413.1 209.9,413.3 213.4,413.4 214.0,411.7 214.0,409.7 213.0,408.4 210.6,407.5 210.3,406.7 212.2,406.3 213.6,406.6 213.3,405.2 214.3,405.5 215.5,405.2 216.9,403.6 218.6,403.1 219.6,402.2 220.1,400.9 222.2,400.4 223.9,399.7 223.8,397.8 223.2,396.4 223.7,395.7 225.6,394.9 225.4,396.4 226.0,397.1 225.2,398.6 226.3,399.6 227.8,399.1 229.3,399.6 231.7,399.0 233.7,398.7 235.1,399.0 236.2,398.0 235.8,396.1 236.3,395.3 238.0,395.8 238.8,394.7 237.8,393.6 238.9,392.7 242.0,392.7 244.0,392.2 242.2,391.5 239.9,391.6 237.1,392.3 235.3,391.0 235.2,389.0 235.8,387.5 237.5,386.3 238.2,385.4 237.2,385.1 235.2,385.3 234.5,386.5 233.4,387.7 231.7,388.8 231.4,390.5 231.6,391.5 233.1,392.1 232.7,392.9 231.4,393.8 231.4,395.8 230.9,396.9 229.3,397.8 228.0,397.7 227.8,396.8 226.8,395.1 225.8,393.4 225.2,392.7 223.4,394.2 221.9,394.4 220.7,393.8 220.0,391.3 220.0,389.6 221.8,388.7 223.1,387.8 224.8,386.6 226.5,384.9 227.6,383.3 228.7,382.2 230.4,381.2 231.9,380.3 234.0,380.0 236.4,379.0 238.9,379.3 241.7,379.9 243.7,381.1 246.8,381.4 251.2,382.8 251.7,383.9 250.1,384.7 246.5,384.5 244.8,384.2 246.4,385.0 247.0,386.8 249.1,387.5 249.8,386.8 248.3,386.3 248.7,385.9 251.2,386.6 251.8,386.3 251.0,385.4 252.7,384.3 254.5,384.7 253.5,382.2 255.6,382.2 256.3,382.9 255.6,383.7 256.9,383.9 257.8,383.0 261.7,381.5 262.8,382.2 265.1,382.0 266.3,381.4 267.1,380.4 271.2,381.2 275.1,382.4 275.3,381.9 274.1,381.3 272.7,380.8 272.2,379.4 271.0,378.3 271.8,377.2 272.8,377.0 275.8,377.8 276.5,379.2 278.4,380.7 278.8,382.1 280.9,382.8 279.7,381.3 278.4,380.4 278.4,379.6 276.7,378.7 277.6,377.9 276.9,377.2 278.6,378.1 280.0,377.6 278.7,377.1 281.4,377.7 283.4,378.3 281.9,377.4 281.0,376.3 285.8,376.0 284.6,375.4 284.9,374.7 287.4,374.2 289.7,373.8 292.7,373.4 293.8,372.9 295.3,372.1 297.1,372.4 297.0,373.0 299.1,373.3 301.9,373.1 304.3,373.6 306.0,374.5 305.5,374.8 304.1,375.4 303.8,375.7 305.0,375.9 306.5,376.1 307.0,375.9 308.3,376.3 312.2,376.3 316.6,377.0 317.6,376.3 318.8,376.3 321.0,377.0 322.3,377.6 322.5,378.2 324.4,378.9 326.3,379.4 325.8,378.3 327.7,378.7 328.7,378.4 330.9,378.8 331.0,378.5 332.6,378.6 330.6,377.6 331.9,377.2 335.7,377.7 337.5,377.7 341.2,378.5 343.8,379.4 347.7,379.2 349.6,379.3 351.9,380.3 352.1,380.6 353.6,380.9 354.5,380.7 355.9,380.6 357.8,380.8 359.2,380.7 362.3,381.7 362.8,381.4 360.9,380.6 360.7,380.2 363.8,380.5 365.5,380.4 368.8,380.9 370.8,381.4M377.8,386.0 377.4,386.6 376.1,386.5 377.7,387.1 379.6,388.1 381.7,389.3 379.6,389.0 378.1,389.9 377.4,390.0 377.1,390.9 376.8,391.7 377.0,392.2 374.6,391.3 373.4,392.3 372.3,391.8 372.2,392.4 370.6,392.2 371.3,393.1 371.6,394.3 372.2,394.8 373.6,395.1 375.4,396.8 374.6,396.9 375.3,398.0 376.2,398.5 375.3,399.2 376.4,400.6 375.2,401.0 376.2,402.3 375.8,403.5 374.6,402.6 372.3,400.6 368.9,397.8 367.6,396.1 367.7,395.3 367.1,394.8 368.2,394.4 368.3,392.9 368.5,391.7 369.0,390.7 367.5,388.9 366.5,389.0 367.3,390.1 366.5,391.5 363.8,389.9 362.0,390.4 361.9,392.3 363.6,393.2 361.8,393.4 360.5,393.6 359.5,392.7 357.8,392.4 357.2,393.1 354.2,392.9 351.5,393.3 350.6,395.7 349.6,398.7 351.4,398.8 352.5,399.6 353.7,399.9 353.8,399.2 355.0,399.4 357.6,400.8 358.8,401.9 359.0,403.2 360.2,404.8 361.3,406.9 361.1,408.7 361.3,409.6 361.0,411.2 360.4,412.7 360.3,413.4 359.3,414.2 358.6,414.2 357.6,413.6 356.8,415.0 356.8,415.0 356.5,414.8 356.2,415.4 356.6,416.6 356.6,416.8 356.0,417.7 355.6,418.2 355.3,418.9 355.8,419.2 356.7,419.9 358.5,421.5 359.2,422.3 360.0,423.9 359.8,424.5 358.9,424.8 358.3,425.4 357.3,425.5 356.9,424.8 356.7,423.7 355.5,422.4 356.3,422.1 355.0,421.1 354.3,420.8 354.3,420.9 354.0,421.1 353.7,420.7 353.3,420.7 353.3,419.7 353.1,419.6 353.0,418.8 352.8,418.5 352.0,418.4 351.5,418.1 350.1,418.5 349.5,419.0 348.6,419.4 348.8,418.8 348.3,418.2 348.8,417.4 347.8,416.8 347.1,417.2 346.3,418.1 346.0,418.9 345.0,419.0 344.8,419.7 345.8,420.5 346.8,420.8 347.2,421.5 348.0,421.7 348.9,420.8 350.1,421.3 350.9,421.3 351.4,422.1 350.0,422.4 349.7,423.2 349.0,423.9 348.8,424.7 350.2,425.5 351.2,426.8 352.3,428.0 353.5,429.1 353.9,430.1 353.3,430.5 353.8,431.3 354.6,431.7 354.7,432.7 354.8,433.8 354.2,434.0 353.8,435.3 353.2,436.8 353.2,437.7 352.7,438.8 351.3,440.0 349.9,441.1 348.6,441.2 348.0,441.9 347.5,441.5 346.9,442.0 345.4,442.7 344.3,443.0 344.1,444.4 343.5,444.4 343.0,443.5 343.2,443.0 341.5,442.6 341.1,442.7 339.7,443.9 338.9,445.1 338.8,446.1 339.9,447.5 341.3,449.3 342.5,450.1 343.3,451.2 344.1,453.7 344.2,456.0 343.4,457.0 342.0,457.8 341.2,459.0 339.8,460.2 339.3,459.4 339.6,458.3 338.6,457.6 337.6,457.5 337.1,456.7 336.4,455.3 335.9,453.7 334.4,454.7 334.2,454.8 333.1,453.7 333.4,455.2 332.9,457.2 332.7,459.4 333.5,459.4 334.1,460.6 334.4,461.8 335.0,462.5 335.7,462.7 336.4,463.4 336.7,463.7 337.5,464.4 338.0,465.2 337.9,466.8 338.0,467.2 338.2,468.0 338.7,468.4 339.1,469.6 339.1,470.0 338.2,470.1 337.1,469.1 335.7,468.0 335.6,467.3 334.8,466.5 334.7,465.3 334.2,464.6 334.2,463.7 334.0,463.0 333.5,462.6 333.2,461.9 331.9,460.5 331.7,461.3 331.6,460.5 331.6,459.6 331.9,458.3 331.7,457.4 332.0,456.4 331.4,455.6 331.4,454.1 330.9,453.5 330.4,451.8 329.9,450.1 329.3,449.0 328.6,449.7 327.4,450.6 326.7,450.5 325.9,450.2 326.1,448.5 325.7,447.3 324.5,445.7 324.7,445.3 323.9,445.0 323.0,443.9 322.5,443.2 322.3,442.6 322.0,441.9 321.4,441.1 320.4,441.1 320.6,441.6 320.3,442.4 319.7,442.2 319.6,442.3 319.3,442.2 318.8,442.0 318.7,442.6 317.9,442.6 316.5,442.8 316.7,443.9 316.2,444.6 314.7,445.5 313.6,447.1 312.8,447.9 311.7,448.9 311.7,449.4 311.2,449.8 310.2,450.2 309.6,450.4 309.4,451.4 309.8,453.2 310.0,454.3 309.6,455.5 309.7,457.8 309.0,457.9 308.6,459.0 309.0,459.4 308.0,459.8 307.5,460.6 307.1,461.0 306.0,459.8 305.3,457.9 304.7,456.6 304.3,455.9 303.6,454.7 303.2,452.9 302.8,452.1 301.6,450.2 300.9,447.7 300.4,445.9 300.2,444.3 299.8,443.0 298.3,443.8 297.4,443.6 295.7,442.0 296.2,441.5 295.8,441.1 294.3,439.9 293.4,439.6 292.9,438.5 292.0,437.6 289.8,437.9 288.0,437.9 286.4,438.0 284.1,437.6 282.8,437.3 281.5,437.2 280.8,435.5 280.3,435.3 279.4,435.5 278.3,436.1 276.9,435.7 275.6,434.6 274.4,434.2 273.6,433.0 272.4,431.3 271.9,431.4 271.0,431.0 270.7,431.5 270.0,431.4 270.4,432.1 270.3,432.3 270.7,433.3 271.3,434.5 271.9,434.8 272.2,435.3 273.1,435.8 273.1,436.9 273.2,437.3 273.6,437.7 273.9,438.1 274.0,438.4 274.4,438.7 274.8,438.7 274.9,437.9 274.8,437.1 274.4,436.6 274.1,436.8 273.9,438.3 275.3,439.5 276.2,439.2 277.1,439.2 277.8,439.3 278.6,438.4 279.3,437.6 280.0,436.6 280.3,436.2 280.4,436.4 280.4,436.9 280.3,437.2 280.5,438.3 281.1,439.2 281.8,439.6 282.6,439.9 283.3,440.0 284.4,441.2 284.8,441.5 284.3,443.0 283.9,443.4 283.5,444.3 282.9,444.2 282.7,444.6 282.7,445.3 282.8,446.1 282.8,446.3 281.5,446.7 281.4,447.4 281.2,447.7 280.5,447.7 280.1,448.1 280.1,448.6 279.6,448.9 278.9,448.9 278.2,449.3 277.6,449.3 276.8,449.7 276.6,450.4 276.6,450.8 275.5,451.3 273.7,452.0 272.7,452.9 272.1,452.9 271.7,452.9 271.1,453.5 270.3,453.7 269.4,453.9 269.0,453.9 268.8,454.3 268.5,454.3 268.4,454.7 267.8,454.7 267.4,454.8 266.6,454.8 266.2,454.0 266.3,453.2 266.0,452.8 265.8,451.8 265.4,451.3 265.6,451.2 265.5,450.6 265.6,450.4 265.5,449.8 265.3,449.2 264.9,448.8 264.9,448.2 264.3,447.8 263.5,446.6 263.1,445.5 262.2,444.6 261.7,444.4 260.8,443.1 260.6,442.2 260.7,441.4 259.9,439.9 259.3,439.3 258.7,439.1 258.3,438.3 258.3,438.0 257.9,437.3 257.5,437.1 257.0,436.0 256.2,434.9 255.6,434.0 255.0,434.0 255.2,433.3 255.1,432.7 255.2,432.2 254.9,432.9 254.7,433.7 254.6,434.4 254.2,434.6 253.2,433.6 252.3,431.6 252.2,431.7 252.7,433.2 253.5,434.5 254.6,436.6 255.1,437.3 255.5,438.1 256.7,439.6 256.4,439.7 256.5,440.7 258.0,441.9 258.2,442.2 258.6,443.5 258.6,445.1 259.2,446.7 259.6,447.0 260.3,447.6 261.0,449.2 261.5,450.4 262.1,451.0 263.8,452.2 264.4,453.1 265.2,453.9 265.5,454.3 266.1,454.7 266.4,455.1 266.4,455.7 265.7,456.0 266.2,456.3 266.7,456.6 266.9,457.1 267.4,457.8 268.0,457.8 269.2,457.4 270.4,457.2 271.4,456.8 272.0,456.7 272.5,456.4 273.1,456.4 273.5,456.4 274.0,456.1 274.7,456.0 275.1,455.6 275.6,455.6 275.6,456.0 275.5,456.7 275.6,457.5 275.4,457.9 275.2,459.4 274.6,460.9 274.0,462.6 272.9,464.6 271.9,466.1 270.6,467.8 269.5,469.1 267.7,470.3 266.5,471.3 265.2,473.0 264.9,473.6 264.7,474.0 264.0,474.4 263.2,475.2 262.9,476.2 262.5,476.7 262.3,477.5 261.8,478.1 261.2,479.7 261.3,480.5 262.0,480.9 262.1,481.3 261.7,482.1 261.8,482.5 261.7,483.2 262.0,484.0 262.5,485.3 262.9,485.6 263.2,486.3 263.0,487.6 263.2,488.7 263.1,490.8 263.3,491.5 262.9,492.5 262.4,493.4 261.6,494.2 260.4,494.7 259.1,495.4 257.7,496.9 257.3,497.0 256.4,498.1 255.9,498.4 255.8,499.3 256.3,500.4 256.5,501.1 256.5,501.5 256.7,501.5 256.5,502.8 256.3,503.4 256.6,503.6 256.4,504.2 255.8,504.7 254.8,505.1 253.4,505.9 252.9,506.3 253.0,506.9 253.2,507.0 253.1,507.7 252.8,508.7 252.6,509.8 252.2,510.5 251.3,511.2 251.1,511.3 250.6,512.0 250.2,512.6 249.5,513.6 248.0,515.1 247.2,515.9 246.3,516.4 245.0,516.9 244.5,517.1 244.3,517.3 243.7,517.2 243.1,517.5 241.9,517.2 241.2,517.3 240.7,517.3 239.4,517.9 238.5,518.0 237.8,518.6 237.3,518.6 236.8,518.1 236.5,518.0 236.0,517.5 236.0,517.6 235.8,517.3 235.9,516.5 235.5,515.6 235.9,515.3 235.9,514.4 235.3,513.0 234.8,512.0 234.8,512.0 234.0,510.2 233.2,509.1 232.8,508.2 232.6,506.9 232.3,505.9 232.0,503.9 232.0,502.3 231.9,501.5 231.5,500.9 230.9,499.9 230.2,498.2 230.0,497.3 229.1,496.1 229.0,495.0 228.9,494.2 229.2,493.0 229.5,491.8 229.7,491.1 230.0,489.9 230.3,489.4 231.0,488.6 231.4,487.9 231.5,486.9 231.5,486.1 231.1,485.7 230.8,484.9 230.6,484.1 230.6,483.8 230.9,483.3 230.6,482.0 230.4,481.0 229.8,480.2 229.9,480.0 229.8,479.6 229.4,478.5 228.5,477.1 227.3,475.7 226.5,474.6 225.8,473.2 225.8,472.8 226.0,472.4 226.3,471.3 226.6,470.4 226.3,470.1 226.7,468.7 226.9,467.6 226.5,466.8 225.9,466.5 225.6,465.8 225.4,465.7 225.4,465.3 224.2,465.8 223.7,465.7 223.3,466.1 222.3,466.0 221.7,465.2 221.2,464.2 220.4,463.3 219.6,463.3 218.5,463.3 217.6,463.5 216.6,463.8 214.7,464.6 214.0,465.0 213.0,465.4 211.9,465.0 211.4,465.1 210.6,464.8 209.8,464.8 208.4,465.0 207.6,465.4 206.4,466.0 206.2,465.8 205.8,465.8 204.6,465.3 203.6,464.2 202.5,463.5 201.8,462.6 201.4,462.5 200.6,461.9 200.0,461.3 199.8,460.7 199.7,459.8 199.1,459.0 198.6,458.4 198.0,458.0 197.9,457.4 197.8,457.1 197.5,457.0 196.8,456.3 196.3,456.3 196.1,455.9 196.1,455.7 195.7,455.3 195.6,455.1 195.5,454.0 195.6,453.5 195.2,452.4 194.6,452.0 195.1,451.7 195.7,450.8 195.9,450.1 196.4,449.6 196.4,448.9 196.6,447.6 196.5,447.4 196.3,446.1 196.2,445.4 196.3,444.7 196.1,444.0 195.4,443.5 195.5,443.0 195.6,442.3 196.0,441.9 196.4,441.2 196.4,440.8 196.8,439.9 197.5,438.9 197.8,438.8 198.2,438.0 198.2,437.3 198.7,436.4 199.4,436.0 200.3,434.6 200.8,434.1 201.9,434.0 202.8,433.0 203.4,432.6 204.3,431.5 204.2,429.8 204.7,428.7 204.8,427.9 205.5,427.1 206.6,426.4 207.5,425.9 208.4,424.5 208.7,423.6 209.5,423.6 210.2,424.3 211.3,424.1 212.4,424.4 212.8,424.4 214.0,423.7 215.2,423.5 215.9,422.9 217.0,422.5 218.9,422.3 220.6,422.1 221.2,422.4 222.3,421.9 223.4,421.9 223.9,422.1 224.6,422.1 225.8,421.6 226.6,421.7 226.6,422.4 227.5,421.9 227.6,422.1 227.1,422.8 227.1,423.5 227.5,423.7 227.4,424.9 226.6,425.6 226.9,426.3 227.6,426.3 227.8,427.0 228.3,427.2 229.6,427.6 230.1,427.5 231.0,427.8 232.5,428.3 233.1,429.5 234.2,429.8 235.8,430.3 237.1,431.0 237.6,430.7 238.1,430.1 237.7,429.0 238.1,428.4 238.9,427.8 239.6,427.6 241.2,427.9 241.6,428.4 242.0,428.4 242.4,428.7 243.5,428.8 243.9,429.3 245.4,429.3 246.5,429.7 247.7,430.1 248.2,430.2 249.0,429.8 249.5,429.4 250.5,429.3 251.3,429.5 251.6,430.2 251.9,429.7 252.8,430.1 253.7,430.1 254.3,429.8 254.6,429.4 254.7,428.6 254.8,427.6 254.9,427.2 255.2,426.2 255.7,425.2 255.4,424.1 255.3,423.6 255.6,422.4 254.9,422.5 253.9,422.3 253.2,423.1 251.5,423.2 250.6,422.5 249.3,422.4 249.2,422.9 248.4,423.2 247.2,422.4 246.0,422.4 245.2,421.1 244.3,420.4 244.8,419.3 244.1,418.6 245.1,417.4 246.8,417.3 247.1,416.4 245.8,415.8 244.8,416.8 244.2,417.7 243.7,417.2 243.0,416.8 242.4,416.8 241.2,417.0 242.0,417.8 241.5,418.0 240.8,418.0 240.2,417.3 240.0,417.6 240.3,418.4 241.0,419.0 240.6,419.4 241.2,420.0 241.8,420.4 241.9,421.1 240.8,420.8 241.2,421.5 240.6,421.6 241.1,422.8 240.4,422.8 239.4,422.3 238.9,421.2 238.6,420.3 238.1,419.6 237.5,418.9 237.5,418.5 237.2,418.4 237.2,418.1 236.5,417.6 236.4,417.0 236.4,416.1 236.5,415.7 236.3,415.4 236.1,415.4 235.7,414.9 235.3,414.6 234.2,414.2 233.5,413.7 232.5,413.3 231.6,412.4 231.8,412.3 231.2,411.7 231.2,411.2 230.5,411.1 230.2,411.6 229.9,411.2 229.8,410.7 230.0,410.5 229.2,410.4 228.4,410.8 228.5,411.5 228.4,411.9 228.8,412.5 229.8,413.2 230.4,414.2 231.7,415.3 232.5,415.4 232.9,415.7 232.6,416.0 233.6,416.4 234.4,416.8 235.4,417.4 235.5,417.7 235.4,418.2 234.6,417.6 233.8,417.4 233.3,418.2 234.2,418.8 234.1,419.4 233.6,419.6 233.1,420.7 232.7,420.8 232.6,420.4 232.8,419.6 233.0,419.3 232.5,418.0 231.7,417.7 231.3,417.2 230.7,416.9 230.1,416.4 229.3,416.2 228.4,415.7 227.4,414.8 226.6,414.1 226.2,412.8 225.7,412.7 224.8,412.1 224.3,412.4 223.8,412.9 223.2,413.1 222.3,413.8 220.2,413.4 218.6,413.8 218.5,414.6 218.6,415.4 217.6,416.4 216.2,416.6 216.1,417.0 215.4,417.8 215.0,418.9 215.4,419.7 214.7,420.3 214.5,421.2 213.7,421.5 213.0,422.4 210.4,422.4 209.7,422.9 209.3,423.5 209.1,423.3M59.8,381.4 60.5,382.3 61.1,383.5 60.0,384.2 60.2,384.5 61.2,383.6 63.3,383.8 63.6,384.9 61.9,385.4 60.3,385.6 58.7,386.6 58.1,386.9 57.2,386.9 57.0,386.5 56.3,386.2 56.9,385.6 56.2,385.4 55.0,385.6 55.0,385.2 55.9,384.7 54.5,385.0 54.1,385.6 52.8,386.0M91.6,577.1 99.9,577.7 107.6,578.0 114.6,578.1 116.5,577.8 113.8,576.9 109.5,575.8 104.2,574.5 99.0,573.4 93.7,572.3 90.5,571.5 92.8,570.9 96.3,570.8 98.2,570.3 100.4,569.8 99.1,569.1 99.8,568.9 102.5,568.7 105.7,568.5 109.5,568.1 112.9,568.0 117.7,568.1 121.2,567.9 122.5,567.3 125.9,568.0 129.0,568.5 132.4,568.5 132.9,567.6 132.7,566.9 135.1,566.5 137.6,567.1 140.5,567.0 143.9,567.0 147.6,567.2 148.9,566.6 151.3,566.9 152.6,566.5 155.3,567.2 157.4,566.7 158.2,565.2 158.2,564.8 157.4,563.2 157.0,561.6 156.7,560.7 156.8,558.6 157.9,557.3 159.0,556.5 161.3,555.6 162.9,555.4 162.9,556.2 162.0,556.5 161.4,557.8 160.2,559.1 160.4,561.1 161.3,562.1 162.9,563.6 163.6,564.6 164.4,565.7 165.2,566.6 165.6,567.7 164.5,568.2 164.1,568.9 163.8,569.4 160.5,569.9 156.7,570.6 155.4,570.7 155.2,571.1 160.0,573.0 166.0,574.6 171.0,575.3 174.0,575.5 179.3,575.0 183.9,574.2 188.7,573.6 193.8,573.4 195.4,571.5 198.0,569.7 200.8,568.1 203.1,567.3 202.4,566.7 205.1,566.0 206.5,565.0 209.1,564.7 210.4,564.3 213.6,564.5 216.3,564.1 218.8,563.7 221.7,563.0 223.4,563.2 225.9,563.5 228.8,563.3 231.4,563.5 233.5,563.6 236.2,563.3 238.8,563.2 241.2,562.4 243.4,562.6 244.7,561.5 246.8,562.6 248.3,563.0 251.0,561.4 254.0,560.4 256.2,560.5 258.3,560.0 261.0,559.2 264.2,558.4 266.2,559.1 266.4,560.5 268.5,560.5 271.1,560.5 273.4,561.2 275.5,562.0 274.0,564.1 275.2,565.1 276.0,564.9 277.5,563.6 279.0,563.0 280.1,562.8 282.9,562.0 284.2,561.3 287.1,560.3 290.1,559.8 293.7,558.9 295.7,559.3 297.3,559.6 299.7,559.2 302.2,559.2 303.4,559.8 307.5,558.2 309.2,559.7 311.4,559.5 314.8,558.6 316.9,558.5 317.7,559.5 319.5,559.7 321.9,560.0 324.7,559.2 326.3,559.5 328.5,559.5 331.6,559.1 334.9,558.8 336.3,558.3 337.7,559.0 339.9,559.6 341.4,560.0 343.8,559.8 343.5,560.8 344.8,561.6 347.2,562.0 349.7,561.9 351.0,562.6 351.7,562.9 352.2,563.5 354.0,564.0 355.7,564.1 357.3,564.3 358.4,564.8 355.4,566.4 351.8,567.4 347.6,568.5 343.8,569.9 341.4,571.2 337.9,572.2 335.1,573.2 332.8,574.1 331.9,575.0 332.1,575.8 332.7,576.4 334.3,576.8 336.5,577.1 339.0,577.1" fill="none" stroke="#000" stroke-width="1.9" stroke-linejoin="round"/>
</g>
<path d="M329.10,580.20 L333.07,579.10 L337.66,577.61 L342.73,575.77 L348.16,573.63 L353.78,571.24 L359.25,568.66 L364.29,565.99 L368.96,563.23 L373.43,560.38 L377.75,557.46 L381.97,554.47 L386.07,551.42 L390.04,548.32 L393.85,545.16 L397.49,541.97 L400.89,538.73 L404.01,535.46 L406.94,532.17 L409.75,528.85 L412.37,525.52 L414.74,522.18 L416.88,518.82 L418.84,515.46 L420.58,512.10 L422.09,508.73 L423.36,505.37 L424.41,502.01 L425.33,498.65 L426.21,495.28 L427.00,491.92 L427.64,488.56 L428.15,485.20 L428.55,481.84 L428.84,478.47 L429.03,475.11 L429.13,471.75 L429.03,468.39 L428.84,465.03 L428.55,461.66 L428.15,458.30 L427.64,454.94 L427.00,451.58 L426.21,448.22 L425.33,444.85 L424.41,441.49 L423.36,438.13 L422.09,434.77 L420.58,431.40 L418.84,428.04 L416.88,424.68 L414.74,421.32 L412.37,417.98 L409.75,414.65 L406.94,411.33 L404.01,408.04 L400.89,404.77 L397.49,401.53 L393.85,398.34 L390.04,395.18 L386.07,392.08 L381.97,389.03 L377.75,386.04 L373.43,383.12 L368.96,380.27 L364.29,377.51 L359.25,374.84 L353.78,372.26 L348.16,369.87 L342.73,367.73 L337.66,365.89 L333.07,364.40 L329.10,363.30 L101.50,363.30 L97.53,364.40 L92.94,365.89 L87.87,367.73 L82.44,369.87 L76.82,372.26 L71.35,374.84 L66.31,377.51 L61.64,380.27 L57.17,383.12 L52.85,386.04 L48.63,389.03 L44.53,392.08 L40.56,395.18 L36.75,398.34 L33.11,401.53 L29.71,404.77 L26.59,408.04 L23.66,411.33 L20.85,414.65 L18.23,417.98 L15.86,421.32 L13.72,424.68 L11.76,428.04 L10.02,431.40 L8.51,434.77 L7.24,438.13 L6.19,441.49 L5.27,444.85 L4.39,448.22 L3.60,451.58 L2.96,454.94 L2.45,458.30 L2.05,461.66 L1.76,465.03 L1.57,468.39 L1.47,471.75 L1.57,475.11 L1.76,478.47 L2.05,481.84 L2.45,485.20 L2.96,488.56 L3.60,491.92 L4.39,495.28 L5.27,498.65 L6.19,502.01 L7.24,505.37 L8.51,508.73 L10.02,512.10 L11.76,515.46 L13.72,518.82 L15.86,522.18 L18.23,525.52 L20.85,528.85 L23.66,532.17 L26.59,535.46 L29.71,538.73 L33.11,541.97 L36.75,545.16 L40.56,548.32 L44.53,551.42 L48.63,554.47 L52.85,557.46 L57.17,560.38 L61.64,563.23 L66.31,565.99 L71.35,568.66 L76.82,571.24 L82.44,573.63 L87.87,575.77 L92.94,577.61 L97.53,579.10 L101.50,580.20 Z" fill="none" stroke="#bfbfbf" stroke-width="1.4"/>
<text x="662.8" y="346.8" font-size="21.6" fill="#2f4f4f" stroke="#2f4f4f" stroke-width="0.5" textLength="47.0" lengthAdjust="spacingAndGlyphs">SON</text>
<g clip-path="url(#clipSON)">
<path d="M800.40,580.20 L804.37,579.10 L808.96,577.61 L814.03,575.77 L819.46,573.63 L825.08,571.24 L830.55,568.66 L835.59,565.99 L840.26,563.23 L844.73,560.38 L849.05,557.46 L853.27,554.47 L857.37,551.42 L861.34,548.32 L865.15,545.16 L868.79,541.97 L872.19,538.73 L875.31,535.46 L878.24,532.17 L881.05,528.85 L883.67,525.52 L886.04,522.18 L888.18,518.82 L890.14,515.46 L891.88,512.10 L893.39,508.73 L894.66,505.37 L895.71,502.01 L896.63,498.65 L897.51,495.28 L898.30,491.92 L898.94,488.56 L899.45,485.20 L899.85,481.84 L900.14,478.47 L900.33,475.11 L900.43,471.75 L900.33,468.39 L900.14,465.03 L899.85,461.66 L899.45,458.30 L898.94,454.94 L898.30,451.58 L897.51,448.22 L896.63,444.85 L895.71,441.49 L894.66,438.13 L893.39,434.77 L891.88,431.40 L890.14,428.04 L888.18,424.68 L886.04,421.32 L883.67,417.98 L881.05,414.65 L878.24,411.33 L875.31,408.04 L872.19,404.77 L868.79,401.53 L865.15,398.34 L861.34,395.18 L857.37,392.08 L853.27,389.03 L849.05,386.04 L844.73,383.12 L840.26,380.27 L835.59,377.51 L830.55,374.84 L825.08,372.26 L819.46,369.87 L814.03,367.73 L808.96,365.89 L804.37,364.40 L800.40,363.30 L572.80,363.30 L568.83,364.40 L564.24,365.89 L559.17,367.73 L553.74,369.87 L548.12,372.26 L542.65,374.84 L537.61,377.51 L532.94,380.27 L528.47,383.12 L524.15,386.04 L519.93,389.03 L515.83,392.08 L511.86,395.18 L508.05,398.34 L504.41,401.53 L501.01,404.77 L497.89,408.04 L494.96,411.33 L492.15,414.65 L489.53,417.98 L487.16,421.32 L485.02,424.68 L483.06,428.04 L481.32,431.40 L479.81,434.77 L478.54,438.13 L477.49,441.49 L476.57,444.85 L475.69,448.22 L474.90,451.58 L474.26,454.94 L473.75,458.30 L473.35,461.66 L473.06,465.03 L472.87,468.39 L472.77,471.75 L472.87,475.11 L473.06,478.47 L473.35,481.84 L473.75,485.20 L474.26,488.56 L474.90,491.92 L475.69,495.28 L476.57,498.65 L477.49,502.01 L478.54,505.37 L479.81,508.73 L481.32,512.10 L483.06,515.46 L485.02,518.82 L487.16,522.18 L489.53,525.52 L492.15,528.85 L494.96,532.17 L497.89,535.46 L501.01,538.73 L504.41,541.97 L508.05,545.16 L511.86,548.32 L515.83,551.42 L519.93,554.47 L524.15,557.46 L528.47,560.38 L532.94,563.23 L537.61,565.99 L542.65,568.66 L548.12,571.24 L553.74,573.63 L559.17,575.77 L564.24,577.61 L568.83,579.10 L572.80,580.20 Z" fill="#fce0cf"/>
<path d="M565.9,392.2 580.3,390.5 583.5,395.4 580.3,406.6 570.7,405.8 567.5,400.2Z" fill="#f7f7f7"/>
<path d="M471.0,432.3 487.1,429.1 503.2,424.3 517.6,419.5 519.2,425.9 532.1,425.9 538.5,430.7 546.6,425.9 551.4,429.1 554.6,435.6 561.0,440.4 567.5,435.6 583.5,427.5 599.6,424.3 616.0,427.5 616.0,470.0 471.0,470.0Z" fill="#f7f7f7"/>
<path d="M471.0,446.8 487.1,445.2 503.2,446.8 519.2,445.2 535.3,446.8 548.2,450.0 554.6,456.5 551.4,462.9 535.3,462.9 519.2,459.7 503.2,462.9 487.1,462.9 471.0,461.3Z" fill="#fce0cf"/>
<path d="M482.3,454.1 496.7,453.2 495.1,458.1 483.1,457.7Z" fill="#f7b799"/>
<path d="M499.9,453.2 512.8,450.8 520.8,453.2 517.6,457.3 501.5,457.3Z" fill="#f7b799"/>
<path d="M532.1,458.1 543.3,453.2 554.6,446.8 561.0,443.6 562.6,450.0 551.4,456.5 538.5,460.5Z" fill="#d7e8f1"/>
<path d="M556.2,458.1 570.7,456.5 570.7,470.0 556.2,470.0Z" fill="#fce0cf"/>
<path d="M577.1,450.0 593.2,446.8 609.3,443.6 616.0,443.6 616.0,470.0 593.2,470.0 583.5,459.7Z" fill="#d7e8f1"/>
<path d="M583.5,462.9 593.2,462.9 593.2,470.0 583.5,470.0Z" fill="#f7b799"/>
<path d="M471.0,460.0 604.4,460.0 604.4,527.5 586.8,529.1 573.9,529.1 561.0,525.9 551.4,522.7 554.6,530.7 548.2,535.6 543.3,534.0 527.3,529.1 511.2,525.9 491.9,528.3 471.0,528.3Z" fill="#f7f7f7"/>
<path d="M471.0,460.0 522.4,460.0 522.4,464.8 471.0,464.8Z" fill="#fce0cf"/>
<path d="M556.2,460.0 583.5,460.0 583.5,464.8 556.2,464.8Z" fill="#fce0cf"/>
<path d="M474.2,469.6 493.5,470.5 493.5,475.3 474.2,474.5Z" fill="#d7e8f1"/>
<path d="M474.2,479.3 487.1,482.5 503.2,488.9 519.2,492.2 538.5,495.4 551.4,501.8 559.4,508.2 559.4,513.1 548.2,513.9 532.1,508.2 511.2,501.8 495.1,495.4 479.0,492.2 474.2,490.5Z" fill="#fce0cf"/>
<path d="M474.2,482.5 477.4,482.5 477.4,489.7 474.2,489.7Z" fill="#f7b799"/>
<path d="M480.6,506.6 496.7,505.8 495.1,513.1 482.3,509.8Z" fill="#d7e8f1"/>
<path d="M590.0,469.6 599.6,466.4 616.0,468.0 616.0,484.1 602.8,482.5 593.2,477.7Z" fill="#f7b799"/>
<path d="M593.2,472.9 599.6,472.9 601.2,477.7 594.0,476.9Z" fill="#e58268"/>
<path d="M604.4,484.1 616.0,484.1 616.0,540.4 607.7,540.4Z" fill="#fce0cf"/>
<path d="M604.4,488.9 616.0,488.9 616.0,497.0 605.2,497.0Z" fill="#d7e8f1"/>
<path d="M586.8,482.5 593.2,484.1 602.8,497.0 602.8,508.2 598.0,506.6Z" fill="#d7e8f1"/>
<path d="M643.3,369.6 670.7,368.0 669.1,377.7 656.2,382.5 646.5,379.3Z" fill="#f7f7f7"/>
<path d="M718.9,401.8 728.5,395.4 744.6,393.8 761.0,395.4 761.0,413.1 744.6,408.2 731.8,408.2 722.1,408.2Z" fill="#f7f7f7"/>
<path d="M616.0,433.2 640.1,434.0 656.2,430.7 664.2,421.1 672.3,411.4 683.5,408.2 680.3,424.3 688.3,427.5 699.6,429.1 712.5,430.7 725.3,432.3 738.2,437.2 751.0,440.4 761.0,437.2 761.0,470.0 616.0,470.0Z" fill="#f7f7f7"/>
<path d="M691.6,435.6 706.0,434.0 718.9,437.2 718.9,443.6 702.8,443.6 693.2,442.0Z" fill="#fce0cf"/>
<path d="M616.0,438.8 625.6,440.4 632.1,446.8 625.6,453.2 616.0,453.2Z" fill="#d7e8f1"/>
<path d="M662.6,462.9 673.9,462.9 673.9,470.0 662.6,470.0Z" fill="#d7e8f1"/>
<path d="M696.4,454.1 706.0,453.2 706.0,459.7 697.2,459.7Z" fill="#d7e8f1"/>
<path d="M722.1,456.5 738.2,456.5 738.2,470.0 722.1,470.0Z" fill="#d7e8f1"/>
<path d="M754.3,446.8 761.0,446.8 761.0,456.5 754.3,456.5Z" fill="#d7e8f1"/>
<path d="M622.4,454.9 640.1,453.2 654.6,458.1 653.0,466.1 635.3,467.7 624.0,462.9Z" fill="#fce0cf"/>
<path d="M628.9,456.5 640.1,455.7 648.2,459.7 646.5,464.5 633.7,464.5Z" fill="#f7b799"/>
<path d="M632.1,459.7 641.7,459.7 641.7,462.9 632.1,462.9Z" fill="#e58268"/>
<path d="M702.8,462.9 718.9,462.9 718.9,470.0 702.8,470.0Z" fill="#fce0cf"/>
<path d="M616.0,460.0 736.6,460.0 736.6,484.1 731.8,508.2 712.5,517.9 706.0,519.5 693.2,519.5 677.1,517.9 664.2,511.4 653.0,505.0 644.9,497.0 632.1,513.1 625.6,524.3 616.0,524.3Z" fill="#f7f7f7"/>
<path d="M616.0,460.0 625.6,460.0 636.9,469.6 644.9,480.9 641.7,497.0 632.1,505.0 616.0,505.0Z" fill="#fce0cf"/>
<path d="M616.0,487.3 625.6,490.5 632.1,500.2 628.9,524.3 616.0,524.3Z" fill="#f7f7f7"/>
<path d="M616.0,469.6 625.6,474.5 628.9,484.1 622.4,487.3 616.0,485.7Z" fill="#f7b799"/>
<path d="M616.0,476.1 622.4,477.7 624.0,484.1 616.0,484.1Z" fill="#e58268"/>
<path d="M628.9,460.0 653.0,460.0 653.0,468.0 632.1,468.0Z" fill="#fce0cf"/>
<path d="M632.1,460.0 648.2,460.0 648.2,464.8 633.7,464.8Z" fill="#f7b799"/>
<path d="M664.2,464.0 672.3,464.0 672.3,467.2 664.2,467.2Z" fill="#d7e8f1"/>
<path d="M690.0,487.3 699.6,488.9 699.6,495.4 691.6,493.8Z" fill="#d7e8f1"/>
<path d="M704.4,463.2 735.0,463.2 735.0,484.1 731.8,500.2 722.1,508.2 710.9,509.8 704.4,500.2 702.8,476.1Z" fill="#fce0cf"/>
<path d="M706.0,490.5 718.9,490.5 716.5,505.0 710.9,511.4 706.0,508.2Z" fill="#f7f7f7"/>
<path d="M706.0,466.4 718.9,466.4 718.9,479.3 707.6,479.3Z" fill="#f7b799"/>
<path d="M709.2,469.6 714.1,469.6 714.1,475.3 709.2,475.3Z" fill="#e58268"/>
<path d="M725.3,460.0 735.0,460.0 735.0,472.9 726.9,472.9Z" fill="#d7e8f1"/>
<path d="M736.6,464.8 761.0,463.2 761.0,508.2 738.2,508.2Z" fill="#fce0cf"/>
<path d="M754.3,472.9 761.0,472.9 761.0,484.1 755.1,484.1Z" fill="#f7b799"/>
<path d="M757.0,405.0 789.2,406.6 824.5,409.8 829.3,421.1 826.1,434.0 805.2,437.2 781.1,435.6 757.0,434.0Z" fill="#faebe3"/>
<path d="M760.2,414.7 766.6,414.7 766.6,419.5 760.2,419.5Z" fill="#f7b799"/>
<path d="M773.1,419.5 782.7,419.5 782.7,424.3 773.1,424.3Z" fill="#f7b799"/>
<path d="M827.7,413.1 853.5,414.7 879.2,413.1 892.0,427.5 901.7,432.3 902.0,470.0 826.1,470.0Z" fill="#f7f7f7"/>
<path d="M856.7,424.3 869.5,421.1 882.4,422.7 890.4,429.1 888.8,443.6 872.8,442.0 859.9,432.3Z" fill="#fce0cf"/>
<path d="M888.8,445.2 898.5,445.2 898.5,459.7 888.8,459.7Z" fill="#fce0cf"/>
<path d="M763.4,443.6 781.1,437.2 805.2,435.6 821.3,435.6 837.4,442.0 853.5,446.8 869.5,453.2 872.8,462.9 861.5,470.0 757.0,470.0 757.0,450.0Z" fill="#d7e8f1"/>
<path d="M777.9,445.2 789.2,442.0 795.6,450.0 792.4,462.9 781.1,459.7Z" fill="#a7d0e4"/>
<path d="M835.8,450.8 847.0,450.0 856.7,453.2 853.5,458.9 837.4,458.1Z" fill="#a7d0e4"/>
<path d="M757.0,464.5 773.1,464.5 773.1,470.0 757.0,470.0Z" fill="#fce0cf"/>
<path d="M757.0,460.0 902.0,460.0 902.0,508.2 885.6,511.4 877.6,517.9 869.5,521.1 861.5,527.5 845.4,530.7 829.3,527.5 813.3,524.3 808.4,516.3 797.2,509.8 781.1,511.4 765.0,508.2 757.0,505.0Z" fill="#f7f7f7"/>
<path d="M757.0,463.2 781.1,464.8 802.0,469.6 802.0,485.7 781.1,487.3 757.0,485.7Z" fill="#fce0cf"/>
<path d="M757.0,474.5 773.1,475.3 797.2,477.7 795.6,482.5 773.1,484.1 757.0,484.1Z" fill="#f7b799"/>
<path d="M761.8,468.8 769.9,468.8 769.9,472.9 761.8,472.9Z" fill="#f7b799"/>
<path d="M777.9,460.0 869.5,460.0 869.5,469.6 861.5,480.9 856.7,492.2 845.4,497.0 829.3,492.2 813.3,487.3 800.4,484.1 798.8,472.9Z" fill="#d7e8f1"/>
<path d="M861.5,461.6 898.5,461.6 898.5,476.1 869.5,476.1Z" fill="#d7e8f1"/>
<path d="M888.8,479.3 898.5,479.3 898.5,488.9 888.8,488.9Z" fill="#fce0cf"/>
<path d="M890.4,480.9 898.5,480.9 898.5,487.3 891.2,487.3Z" fill="#f7b799"/>
<path d="M560.0,430.0 660.0,430.0 660.0,540.0 560.0,540.0Z" fill="#f7f7f7"/>
<path d="M560.0,523.3 606.7,523.3 606.7,540.0 560.0,540.0Z" fill="#fce0cf"/>
<path d="M631.5,503.1 644.0,496.9 660.0,495.3 660.0,540.0 619.1,540.0 622.2,523.3 628.4,514.0Z" fill="#fce0cf"/>
<path d="M611.3,442.4 619.1,439.3 630.0,442.4 631.5,447.1 622.2,451.0 612.9,448.7Z" fill="#d7e8f1"/>
<path d="M569.3,451.8 583.3,453.3 592.7,458.0 591.1,461.1 578.7,458.0Z" fill="#d7e8f1"/>
<path d="M591.1,458.0 600.4,456.4 611.3,459.5 609.8,465.8 594.2,465.8Z" fill="#d7e8f1"/>
<path d="M560.0,456.4 575.6,458.8 594.2,463.4 592.7,467.3 575.6,465.8 560.0,463.4Z" fill="#fce0cf"/>
<path d="M591.1,467.3 606.7,464.2 619.1,465.8 630.0,470.4 640.9,476.7 644.0,481.3 640.9,495.3 634.7,503.1 625.3,504.7 619.1,495.3 611.3,486.0 600.4,482.9 592.7,476.7Z" fill="#fce0cf"/>
<path d="M592.7,470.4 603.5,468.1 616.0,469.7 626.9,475.1 628.4,484.4 622.2,486.8 614.4,482.9 603.5,479.8 594.2,476.7Z" fill="#f7b799"/>
<path d="M593.4,472.0 598.9,471.2 601.2,476.7 596.5,477.4Z" fill="#e58268"/>
<path d="M614.4,476.7 622.2,477.4 625.3,482.9 620.7,485.2 615.2,482.1Z" fill="#e58268"/>
<path d="M598.9,482.9 611.3,486.0 619.1,495.3 625.3,504.7 630.0,514.0 619.1,523.3 611.3,510.9 606.7,496.9 600.4,489.1Z" fill="#f7f7f7"/>
<path d="M605.1,488.3 614.4,488.3 614.4,492.2 605.1,492.2Z" fill="#d7e8f1"/>
<path d="M606.7,504.7 612.9,503.1 619.1,514.0 619.1,529.5 614.4,540.0 606.7,540.0Z" fill="#fce0cf"/>
<path d="M586.4,482.9 591.1,484.4 600.4,495.3 603.5,507.8 598.9,507.8 591.1,495.3Z" fill="#d7e8f1"/>
<path d="M622.2,456.4 634.7,453.3 650.2,456.4 653.3,462.7 647.1,468.9 634.7,468.9 625.3,464.2Z" fill="#fce0cf"/>
<path d="M626.9,457.2 636.2,455.7 647.1,458.8 648.6,463.4 642.4,466.5 633.1,465.8 628.4,462.7Z" fill="#f7b799"/>
<path d="M633.1,460.3 640.9,460.8 642.4,463.4 634.7,463.4Z" fill="#e58268"/>
<path d="M518.5,434.0 530.4,432.3 542.3,434.0 550.8,432.3 555.9,437.4 550.8,444.1 538.9,447.5 527.0,449.2 518.5,445.8Z" fill="#fce0cf"/>
<path d="M515.1,427.2 528.7,426.3 527.9,433.1 516.0,434.0Z" fill="#f7f7f7"/>
<path d="M530.4,457.7 542.3,452.6 552.5,447.5 561.0,444.1 562.7,450.9 552.5,456.0 538.9,460.3 531.3,460.8Z" fill="#d7e8f1"/>
<path d="M537.2,450.9 545.7,448.4 546.6,450.9 538.9,452.6Z" fill="#fce0cf"/>
<path d="M572.8,580.2 562.9,577.1 571.2,577.7 578.9,578.0 585.9,578.1 587.8,577.8 585.1,576.9 580.8,575.8 575.5,574.5 570.3,573.4 565.0,572.3 561.8,571.5 564.1,570.9 567.6,570.8 569.5,570.3 571.7,569.8 570.4,569.1 571.1,568.9 573.8,568.7 577.0,568.5 580.8,568.1 584.2,568.0 589.0,568.1 592.5,567.9 593.8,567.3 597.2,568.0 600.3,568.5 603.7,568.5 604.2,567.6 604.0,566.9 606.4,566.5 608.9,567.1 611.8,567.0 615.2,567.0 618.9,567.2 620.2,566.6 622.6,566.9 623.9,566.5 626.6,567.2 628.7,566.7 629.5,565.2 629.5,564.8 628.7,563.2 628.3,561.6 628.0,560.7 628.1,558.6 629.2,557.3 630.3,556.5 632.6,555.6 634.2,555.4 634.2,556.2 633.3,556.5 632.7,557.8 631.5,559.1 631.7,561.1 632.6,562.1 634.2,563.6 634.9,564.6 635.7,565.7 636.5,566.6 636.9,567.7 635.8,568.2 635.4,568.9 635.1,569.4 631.8,569.9 628.0,570.6 626.7,570.7 626.5,571.1 631.3,573.0 637.3,574.6 642.3,575.3 645.3,575.5 650.6,575.0 655.2,574.2 660.0,573.6 665.1,573.4 666.7,571.5 669.3,569.7 672.1,568.1 674.4,567.3 673.7,566.7 676.4,566.0 677.8,565.0 680.4,564.7 681.7,564.3 684.9,564.5 687.6,564.1 690.1,563.7 693.0,563.0 694.7,563.2 697.2,563.5 700.1,563.3 702.7,563.5 704.8,563.6 707.5,563.3 710.1,563.2 712.5,562.4 714.7,562.6 716.0,561.5 718.1,562.6 719.6,563.0 722.3,561.4 725.3,560.4 727.5,560.5 729.6,560.0 732.3,559.2 735.5,558.4 737.5,559.1 737.7,560.5 739.8,560.5 742.4,560.5 744.7,561.2 746.8,562.0 745.3,564.1 746.5,565.1 747.3,564.9 748.8,563.6 750.3,563.0 751.4,562.8 754.2,562.0 755.5,561.3 758.4,560.3 761.4,559.8 765.0,558.9 767.0,559.3 768.6,559.6 771.0,559.2 773.5,559.2 774.7,559.8 778.8,558.2 780.5,559.7 782.7,559.5 786.1,558.6 788.2,558.5 789.0,559.5 790.8,559.7 793.2,560.0 796.0,559.2 797.6,559.5 799.8,559.5 802.9,559.1 806.2,558.8 807.6,558.3 809.0,559.0 811.2,559.6 812.7,560.0 815.1,559.8 814.8,560.8 816.1,561.6 818.5,562.0 821.0,561.9 822.3,562.6 823.0,562.9 823.5,563.5 825.3,564.0 827.0,564.1 828.6,564.3 829.7,564.8 826.7,566.4 823.1,567.4 818.9,568.5 815.1,569.9 812.7,571.2 809.2,572.2 806.4,573.2 804.1,574.1 803.2,575.0 803.4,575.8 804.0,576.4 805.6,576.8 807.8,577.1 810.3,577.1 800.4,580.2Z" fill="#f7f7f7"/>
<path d="M535.8,385.3 536.0,386.5 536.9,386.8 539.9,386.8 539.5,387.6 537.6,387.8 534.8,388.4 532.8,389.3 531.3,391.1 532.3,392.2 531.6,393.3 534.6,393.7 536.1,393.4 534.4,394.6 530.4,396.4 527.1,397.3 522.9,398.8 525.5,398.3 529.2,397.6 532.9,395.9 537.2,394.7 539.4,393.7 539.4,392.9 543.1,391.3 545.6,390.6 543.0,392.0 541.5,393.1 543.8,392.6 547.5,391.3 549.1,391.1 550.0,392.1 552.2,392.2 553.5,392.6 555.1,393.4 555.0,394.6 554.9,396.4 554.9,398.1 556.2,398.8 556.6,399.2 556.3,400.5 556.5,401.9 556.0,403.3 556.7,404.4 557.6,405.3 558.7,406.2 558.1,407.6 557.3,407.0 556.5,407.1 555.9,409.0 554.6,411.3 552.4,414.2 551.3,416.6 550.6,417.6 550.4,419.4 550.9,420.9 551.0,422.5 551.3,425.2 553.4,426.0 554.2,427.4 554.2,428.0 554.3,429.3 554.7,431.0 555.8,432.7 555.7,434.0 554.5,434.4 555.5,435.8 556.9,438.3 558.9,441.0 558.9,439.2 558.2,436.9 557.8,434.2 557.4,432.1 556.3,429.3 557.0,429.5 558.3,430.2 558.8,432.5 559.4,434.2 560.5,436.9 561.8,438.1 563.1,440.4 563.8,443.4 563.5,444.3 564.5,446.1 565.5,447.1 567.5,448.1 569.4,449.2 571.5,450.1 573.6,450.6 575.4,450.0 577.1,450.8 578.1,452.2 579.4,453.1 581.1,453.6 583.1,453.9 583.7,454.4 584.7,455.6 585.4,456.8 585.3,458.3 586.1,458.8 586.8,459.0 587.6,460.3 588.4,460.9 589.8,460.9 591.2,461.9 591.8,461.7 591.6,460.6 592.5,459.8 593.8,460.5 594.2,461.7 594.9,462.7 594.9,466.4 594.5,468.3 593.0,469.6 591.7,470.5 591.4,472.3 590.5,473.9 591.0,475.1 591.7,475.5 591.3,476.3 590.2,477.4 590.2,478.5 590.7,479.8 592.0,481.4 593.5,483.9 595.5,487.9 596.7,490.3 598.2,492.5 601.6,494.5 604.2,496.4 605.0,500.5 604.9,503.5 605.2,508.9 605.1,512.1 605.7,516.1 605.6,519.5 605.4,521.8 605.6,524.2 606.2,526.9 607.7,528.9 607.9,530.8 607.1,531.4 606.9,534.3 608.8,536.8 609.0,539.3 610.7,541.7 614.6,544.0 617.2,545.2 620.1,546.1 621.1,545.2 622.0,544.8 619.6,543.9 617.2,542.1 616.9,541.6 616.0,540.9 616.1,540.0 616.6,538.7 616.3,537.2 617.7,535.9 617.1,534.1 615.3,533.8 615.7,532.2 617.1,531.6 616.5,529.3 617.9,529.0 616.4,528.5 615.7,526.9 618.0,527.0 618.2,524.5 618.0,523.9 620.6,524.1 623.0,523.1 623.5,521.8 623.5,520.7 622.5,519.2 621.1,518.3 620.8,517.3 621.7,518.0 623.6,518.7 625.1,518.7 626.2,518.0 626.5,517.1 627.6,514.9 628.9,512.8 629.9,510.8 630.9,509.7 630.6,507.5 630.8,506.2 633.0,504.0 634.9,503.1 636.6,502.5 638.0,502.5 639.0,500.8 639.6,499.1 640.2,497.3 640.7,495.4 640.9,492.9 640.7,490.3 641.2,489.2 642.9,486.5 644.4,484.7 645.3,482.5 645.2,481.3 644.9,479.1 643.1,478.5 640.9,476.7 639.1,475.7 637.3,475.7 635.1,475.0 633.9,474.7 632.0,473.2 629.8,472.6 628.9,473.4 627.2,472.8 626.7,471.5 626.4,469.3 625.9,467.0 625.1,465.8 623.9,464.5 621.4,463.7 618.9,463.7 617.7,462.6 616.6,461.0 614.9,460.2 614.0,458.4 612.5,457.8 613.4,457.4 611.7,457.4 610.3,458.0 608.7,458.2 607.1,457.5 606.0,457.5 605.1,456.3 603.7,456.4 603.8,455.3 602.4,455.9 601.7,456.4 602.0,457.2 601.9,459.6 601.3,458.4 602.3,457.8 602.1,456.1 601.4,455.7 601.9,455.1 599.9,456.7 599.0,456.6 597.4,457.5 597.0,459.1 595.7,460.2 595.1,460.0 594.1,459.4 592.4,458.8 590.9,459.8 589.9,459.6 589.3,459.4 588.0,457.8 587.7,456.8 588.2,454.9 588.2,453.5 588.9,451.6 587.7,450.5 585.8,450.4 583.8,450.5 582.9,450.6 583.1,448.2 583.9,447.1 584.5,445.5 585.5,443.1 585.0,442.7 583.4,442.8 581.4,443.5 581.0,445.0 579.8,446.3 578.0,446.9 576.1,447.3 574.5,446.5 574.1,445.8 573.5,444.0 573.0,442.3 573.5,439.1 574.2,437.1 574.8,434.8 575.9,433.7 578.0,432.5 579.5,431.8 581.5,431.9 583.0,432.6 584.3,432.7 584.5,431.1 586.4,430.9 588.4,430.9 589.2,431.8 590.7,431.3 591.7,432.5 591.7,434.1 591.7,435.4 592.4,436.9 593.1,437.9 593.7,437.9 594.3,436.4 594.2,433.7 593.9,431.5 594.0,429.9 595.0,428.7 597.3,427.1 598.8,426.2 600.8,425.1 602.2,424.3 602.2,422.1 602.9,420.8 603.7,419.9 604.3,419.0 605.8,417.3 607.0,416.9 608.4,416.2 609.9,416.0 610.7,415.6 610.2,414.2 611.3,413.1 613.1,412.1 615.2,411.6 616.4,411.1 618.2,410.9 616.2,412.0 615.6,413.2 617.5,412.4 619.4,411.9 621.5,411.1 622.8,409.9 623.0,408.8 621.4,410.0 620.0,410.3 618.5,409.7 618.6,408.2 618.4,407.2 619.7,406.6 620.0,406.1 619.1,405.8 617.6,405.9 615.6,406.7 613.5,407.8 615.5,405.9 617.1,405.4 618.2,404.5 620.1,404.4 622.9,404.6 624.8,404.5 628.2,402.8 629.9,402.2 630.3,400.6 629.6,398.8 627.6,398.1 626.1,396.7 626.5,395.1 625.6,393.6 625.7,391.7 624.4,392.8 622.8,393.9 621.4,394.2 620.9,393.4 620.0,393.2 620.6,391.8 619.9,390.7 618.7,389.9 617.1,389.4 614.9,389.0 614.1,389.3 613.7,391.1 612.6,392.7 611.7,395.8 610.4,397.3 608.1,398.5 606.4,402.2 605.0,403.2 604.4,401.9 603.6,401.0 604.5,399.2 602.5,398.0 600.6,397.2 599.4,395.8 597.1,395.4 595.8,393.4 596.9,392.0 599.7,389.9 603.1,388.4 606.2,387.0 608.2,385.8 610.0,384.3 611.2,384.5 613.6,383.8 615.4,382.5 616.5,381.2 615.7,380.3 612.4,380.7 610.2,381.4 609.9,380.3 608.7,379.3 610.3,378.1 608.1,378.1 606.6,378.6 604.3,380.3 602.7,382.1 600.8,382.2 597.6,381.6 594.7,381.6 591.9,382.3 591.2,383.2 589.4,382.8 587.9,382.5 586.9,381.5 586.3,380.4 583.0,380.9 581.1,380.7 580.7,380.0 577.9,379.7 576.9,380.6 574.5,380.7 571.9,380.9 570.4,380.8 567.7,381.5 565.8,380.6 564.3,380.0 562.2,380.2 559.7,379.7 557.8,379.4 555.3,378.8 553.3,379.3 551.3,379.5 547.9,380.3 544.2,381.5 541.7,382.1 542.5,382.8 542.2,383.6 542.8,384.3 541.4,384.2 539.6,384.3 535.8,385.3ZM663.8,366.9 668.3,367.6 671.7,368.0 677.6,368.5 672.5,369.6 672.8,370.8 671.4,372.8 671.9,374.5 669.1,377.4 666.3,378.1 667.9,379.7 663.7,381.7 658.9,382.4 656.3,384.0 653.0,385.3 649.7,386.6 648.8,387.8 646.7,389.9 645.5,392.0 644.1,392.1 642.3,391.1 641.2,390.9 640.4,389.1 639.4,387.7 639.7,385.8 638.7,384.7 639.4,383.5 640.3,382.1 642.5,381.3 643.1,380.3 640.3,379.6 641.3,378.6 639.9,378.4 641.1,377.4 640.6,376.1 640.1,374.3 638.4,373.7 635.5,373.8 632.7,373.7 631.2,372.8 635.1,372.4 632.6,371.6 631.1,371.4 635.3,370.4 638.6,369.6 641.6,368.5 645.3,368.1 650.0,368.1 653.3,368.2 656.2,367.2 659.7,367.0 663.8,366.9ZM631.9,383.8 628.9,386.0 627.5,386.6 627.2,387.9 626.1,388.8 622.8,389.3 621.1,388.5 620.2,387.0 618.5,386.8 615.7,386.5 617.3,385.6 620.4,385.1 622.3,383.3 620.1,381.5 619.3,380.0 616.3,380.2 613.0,379.8 611.0,379.4 612.9,377.7 616.6,376.5 620.9,376.2 622.9,377.2 625.1,377.8 627.1,378.7 628.7,380.2 629.0,381.2 630.7,382.8 631.9,383.8ZM625.8,373.3 622.9,373.4 616.8,373.5 618.5,372.3 617.7,371.3 616.0,370.8 619.4,369.3 623.9,368.9 628.6,367.7 636.0,367.3 642.4,367.6 640.6,368.5 636.9,369.1 633.9,370.1 630.2,370.6 628.9,371.6 625.8,373.3ZM619.4,370.8 615.7,371.4 614.5,370.8 615.7,369.6 619.2,368.9 621.1,369.4 619.4,370.8ZM622.2,375.3 614.5,375.4 613.2,374.3 616.6,373.3 623.3,373.3 622.2,375.3ZM612.0,377.2 607.0,378.1 605.9,377.3 608.0,376.2 611.6,375.9 612.0,377.2ZM599.1,381.2 595.1,381.2 589.3,381.5 586.4,380.4 586.3,379.3 589.3,377.5 593.1,377.1 596.0,377.1 599.7,376.8 600.4,377.2 600.6,379.2 599.1,381.2ZM585.6,378.6 581.9,378.2 586.1,375.7 590.5,375.6 592.3,376.5 588.3,377.7 585.6,378.6ZM603.0,374.2 599.1,374.4 594.0,374.1 596.3,373.0 601.3,372.5 604.8,372.5 603.0,374.2ZM608.4,374.3 604.4,374.3 606.6,373.2 610.1,373.2 608.4,374.3ZM601.5,378.6 603.7,378.9 606.2,378.1 607.3,376.5 605.3,376.4 602.4,377.4 601.5,378.6ZM600.3,381.9 602.3,382.0 604.3,381.2 604.1,380.4 602.2,380.6 600.3,381.9ZM607.0,378.1 609.0,378.2 611.8,377.4 612.8,375.9 610.0,375.8 607.0,378.1ZM608.8,375.0 611.4,375.3 613.5,374.4 612.4,373.9 609.7,374.2 608.8,375.0ZM590.5,373.5 592.7,374.2 596.2,373.4 595.7,372.4 590.5,373.5ZM606.9,371.8 609.7,372.0 612.0,371.0 610.4,370.5 606.9,371.8ZM612.6,371.8 614.9,371.8 616.4,370.8 614.4,370.6 612.6,371.8ZM619.8,377.2 622.9,377.4 624.2,376.3 621.1,376.1 619.8,377.2ZM609.1,389.4 611.4,388.7 610.7,388.2 609.1,388.7 609.1,389.4ZM616.8,375.9 619.9,376.1 621.7,375.5 618.6,375.3 616.8,375.9ZM598.6,374.5 601.6,375.0 603.6,374.3 601.6,373.7 598.6,374.5ZM613.4,387.3 610.7,387.2 607.9,387.5 608.9,385.6 611.0,385.0 612.6,386.5 613.4,387.3ZM624.4,407.8 627.4,407.9 630.1,409.1 631.4,407.9 631.3,406.3 630.8,405.3 629.1,405.4 630.1,402.7 628.6,403.1 626.8,404.8 624.4,407.8ZM555.0,403.7 557.3,404.8 558.0,406.7 556.7,406.6 555.5,404.8 555.0,403.7ZM587.9,442.3 589.3,441.1 591.5,440.5 593.2,440.7 595.5,441.6 596.9,442.7 598.6,443.4 600.1,444.4 598.4,445.0 595.9,445.0 596.3,443.9 595.2,443.4 594.1,442.7 592.2,442.3 590.7,442.0 589.5,442.2 587.9,442.3ZM599.6,447.0 601.9,445.0 604.0,445.0 605.5,445.8 606.7,446.7 604.7,447.3 602.6,447.8 600.6,447.3 599.6,447.0ZM595.0,447.0 596.5,446.9 597.4,447.5 595.8,447.8 595.0,447.0ZM608.0,446.9 609.8,447.1 608.7,447.7 607.9,447.5 608.0,446.9ZM504.8,444.6 505.6,445.3 504.7,446.3 504.4,445.5 504.8,444.6ZM504.2,443.5 504.8,443.8 504.3,444.0 504.2,443.5ZM502.4,442.7 503.0,443.1 502.5,443.1 502.4,442.7ZM500.9,441.9 501.4,441.9 501.1,442.3 500.9,441.9ZM624.3,541.1 625.8,540.4 627.7,540.8 627.2,541.6 625.2,541.6 624.3,541.1ZM680.7,404.6 682.9,404.4 685.1,403.9 687.2,403.7 688.0,403.1 687.5,402.4 688.3,401.3 686.9,400.9 686.7,400.1 686.1,399.0 685.0,397.6 684.0,397.1 684.6,395.7 684.9,395.1 683.1,394.9 683.6,393.8 681.8,393.8 681.2,395.1 680.9,396.4 681.6,397.4 681.8,398.6 683.2,398.5 683.6,399.7 683.5,400.5 682.0,400.5 682.4,401.1 682.3,401.9 681.3,402.4 683.2,403.0 682.3,403.3 680.7,404.6ZM680.5,402.0 680.4,400.4 680.9,398.8 680.4,398.1 679.4,398.0 678.4,398.2 677.9,399.2 676.6,399.4 676.8,400.4 677.2,401.4 676.1,402.2 676.6,402.8 678.3,402.4 680.5,402.0ZM666.5,387.2 665.1,385.4 666.6,384.4 670.6,384.6 673.7,384.5 674.3,385.9 673.0,386.9 669.4,387.9 667.0,387.5 666.5,387.2ZM694.9,371.2 697.4,370.1 698.8,369.9 701.3,369.7 702.3,370.5 704.9,371.8 703.1,372.3 701.3,372.5 699.5,373.2 697.5,372.8 696.1,371.8 694.9,371.2ZM700.2,369.6 703.4,369.3 706.9,369.8 704.5,370.4 701.5,370.2 700.2,369.6ZM729.8,378.6 731.4,379.4 735.3,379.5 732.5,377.5 733.2,375.9 735.4,374.3 737.8,373.8 739.8,372.9 737.8,372.8 733.6,373.5 731.5,375.0 730.7,376.4 729.8,378.6ZM723.5,369.9 729.4,369.9 731.8,369.2 727.0,368.7 723.0,369.2 723.5,369.9ZM757.9,370.5 761.5,371.3 765.9,371.2 763.7,370.1 759.8,369.4 756.7,369.3 757.9,370.5ZM795.0,374.3 799.1,375.2 801.0,374.8 802.3,374.4 798.5,373.6 795.5,373.7 795.0,374.3ZM804.4,376.0 807.1,375.2 804.4,374.5 804.4,376.0ZM535.7,378.6 537.3,378.9 535.0,379.3 535.7,378.6ZM836.9,378.9 837.5,378.6 838.6,379.3 836.9,378.9ZM836.9,410.0 837.9,409.2 834.8,406.1 836.4,405.9 831.5,401.5 829.6,399.4 828.8,399.2 830.1,401.5 833.7,405.4 836.0,409.0 836.9,410.0ZM837.0,410.8 840.0,412.4 843.0,413.6 841.8,415.3 839.7,415.6 838.2,415.0 837.6,413.6 837.0,410.8ZM839.7,416.0 841.7,417.6 842.7,419.3 842.6,420.9 843.4,423.3 843.9,423.7 843.2,424.7 842.5,425.2 840.3,425.2 839.6,426.7 838.1,425.2 836.0,425.6 833.9,426.0 834.1,425.2 835.2,424.0 838.0,423.9 838.3,421.6 839.2,422.3 840.0,420.9 839.9,418.2 839.2,416.9 839.7,416.0ZM833.7,426.2 835.2,426.8 835.8,429.5 835.1,430.1 833.8,428.0 832.7,427.0 833.7,426.2ZM836.0,427.0 836.5,425.6 838.0,425.9 838.0,427.1 836.8,427.6 836.0,427.0ZM826.9,437.7 827.6,438.7 827.1,442.3 826.0,440.7 826.5,438.1 826.9,437.7ZM813.5,445.9 815.3,444.7 816.2,445.4 814.8,447.3 813.5,445.9ZM827.7,446.9 829.7,447.0 829.3,450.4 830.1,452.7 832.9,454.4 831.8,453.2 829.3,453.5 828.5,452.2 827.5,450.0 827.7,446.9ZM831.2,462.3 832.9,461.4 833.9,463.4 835.3,464.2 836.6,461.9 836.0,459.4 834.9,458.6 833.4,460.7 832.0,460.9 831.2,462.3ZM833.2,454.9 834.8,455.6 835.1,458.0 834.2,458.3 833.4,456.4 833.2,454.9ZM830.6,455.9 831.9,456.7 831.4,457.6 830.7,457.6 830.6,455.9ZM831.4,457.5 832.5,457.1 832.4,459.5 831.4,458.4 831.4,457.5ZM828.4,453.6 829.8,454.0 829.4,455.2 828.4,453.6ZM825.4,460.5 827.8,457.6 827.9,456.6 826.7,458.3 825.4,460.5ZM799.6,464.2 802.3,464.8 805.7,468.4 809.8,473.1 812.4,475.8 812.2,479.6 810.6,479.7 808.0,477.1 806.5,474.7 804.4,471.5 803.7,469.3 802.0,467.3 799.6,464.2ZM811.3,480.9 812.9,479.8 815.0,480.2 817.6,481.0 820.2,481.0 822.2,482.1 822.0,483.5 819.2,482.9 815.4,482.1 812.7,481.7 811.3,480.9ZM822.8,482.6 823.6,483.0 823.0,483.6 822.8,482.6ZM823.9,483.0 824.8,482.9 824.4,483.7 823.9,483.0ZM824.9,483.2 827.5,482.8 827.2,483.6 824.8,483.9 824.9,483.2ZM828.4,483.3 832.0,482.6 831.7,483.5 828.6,483.7 828.4,483.3ZM827.5,484.5 829.5,485.1 828.8,485.6 827.5,484.5ZM832.7,485.6 834.7,483.9 837.0,483.0 835.7,484.1 833.2,485.5 832.7,485.6ZM816.1,469.7 816.8,469.1 818.9,468.4 820.7,467.4 822.0,465.6 823.6,464.8 824.9,462.5 826.2,463.7 828.0,464.6 826.6,466.0 826.5,469.1 827.7,470.4 826.2,471.8 824.9,475.1 824.3,476.7 822.5,476.5 820.7,476.1 819.2,475.8 817.4,475.7 817.2,473.8 816.1,471.8 816.1,469.7ZM828.2,479.1 829.4,479.3 829.8,475.2 830.9,477.4 832.3,478.2 831.4,475.8 830.7,474.3 833.1,473.0 831.2,473.0 830.2,470.0 832.6,470.5 835.3,469.7 834.5,471.2 829.4,471.3 828.9,472.4 827.8,475.4 828.2,479.1ZM838.5,468.8 839.5,469.7 838.9,471.2 839.7,472.8 838.2,472.2 837.9,470.4 838.5,468.8ZM838.6,475.8 840.9,475.7 842.0,476.6 840.0,476.6 838.6,475.8ZM836.2,476.1 837.6,476.2 837.1,476.9 836.2,476.6 836.2,476.1ZM842.2,473.6 844.0,472.3 845.9,473.0 846.9,476.3 849.9,473.8 854.0,475.2 858.1,476.9 859.5,479.1 861.5,480.0 861.0,481.8 862.6,483.9 863.9,485.6 861.0,485.3 859.5,482.6 856.2,483.9 855.2,484.3 853.5,484.0 851.2,482.6 850.7,481.4 850.1,478.7 847.4,477.7 845.0,477.1 843.3,475.5 845.1,474.8 842.5,473.8 842.2,473.6ZM862.5,479.3 864.5,479.1 866.3,478.3 867.2,477.4 866.4,479.3 864.7,480.1 862.5,479.3ZM865.7,475.2 867.6,476.6 868.3,477.9 867.7,477.4 865.7,475.2ZM870.0,478.5 871.4,480.5 870.5,480.9 870.0,478.5ZM872.1,480.6 874.1,482.0 873.0,482.4 872.1,480.6ZM875.6,482.9 877.4,484.7 876.3,484.8 875.6,482.9ZM877.0,483.0 877.7,483.9 877.1,483.9 877.0,483.0ZM882.6,491.4 883.0,492.9 882.4,493.0 882.6,491.4ZM883.1,493.5 883.5,493.9 882.9,493.9 883.1,493.5ZM877.9,498.9 879.2,500.3 880.7,501.7 879.1,501.1 878.0,499.5 877.9,498.9ZM894.5,495.3 895.8,495.4 895.3,496.2 894.1,496.1 894.5,495.3ZM896.5,493.7 897.8,493.8 896.8,494.3 896.5,493.7ZM781.1,458.6 783.5,461.7 782.9,463.4 781.6,463.7 781.1,461.0 781.1,458.6ZM744.8,487.9 746.0,492.2 744.6,495.3 743.1,499.3 741.6,504.0 738.8,506.0 737.3,503.4 737.0,500.7 738.4,498.4 738.2,495.0 741.0,493.0 743.1,490.6 744.8,487.9ZM844.5,526.5 848.2,526.7 847.1,528.5 844.4,530.3 843.8,528.9 844.5,526.5ZM880.5,518.0 881.2,520.2 881.4,521.8 884.2,522.4 882.1,524.5 880.3,525.5 876.9,527.7 876.5,527.3 878.2,525.3 877.5,524.6 880.2,521.9 880.1,519.2 880.5,518.0ZM875.2,526.2 876.1,527.3 873.3,529.5 871.8,530.6 869.4,531.5 867.2,533.4 864.8,534.3 862.8,533.5 864.6,531.9 866.8,530.8 870.3,529.5 872.8,527.8 875.2,526.2ZM757.8,537.7 759.7,537.6 759.2,538.3 757.9,538.3 757.8,537.7ZM722.8,424.5 725.2,423.7 724.6,424.7 723.2,425.1 722.8,424.5ZM712.9,424.3 716.0,424.3 714.3,424.7 712.9,424.3ZM700.3,420.7 703.8,420.3 703.4,422.4 700.3,421.2 700.3,420.7ZM695.8,419.3 697.2,419.0 697.3,416.8 695.5,416.6 695.8,419.3ZM696.0,415.8 696.8,416.1 696.7,414.0 696.0,414.5 696.0,415.8ZM717.1,415.8 718.4,416.4 720.5,416.5 721.6,415.7 722.9,415.3 724.7,415.3 726.7,416.2 728.3,416.8 729.6,416.5 730.6,416.6 731.8,416.0 731.6,414.5 730.6,413.4 730.0,413.8 729.5,413.4 728.0,412.3 726.6,411.7 725.6,411.1 726.3,410.8 727.0,409.7 726.3,409.2 727.7,408.7 727.6,408.3 726.8,408.6 725.9,408.7 725.4,409.1 724.3,409.2 723.5,409.6 723.7,410.4 724.3,410.7 725.3,410.7 725.2,411.2 724.1,411.5 722.8,412.1 722.1,411.9 722.3,411.3 721.2,410.9 721.2,410.7 722.2,410.1 721.8,409.9 720.1,409.6 720.0,409.1 719.0,409.2 718.8,410.0 718.1,410.9 718.1,411.3 717.6,411.6 717.3,411.5 717.3,413.1 716.7,413.6 716.5,414.5 716.9,415.3 717.1,415.8ZM740.5,412.3 741.8,413.8 743.2,414.2 743.6,414.8 743.9,415.2 743.5,415.6 744.1,416.5 744.2,416.8 745.4,417.2 744.3,418.0 745.0,418.9 745.4,419.3 745.3,420.7 746.4,421.7 746.2,422.0 743.7,422.3 742.2,421.5 741.1,421.2 740.6,420.3 740.5,419.6 740.7,419.3 740.8,418.8 740.8,417.7 741.7,417.6 741.3,417.3 740.7,417.2 739.3,415.6 737.8,414.0 737.7,413.1 736.4,411.9 737.1,410.5 737.9,409.5 738.4,409.5 739.3,409.2 740.4,408.7 741.4,409.0 742.4,408.8 742.8,409.7 742.9,410.9 741.4,412.0 740.5,412.3ZM855.0,486.1 855.6,490.3 856.8,490.8 857.5,491.9 857.4,493.7 857.5,497.2 860.1,499.2 860.6,501.7 861.8,502.1 862.2,504.2 863.4,505.8 862.8,509.5 861.0,512.6 858.8,515.6 856.7,517.3 854.4,519.8 852.9,522.0 850.7,522.6 847.6,524.2 846.6,523.4 844.8,523.9 842.0,522.8 841.3,522.0 842.1,521.0 841.8,519.6 841.0,519.6 842.1,518.0 842.0,516.1 841.5,517.6 839.9,519.1 840.2,517.9 841.1,516.9 838.9,518.7 838.3,518.1 838.4,515.6 836.5,514.8 835.6,514.1 833.5,514.2 830.4,515.2 828.0,515.7 826.5,516.8 825.7,517.3 824.0,517.5 822.3,517.3 821.4,517.4 820.5,518.1 818.4,518.8 817.2,518.8 816.4,518.0 815.8,517.7 816.1,516.9 817.0,516.5 817.8,514.2 817.7,512.9 818.0,511.4 817.8,510.5 817.9,510.1 817.6,509.5 817.6,508.5 817.3,507.4 817.2,506.9 817.7,507.4 817.5,506.2 818.0,506.6 818.2,507.1 818.4,506.4 818.0,505.4 818.0,505.0 817.8,504.6 818.1,503.8 818.4,503.5 818.7,502.8 818.7,502.0 819.3,501.1 819.3,502.0 819.9,501.1 821.0,500.7 821.6,500.1 822.6,499.6 823.2,499.5 823.4,499.6 824.4,499.2 825.1,499.1 825.8,498.6 826.4,498.6 827.7,498.2 828.4,497.6 828.9,496.9 829.6,496.2 829.9,495.0 831.0,493.8 831.2,495.0 831.9,494.7 831.5,494.1 832.0,493.4 832.5,493.7 832.8,492.7 833.5,492.1 833.9,491.5 834.5,491.3 834.6,490.8 835.0,491.0 835.1,490.7 836.3,490.3 837.0,491.0 837.6,491.8 838.3,491.8 839.0,491.9 838.9,491.1 839.6,490.0 840.2,489.8 840.1,489.4 840.7,488.6 841.4,488.2 842.0,488.3 843.1,488.0 843.2,487.4 842.3,486.9 843.0,486.7 843.7,487.1 844.3,487.6 845.2,487.9 845.6,487.8 846.3,488.2 847.0,487.8 847.5,487.9 847.7,487.8 848.2,488.4 847.8,489.1 847.2,489.6 846.8,489.6 846.9,490.2 846.5,490.8 845.9,491.5 846.0,491.9 846.8,492.7 847.6,493.1 848.8,494.3 849.2,494.3 849.7,494.7 849.8,495.2 850.8,495.6 851.7,495.2 852.1,494.3 852.4,493.8 852.7,493.0 853.3,491.9 853.2,491.4 853.3,490.2 853.7,489.1 853.8,488.8 853.8,488.4 854.4,486.9 854.5,486.5 855.0,486.1Z" fill="none" stroke="#000" stroke-width="1.9" stroke-linejoin="round"/>
<path d="M680.4,423.3 679.6,422.7 678.4,421.7 676.7,422.0 676.9,420.3 676.1,419.7 676.9,417.7 677.1,415.3 676.6,414.0 678.0,413.1 681.2,413.3 684.7,413.4 685.3,411.7 685.3,409.7 684.3,408.4 681.9,407.5 681.6,406.7 683.5,406.3 684.9,406.6 684.6,405.2 685.6,405.5 686.8,405.2 688.2,403.6 689.9,403.1 690.9,402.2 691.4,400.9 693.5,400.4 695.2,399.7 695.1,397.8 694.5,396.4 695.0,395.7 696.9,394.9 696.7,396.4 697.3,397.1 696.5,398.6 697.6,399.6 699.1,399.1 700.6,399.6 703.0,399.0 705.0,398.7 706.4,399.0 707.5,398.0 707.1,396.1 707.6,395.3 709.3,395.8 710.1,394.7 709.1,393.6 710.2,392.7 713.3,392.7 715.3,392.2 713.5,391.5 711.2,391.6 708.4,392.3 706.6,391.0 706.5,389.0 707.1,387.5 708.8,386.3 709.5,385.4 708.5,385.1 706.5,385.3 705.8,386.5 704.7,387.7 703.0,388.8 702.7,390.5 702.9,391.5 704.4,392.1 704.0,392.9 702.7,393.8 702.7,395.8 702.2,396.9 700.6,397.8 699.3,397.7 699.1,396.8 698.1,395.1 697.1,393.4 696.5,392.7 694.7,394.2 693.2,394.4 692.0,393.8 691.3,391.3 691.3,389.6 693.1,388.7 694.4,387.8 696.1,386.6 697.8,384.9 698.9,383.3 700.0,382.2 701.7,381.2 703.2,380.3 705.3,380.0 707.7,379.0 710.2,379.3 713.0,379.9 715.0,381.1 718.1,381.4 722.5,382.8 723.0,383.9 721.4,384.7 717.8,384.5 716.1,384.2 717.7,385.0 718.3,386.8 720.4,387.5 721.1,386.8 719.6,386.3 720.0,385.9 722.5,386.6 723.1,386.3 722.3,385.4 724.0,384.3 725.8,384.7 724.8,382.2 726.9,382.2 727.6,382.9 726.9,383.7 728.2,383.9 729.1,383.0 733.0,381.5 734.1,382.2 736.4,382.0 737.6,381.4 738.4,380.4 742.5,381.2 746.4,382.4 746.6,381.9 745.4,381.3 744.0,380.8 743.5,379.4 742.3,378.3 743.1,377.2 744.1,377.0 747.1,377.8 747.8,379.2 749.7,380.7 750.1,382.1 752.2,382.8 751.0,381.3 749.7,380.4 749.7,379.6 748.0,378.7 748.9,377.9 748.2,377.2 749.9,378.1 751.3,377.6 750.0,377.1 752.7,377.7 754.7,378.3 753.2,377.4 752.3,376.3 757.1,376.0 755.9,375.4 756.2,374.7 758.7,374.2 761.0,373.8 764.0,373.4 765.1,372.9 766.6,372.1 768.4,372.4 768.3,373.0 770.4,373.3 773.2,373.1 775.6,373.6 777.3,374.5 776.8,374.8 775.4,375.4 775.1,375.7 776.3,375.9 777.8,376.1 778.3,375.9 779.6,376.3 783.5,376.3 787.9,377.0 788.9,376.3 790.1,376.3 792.3,377.0 793.6,377.6 793.8,378.2 795.7,378.9 797.6,379.4 797.1,378.3 799.0,378.7 800.0,378.4 802.2,378.8 802.3,378.5 803.9,378.6 801.9,377.6 803.2,377.2 807.0,377.7 808.8,377.7 812.5,378.5 815.1,379.4 819.0,379.2 820.9,379.3 823.2,380.3 823.4,380.6 824.9,380.9 825.8,380.7 827.2,380.6 829.1,380.8 830.5,380.7 833.6,381.7 834.1,381.4 832.2,380.6 832.0,380.2 835.1,380.5 836.8,380.4 840.1,380.9 842.1,381.4M849.1,386.0 848.7,386.6 847.4,386.5 849.0,387.1 850.9,388.1 853.0,389.3 850.9,389.0 849.4,389.9 848.7,390.0 848.4,390.9 848.1,391.7 848.3,392.2 845.9,391.3 844.7,392.3 843.6,391.8 843.5,392.4 841.9,392.2 842.6,393.1 842.9,394.3 843.5,394.8 844.9,395.1 846.7,396.8 845.9,396.9 846.6,398.0 847.5,398.5 846.6,399.2 847.7,400.6 846.5,401.0 847.5,402.3 847.1,403.5 845.9,402.6 843.6,400.6 840.2,397.8 838.9,396.1 839.0,395.3 838.4,394.8 839.5,394.4 839.6,392.9 839.8,391.7 840.3,390.7 838.8,388.9 837.8,389.0 838.6,390.1 837.8,391.5 835.1,389.9 833.3,390.4 833.2,392.3 834.9,393.2 833.1,393.4 831.8,393.6 830.8,392.7 829.1,392.4 828.5,393.1 825.5,392.9 822.8,393.3 821.9,395.7 820.9,398.7 822.7,398.8 823.8,399.6 825.0,399.9 825.1,399.2 826.3,399.4 828.9,400.8 830.1,401.9 830.3,403.2 831.5,404.8 832.6,406.9 832.4,408.7 832.6,409.6 832.3,411.2 831.7,412.7 831.6,413.4 830.6,414.2 829.9,414.2 828.9,413.6 828.1,415.0 828.1,415.0 827.8,414.8 827.5,415.4 827.9,416.6 827.9,416.8 827.3,417.7 826.9,418.2 826.6,418.9 827.1,419.2 828.0,419.9 829.8,421.5 830.5,422.3 831.3,423.9 831.1,424.5 830.2,424.8 829.6,425.4 828.6,425.5 828.2,424.8 828.0,423.7 826.8,422.4 827.6,422.1 826.3,421.1 825.6,420.8 825.6,420.9 825.3,421.1 825.0,420.7 824.6,420.7 824.6,419.7 824.4,419.6 824.3,418.8 824.1,418.5 823.3,418.4 822.8,418.1 821.4,418.5 820.8,419.0 819.9,419.4 820.1,418.8 819.6,418.2 820.1,417.4 819.1,416.8 818.4,417.2 817.6,418.1 817.3,418.9 816.3,419.0 816.1,419.7 817.1,420.5 818.1,420.8 818.5,421.5 819.3,421.7 820.2,420.8 821.4,421.3 822.2,421.3 822.7,422.1 821.3,422.4 821.0,423.2 820.3,423.9 820.1,424.7 821.5,425.5 822.5,426.8 823.6,428.0 824.8,429.1 825.2,430.1 824.6,430.5 825.1,431.3 825.9,431.7 826.0,432.7 826.1,433.8 825.5,434.0 825.1,435.3 824.5,436.8 824.5,437.7 824.0,438.8 822.6,440.0 821.2,441.1 819.9,441.2 819.3,441.9 818.8,441.5 818.2,442.0 816.7,442.7 815.6,443.0 815.4,444.4 814.8,444.4 814.3,443.5 814.5,443.0 812.8,442.6 812.4,442.7 811.0,443.9 810.2,445.1 810.1,446.1 811.2,447.5 812.6,449.3 813.8,450.1 814.6,451.2 815.4,453.7 815.5,456.0 814.7,457.0 813.3,457.8 812.5,459.0 811.1,460.2 810.6,459.4 810.9,458.3 809.9,457.6 808.9,457.5 808.4,456.7 807.7,455.3 807.2,453.7 805.7,454.7 805.5,454.8 804.4,453.7 804.7,455.2 804.2,457.2 804.0,459.4 804.8,459.4 805.4,460.6 805.7,461.8 806.3,462.5 807.0,462.7 807.7,463.4 808.0,463.7 808.8,464.4 809.3,465.2 809.2,466.8 809.3,467.2 809.5,468.0 810.0,468.4 810.4,469.6 810.4,470.0 809.5,470.1 808.4,469.1 807.0,468.0 806.9,467.3 806.1,466.5 806.0,465.3 805.5,464.6 805.5,463.7 805.3,463.0 804.8,462.6 804.5,461.9 803.2,460.5 803.0,461.3 802.9,460.5 802.9,459.6 803.2,458.3 803.0,457.4 803.3,456.4 802.7,455.6 802.7,454.1 802.2,453.5 801.7,451.8 801.2,450.1 800.6,449.0 799.9,449.7 798.7,450.6 798.0,450.5 797.2,450.2 797.4,448.5 797.0,447.3 795.8,445.7 796.0,445.3 795.2,445.0 794.3,443.9 793.8,443.2 793.6,442.6 793.3,441.9 792.7,441.1 791.7,441.1 791.9,441.6 791.6,442.4 791.0,442.2 790.9,442.3 790.6,442.2 790.1,442.0 790.0,442.6 789.2,442.6 787.8,442.8 788.0,443.9 787.5,444.6 786.0,445.5 784.9,447.1 784.1,447.9 783.0,448.9 783.0,449.4 782.5,449.8 781.5,450.2 780.9,450.4 780.7,451.4 781.1,453.2 781.3,454.3 780.9,455.5 781.0,457.8 780.3,457.9 779.9,459.0 780.3,459.4 779.3,459.8 778.8,460.6 778.4,461.0 777.3,459.8 776.6,457.9 776.0,456.6 775.6,455.9 774.9,454.7 774.5,452.9 774.1,452.1 772.9,450.2 772.2,447.7 771.7,445.9 771.5,444.3 771.1,443.0 769.6,443.8 768.7,443.6 767.0,442.0 767.5,441.5 767.1,441.1 765.6,439.9 764.7,439.6 764.2,438.5 763.3,437.6 761.1,437.9 759.3,437.9 757.7,438.0 755.4,437.6 754.1,437.3 752.8,437.2 752.1,435.5 751.6,435.3 750.7,435.5 749.6,436.1 748.2,435.7 746.9,434.6 745.7,434.2 744.9,433.0 743.7,431.3 743.2,431.4 742.3,431.0 742.0,431.5 741.3,431.4 741.7,432.1 741.6,432.3 742.0,433.3 742.6,434.5 743.2,434.8 743.5,435.3 744.4,435.8 744.4,436.9 744.5,437.3 744.9,437.7 745.2,438.1 745.3,438.4 745.7,438.7 746.1,438.7 746.2,437.9 746.1,437.1 745.7,436.6 745.4,436.8 745.2,438.3 746.6,439.5 747.5,439.2 748.4,439.2 749.1,439.3 749.9,438.4 750.6,437.6 751.3,436.6 751.6,436.2 751.7,436.4 751.7,436.9 751.6,437.2 751.8,438.3 752.4,439.2 753.1,439.6 753.9,439.9 754.6,440.0 755.7,441.2 756.1,441.5 755.6,443.0 755.2,443.4 754.8,444.3 754.2,444.2 754.0,444.6 754.0,445.3 754.1,446.1 754.1,446.3 752.8,446.7 752.7,447.4 752.5,447.7 751.8,447.7 751.4,448.1 751.4,448.6 750.9,448.9 750.2,448.9 749.5,449.3 748.9,449.3 748.1,449.7 747.9,450.4 747.9,450.8 746.8,451.3 745.0,452.0 744.0,452.9 743.4,452.9 743.0,452.9 742.4,453.5 741.6,453.7 740.7,453.9 740.3,453.9 740.1,454.3 739.8,454.3 739.7,454.7 739.1,454.7 738.7,454.8 737.9,454.8 737.5,454.0 737.6,453.2 737.3,452.8 737.1,451.8 736.7,451.3 736.9,451.2 736.8,450.6 736.9,450.4 736.8,449.8 736.6,449.2 736.2,448.8 736.2,448.2 735.6,447.8 734.8,446.6 734.4,445.5 733.5,444.6 733.0,444.4 732.1,443.1 731.9,442.2 732.0,441.4 731.2,439.9 730.6,439.3 730.0,439.1 729.6,438.3 729.6,438.0 729.2,437.3 728.8,437.1 728.3,436.0 727.5,434.9 726.9,434.0 726.3,434.0 726.5,433.3 726.4,432.7 726.5,432.2 726.2,432.9 726.0,433.7 725.9,434.4 725.5,434.6 724.5,433.6 723.6,431.6 723.5,431.7 724.0,433.2 724.8,434.5 725.9,436.6 726.4,437.3 726.8,438.1 728.0,439.6 727.7,439.7 727.8,440.7 729.3,441.9 729.5,442.2 729.9,443.5 729.9,445.1 730.5,446.7 730.9,447.0 731.6,447.6 732.3,449.2 732.8,450.4 733.4,451.0 735.1,452.2 735.7,453.1 736.5,453.9 736.8,454.3 737.4,454.7 737.7,455.1 737.7,455.7 737.0,456.0 737.5,456.3 738.0,456.6 738.2,457.1 738.7,457.8 739.3,457.8 740.5,457.4 741.7,457.2 742.7,456.8 743.3,456.7 743.8,456.4 744.4,456.4 744.8,456.4 745.3,456.1 746.0,456.0 746.4,455.6 746.9,455.6 746.9,456.0 746.8,456.7 746.9,457.5 746.7,457.9 746.5,459.4 745.9,460.9 745.3,462.6 744.2,464.6 743.2,466.1 741.9,467.8 740.8,469.1 739.0,470.3 737.8,471.3 736.5,473.0 736.2,473.6 736.0,474.0 735.3,474.4 734.5,475.2 734.2,476.2 733.8,476.7 733.6,477.5 733.1,478.1 732.5,479.7 732.6,480.5 733.3,480.9 733.4,481.3 733.0,482.1 733.1,482.5 733.0,483.2 733.3,484.0 733.8,485.3 734.2,485.6 734.5,486.3 734.3,487.6 734.5,488.7 734.4,490.8 734.6,491.5 734.2,492.5 733.7,493.4 732.9,494.2 731.7,494.7 730.4,495.4 729.0,496.9 728.6,497.0 727.7,498.1 727.2,498.4 727.1,499.3 727.6,500.4 727.8,501.1 727.8,501.5 728.0,501.5 727.8,502.8 727.6,503.4 727.9,503.6 727.7,504.2 727.1,504.7 726.1,505.1 724.7,505.9 724.2,506.3 724.3,506.9 724.5,507.0 724.4,507.7 724.1,508.7 723.9,509.8 723.5,510.5 722.6,511.2 722.4,511.3 721.9,512.0 721.5,512.6 720.8,513.6 719.3,515.1 718.5,515.9 717.6,516.4 716.3,516.9 715.8,517.1 715.6,517.3 715.0,517.2 714.4,517.5 713.2,517.2 712.5,517.3 712.0,517.3 710.7,517.9 709.8,518.0 709.1,518.6 708.6,518.6 708.1,518.1 707.8,518.0 707.3,517.5 707.3,517.6 707.1,517.3 707.2,516.5 706.8,515.6 707.2,515.3 707.2,514.4 706.6,513.0 706.1,512.0 706.1,512.0 705.3,510.2 704.5,509.1 704.1,508.2 703.9,506.9 703.6,505.9 703.3,503.9 703.3,502.3 703.2,501.5 702.8,500.9 702.2,499.9 701.5,498.2 701.3,497.3 700.4,496.1 700.3,495.0 700.2,494.2 700.5,493.0 700.8,491.8 701.0,491.1 701.3,489.9 701.6,489.4 702.3,488.6 702.7,487.9 702.8,486.9 702.8,486.1 702.4,485.7 702.1,484.9 701.9,484.1 701.9,483.8 702.2,483.3 701.9,482.0 701.7,481.0 701.1,480.2 701.2,480.0 701.1,479.6 700.7,478.5 699.8,477.1 698.6,475.7 697.8,474.6 697.1,473.2 697.1,472.8 697.3,472.4 697.6,471.3 697.9,470.4 697.6,470.1 698.0,468.7 698.2,467.6 697.8,466.8 697.2,466.5 696.9,465.8 696.7,465.7 696.7,465.3 695.5,465.8 695.0,465.7 694.6,466.1 693.6,466.0 693.0,465.2 692.5,464.2 691.7,463.3 690.9,463.3 689.8,463.3 688.9,463.5 687.9,463.8 686.0,464.6 685.3,465.0 684.3,465.4 683.2,465.0 682.7,465.1 681.9,464.8 681.1,464.8 679.7,465.0 678.9,465.4 677.7,466.0 677.5,465.8 677.1,465.8 675.9,465.3 674.9,464.2 673.8,463.5 673.1,462.6 672.7,462.5 671.9,461.9 671.3,461.3 671.1,460.7 671.0,459.8 670.4,459.0 669.9,458.4 669.3,458.0 669.2,457.4 669.1,457.1 668.8,457.0 668.1,456.3 667.6,456.3 667.4,455.9 667.4,455.7 667.0,455.3 666.9,455.1 666.8,454.0 666.9,453.5 666.5,452.4 665.9,452.0 666.4,451.7 667.0,450.8 667.2,450.1 667.7,449.6 667.7,448.9 667.9,447.6 667.8,447.4 667.6,446.1 667.5,445.4 667.6,444.7 667.4,444.0 666.7,443.5 666.8,443.0 666.9,442.3 667.3,441.9 667.7,441.2 667.7,440.8 668.1,439.9 668.8,438.9 669.1,438.8 669.5,438.0 669.5,437.3 670.0,436.4 670.7,436.0 671.6,434.6 672.1,434.1 673.2,434.0 674.1,433.0 674.7,432.6 675.6,431.5 675.5,429.8 676.0,428.7 676.1,427.9 676.8,427.1 677.9,426.4 678.8,425.9 679.7,424.5 680.0,423.6 680.8,423.6 681.5,424.3 682.6,424.1 683.7,424.4 684.1,424.4 685.3,423.7 686.5,423.5 687.2,422.9 688.3,422.5 690.2,422.3 691.9,422.1 692.5,422.4 693.6,421.9 694.7,421.9 695.2,422.1 695.9,422.1 697.1,421.6 697.9,421.7 697.9,422.4 698.8,421.9 698.9,422.1 698.4,422.8 698.4,423.5 698.8,423.7 698.7,424.9 697.9,425.6 698.2,426.3 698.9,426.3 699.1,427.0 699.6,427.2 700.9,427.6 701.4,427.5 702.3,427.8 703.8,428.3 704.4,429.5 705.5,429.8 707.1,430.3 708.4,431.0 708.9,430.7 709.4,430.1 709.0,429.0 709.4,428.4 710.2,427.8 710.9,427.6 712.5,427.9 712.9,428.4 713.3,428.4 713.7,428.7 714.8,428.8 715.2,429.3 716.7,429.3 717.8,429.7 719.0,430.1 719.5,430.2 720.3,429.8 720.8,429.4 721.8,429.3 722.6,429.5 722.9,430.2 723.2,429.7 724.1,430.1 725.0,430.1 725.6,429.8 725.9,429.4 726.0,428.6 726.1,427.6 726.2,427.2 726.5,426.2 727.0,425.2 726.7,424.1 726.6,423.6 726.9,422.4 726.2,422.5 725.2,422.3 724.5,423.1 722.8,423.2 721.9,422.5 720.6,422.4 720.5,422.9 719.7,423.2 718.5,422.4 717.3,422.4 716.5,421.1 715.6,420.4 716.1,419.3 715.4,418.6 716.4,417.4 718.1,417.3 718.4,416.4 717.1,415.8 716.1,416.8 715.5,417.7 715.0,417.2 714.3,416.8 713.7,416.8 712.5,417.0 713.3,417.8 712.8,418.0 712.1,418.0 711.5,417.3 711.3,417.6 711.6,418.4 712.3,419.0 711.9,419.4 712.5,420.0 713.1,420.4 713.2,421.1 712.1,420.8 712.5,421.5 711.9,421.6 712.4,422.8 711.7,422.8 710.7,422.3 710.2,421.2 709.9,420.3 709.4,419.6 708.8,418.9 708.8,418.5 708.5,418.4 708.5,418.1 707.8,417.6 707.7,417.0 707.7,416.1 707.8,415.7 707.6,415.4 707.4,415.4 707.0,414.9 706.6,414.6 705.5,414.2 704.8,413.7 703.8,413.3 702.9,412.4 703.1,412.3 702.5,411.7 702.5,411.2 701.8,411.1 701.5,411.6 701.2,411.2 701.1,410.7 701.3,410.5 700.5,410.4 699.7,410.8 699.8,411.5 699.7,411.9 700.1,412.5 701.1,413.2 701.7,414.2 703.0,415.3 703.8,415.4 704.2,415.7 703.9,416.0 704.9,416.4 705.7,416.8 706.7,417.4 706.8,417.7 706.7,418.2 705.9,417.6 705.1,417.4 704.6,418.2 705.5,418.8 705.4,419.4 704.9,419.6 704.4,420.7 704.0,420.8 703.9,420.4 704.1,419.6 704.3,419.3 703.8,418.0 703.0,417.7 702.6,417.2 702.0,416.9 701.4,416.4 700.6,416.2 699.7,415.7 698.7,414.8 697.9,414.1 697.5,412.8 697.0,412.7 696.1,412.1 695.6,412.4 695.1,412.9 694.5,413.1 693.6,413.8 691.5,413.4 689.9,413.8 689.8,414.6 689.9,415.4 688.9,416.4 687.5,416.6 687.4,417.0 686.7,417.8 686.3,418.9 686.7,419.7 686.0,420.3 685.8,421.2 685.0,421.5 684.3,422.4 681.7,422.4 681.0,422.9 680.6,423.5 680.4,423.3M531.1,381.4 531.8,382.3 532.4,383.5 531.3,384.2 531.5,384.5 532.5,383.6 534.6,383.8 534.9,384.9 533.2,385.4 531.6,385.6 530.0,386.6 529.4,386.9 528.5,386.9 528.3,386.5 527.6,386.2 528.2,385.6 527.5,385.4 526.3,385.6 526.3,385.2 527.2,384.7 525.8,385.0 525.4,385.6 524.1,386.0M562.9,577.1 571.2,577.7 578.9,578.0 585.9,578.1 587.8,577.8 585.1,576.9 580.8,575.8 575.5,574.5 570.3,573.4 565.0,572.3 561.8,571.5 564.1,570.9 567.6,570.8 569.5,570.3 571.7,569.8 570.4,569.1 571.1,568.9 573.8,568.7 577.0,568.5 580.8,568.1 584.2,568.0 589.0,568.1 592.5,567.9 593.8,567.3 597.2,568.0 600.3,568.5 603.7,568.5 604.2,567.6 604.0,566.9 606.4,566.5 608.9,567.1 611.8,567.0 615.2,567.0 618.9,567.2 620.2,566.6 622.6,566.9 623.9,566.5 626.6,567.2 628.7,566.7 629.5,565.2 629.5,564.8 628.7,563.2 628.3,561.6 628.0,560.7 628.1,558.6 629.2,557.3 630.3,556.5 632.6,555.6 634.2,555.4 634.2,556.2 633.3,556.5 632.7,557.8 631.5,559.1 631.7,561.1 632.6,562.1 634.2,563.6 634.9,564.6 635.7,565.7 636.5,566.6 636.9,567.7 635.8,568.2 635.4,568.9 635.1,569.4 631.8,569.9 628.0,570.6 626.7,570.7 626.5,571.1 631.3,573.0 637.3,574.6 642.3,575.3 645.3,575.5 650.6,575.0 655.2,574.2 660.0,573.6 665.1,573.4 666.7,571.5 669.3,569.7 672.1,568.1 674.4,567.3 673.7,566.7 676.4,566.0 677.8,565.0 680.4,564.7 681.7,564.3 684.9,564.5 687.6,564.1 690.1,563.7 693.0,563.0 694.7,563.2 697.2,563.5 700.1,563.3 702.7,563.5 704.8,563.6 707.5,563.3 710.1,563.2 712.5,562.4 714.7,562.6 716.0,561.5 718.1,562.6 719.6,563.0 722.3,561.4 725.3,560.4 727.5,560.5 729.6,560.0 732.3,559.2 735.5,558.4 737.5,559.1 737.7,560.5 739.8,560.5 742.4,560.5 744.7,561.2 746.8,562.0 745.3,564.1 746.5,565.1 747.3,564.9 748.8,563.6 750.3,563.0 751.4,562.8 754.2,562.0 755.5,561.3 758.4,560.3 761.4,559.8 765.0,558.9 767.0,559.3 768.6,559.6 771.0,559.2 773.5,559.2 774.7,559.8 778.8,558.2 780.5,559.7 782.7,559.5 786.1,558.6 788.2,558.5 789.0,559.5 790.8,559.7 793.2,560.0 796.0,559.2 797.6,559.5 799.8,559.5 802.9,559.1 806.2,558.8 807.6,558.3 809.0,559.0 811.2,559.6 812.7,560.0 815.1,559.8 814.8,560.8 816.1,561.6 818.5,562.0 821.0,561.9 822.3,562.6 823.0,562.9 823.5,563.5 825.3,564.0 827.0,564.1 828.6,564.3 829.7,564.8 826.7,566.4 823.1,567.4 818.9,568.5 815.1,569.9 812.7,571.2 809.2,572.2 806.4,573.2 804.1,574.1 803.2,575.0 803.4,575.8 804.0,576.4 805.6,576.8 807.8,577.1 810.3,577.1" fill="none" stroke="#000" stroke-width="1.9" stroke-linejoin="round"/>
</g>
<path d="M800.40,580.20 L804.37,579.10 L808.96,577.61 L814.03,575.77 L819.46,573.63 L825.08,571.24 L830.55,568.66 L835.59,565.99 L840.26,563.23 L844.73,560.38 L849.05,557.46 L853.27,554.47 L857.37,551.42 L861.34,548.32 L865.15,545.16 L868.79,541.97 L872.19,538.73 L875.31,535.46 L878.24,532.17 L881.05,528.85 L883.67,525.52 L886.04,522.18 L888.18,518.82 L890.14,515.46 L891.88,512.10 L893.39,508.73 L894.66,505.37 L895.71,502.01 L896.63,498.65 L897.51,495.28 L898.30,491.92 L898.94,488.56 L899.45,485.20 L899.85,481.84 L900.14,478.47 L900.33,475.11 L900.43,471.75 L900.33,468.39 L900.14,465.03 L899.85,461.66 L899.45,458.30 L898.94,454.94 L898.30,451.58 L897.51,448.22 L896.63,444.85 L895.71,441.49 L894.66,438.13 L893.39,434.77 L891.88,431.40 L890.14,428.04 L888.18,424.68 L886.04,421.32 L883.67,417.98 L881.05,414.65 L878.24,411.33 L875.31,408.04 L872.19,404.77 L868.79,401.53 L865.15,398.34 L861.34,395.18 L857.37,392.08 L853.27,389.03 L849.05,386.04 L844.73,383.12 L840.26,380.27 L835.59,377.51 L830.55,374.84 L825.08,372.26 L819.46,369.87 L814.03,367.73 L808.96,365.89 L804.37,364.40 L800.40,363.30 L572.80,363.30 L568.83,364.40 L564.24,365.89 L559.17,367.73 L553.74,369.87 L548.12,372.26 L542.65,374.84 L537.61,377.51 L532.94,380.27 L528.47,383.12 L524.15,386.04 L519.93,389.03 L515.83,392.08 L511.86,395.18 L508.05,398.34 L504.41,401.53 L501.01,404.77 L497.89,408.04 L494.96,411.33 L492.15,414.65 L489.53,417.98 L487.16,421.32 L485.02,424.68 L483.06,428.04 L481.32,431.40 L479.81,434.77 L478.54,438.13 L477.49,441.49 L476.57,444.85 L475.69,448.22 L474.90,451.58 L474.26,454.94 L473.75,458.30 L473.35,461.66 L473.06,465.03 L472.87,468.39 L472.77,471.75 L472.87,475.11 L473.06,478.47 L473.35,481.84 L473.75,485.20 L474.26,488.56 L474.90,491.92 L475.69,495.28 L476.57,498.65 L477.49,502.01 L478.54,505.37 L479.81,508.73 L481.32,512.10 L483.06,515.46 L485.02,518.82 L487.16,522.18 L489.53,525.52 L492.15,528.85 L494.96,532.17 L497.89,535.46 L501.01,538.73 L504.41,541.97 L508.05,545.16 L511.86,548.32 L515.83,551.42 L519.93,554.47 L524.15,557.46 L528.47,560.38 L532.94,563.23 L537.61,565.99 L542.65,568.66 L548.12,571.24 L553.74,573.63 L559.17,575.77 L564.24,577.61 L568.83,579.10 L572.80,580.20 Z" fill="none" stroke="#bfbfbf" stroke-width="1.4"/>
<polygon points="178.00,641.0 150.4,652.5 178.00,664.0" fill="#053061"/>
<polygon points="723.60,641.0 750.6,652.5 723.60,664.0" fill="#67001f"/>
<rect x="178.00" y="641.0" width="49.90" height="23.0" fill="#1c5da0"/>
<rect x="227.60" y="641.0" width="49.90" height="23.0" fill="#3884bb"/>
<rect x="277.20" y="641.0" width="49.90" height="23.0" fill="#6bacd0"/>
<rect x="326.80" y="641.0" width="49.90" height="23.0" fill="#a7d0e4"/>
<rect x="376.40" y="641.0" width="49.90" height="23.0" fill="#d7e8f1"/>
<rect x="426.00" y="641.0" width="49.90" height="23.0" fill="#f7f7f7"/>
<rect x="475.60" y="641.0" width="49.90" height="23.0" fill="#fce0cf"/>
<rect x="525.20" y="641.0" width="49.90" height="23.0" fill="#f7b799"/>
<rect x="574.80" y="641.0" width="49.90" height="23.0" fill="#e58268"/>
<rect x="624.40" y="641.0" width="49.90" height="23.0" fill="#ca4842"/>
<rect x="674.00" y="641.0" width="49.90" height="23.0" fill="#a61429"/>
<path d="M178.00,641.0 L150.4,652.5 L178.00,664.0 L723.60,664.0 L750.6,652.5 L723.60,641.0 Z" fill="none" stroke="#d0d0d0" stroke-width="1"/>
<line x1="178.00" y1="664.0" x2="178.00" y2="668.5" stroke="#000" stroke-width="1"/>
<text x="178.00" y="685.2" font-size="14.5" fill="#262626" stroke="#262626" stroke-width="0.25" text-anchor="middle">−40.00</text>
<line x1="227.60" y1="664.0" x2="227.60" y2="668.5" stroke="#000" stroke-width="1"/>
<text x="227.60" y="685.2" font-size="14.5" fill="#262626" stroke="#262626" stroke-width="0.25" text-anchor="middle">−32.73</text>
<line x1="277.20" y1="664.0" x2="277.20" y2="668.5" stroke="#000" stroke-width="1"/>
<text x="277.20" y="685.2" font-size="14.5" fill="#262626" stroke="#262626" stroke-width="0.25" text-anchor="middle">−25.45</text>
<line x1="326.80" y1="664.0" x2="326.80" y2="668.5" stroke="#000" stroke-width="1"/>
<text x="326.80" y="685.2" font-size="14.5" fill="#262626" stroke="#262626" stroke-width="0.25" text-anchor="middle">−18.18</text>
<line x1="376.40" y1="664.0" x2="376.40" y2="668.5" stroke="#000" stroke-width="1"/>
<text x="376.40" y="685.2" font-size="14.5" fill="#262626" stroke="#262626" stroke-width="0.25" text-anchor="middle">−10.91</text>
<line x1="426.00" y1="664.0" x2="426.00" y2="668.5" stroke="#000" stroke-width="1"/>
<text x="426.00" y="685.2" font-size="14.5" fill="#262626" stroke="#262626" stroke-width="0.25" text-anchor="middle">−3.64</text>
<line x1="475.60" y1="664.0" x2="475.60" y2="668.5" stroke="#000" stroke-width="1"/>
<text x="475.60" y="685.2" font-size="14.5" fill="#262626" stroke="#262626" stroke-width="0.25" text-anchor="middle">3.64</text>
<line x1="525.20" y1="664.0" x2="525.20" y2="668.5" stroke="#000" stroke-width="1"/>
<text x="525.20" y="685.2" font-size="14.5" fill="#262626" stroke="#262626" stroke-width="0.25" text-anchor="middle">10.91</text>
<line x1="574.80" y1="664.0" x2="574.80" y2="668.5" stroke="#000" stroke-width="1"/>
<text x="574.80" y="685.2" font-size="14.5" fill="#262626" stroke="#262626" stroke-width="0.25" text-anchor="middle">18.18</text>
<line x1="624.40" y1="664.0" x2="624.40" y2="668.5" stroke="#000" stroke-width="1"/>
<text x="624.40" y="685.2" font-size="14.5" fill="#262626" stroke="#262626" stroke-width="0.25" text-anchor="middle">25.45</text>
<line x1="674.00" y1="664.0" x2="674.00" y2="668.5" stroke="#000" stroke-width="1"/>
<text x="674.00" y="685.2" font-size="14.5" fill="#262626" stroke="#262626" stroke-width="0.25" text-anchor="middle">32.73</text>
<line x1="723.60" y1="664.0" x2="723.60" y2="668.5" stroke="#000" stroke-width="1"/>
<text x="723.60" y="685.2" font-size="14.5" fill="#262626" stroke="#262626" stroke-width="0.25" text-anchor="middle">40.00</text>
<text x="317.4" y="703.4" font-size="14.2" fill="#262626" stroke="#262626" stroke-width="0.25" textLength="265.2" lengthAdjust="spacingAndGlyphs">Top net long-wave radiation flux [W m**-2]</text>
</svg></body></html>
